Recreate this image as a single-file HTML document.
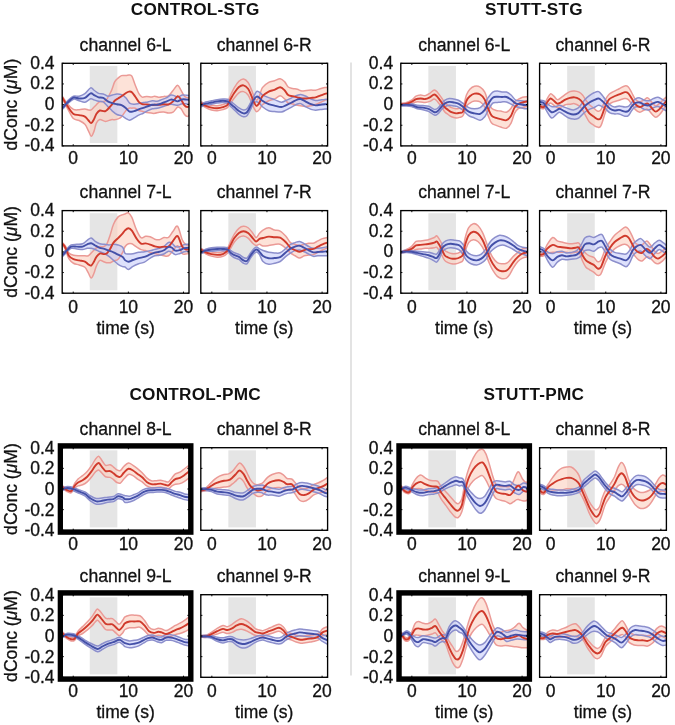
<!DOCTYPE html><html><head><meta charset="utf-8"><style>html,body{margin:0;padding:0;background:#fff;width:675px;height:725px;overflow:hidden}svg{display:block;filter:blur(0.3px)}text{font-family:"Liberation Sans", sans-serif;stroke:#111;stroke-width:0.3px}</style></head><body>
<svg width="675" height="725" viewBox="0 0 675 725">
<rect x="0" y="0" width="675" height="725" fill="#fff"/>
<line x1="351" y1="62.6" x2="351" y2="675.5" stroke="#dcdcdc" stroke-width="1.6"/>
<clipPath id="clip00"><rect x="62.20" y="63.30" width="126.80" height="82.60"/></clipPath>
<rect x="89.77" y="65.90" width="27.57" height="77.10" fill="#e5e5e5"/>
<g clip-path="url(#clip00)">
<path d="M62.23,96.20C63.14,97.54 65.85,102.02 67.72,104.22C69.59,106.41 71.54,108.45 73.45,109.37C75.36,110.28 77.27,109.79 79.17,109.71C81.08,109.64 83.37,108.87 84.90,108.91C86.42,108.95 87.28,109.77 88.33,109.94C89.38,110.11 90.24,110.42 91.19,109.94C92.15,109.46 93.20,107.94 94.06,107.08C94.92,106.22 95.39,105.70 96.35,104.79C97.30,103.87 98.26,102.25 99.78,101.58C101.31,100.92 103.60,102.54 105.51,100.78C107.41,99.03 109.70,94.20 111.23,91.05C112.76,87.90 113.52,84.05 114.67,81.89C115.81,79.73 116.96,79.16 118.10,78.11C119.25,77.06 120.22,76.01 121.53,75.59C122.85,75.17 124.75,75.69 126.00,75.59C127.25,75.50 128.03,74.92 129.01,75.02C129.98,75.11 130.82,74.44 131.87,76.16C132.92,77.88 134.15,82.45 135.30,85.32C136.44,88.18 137.59,91.36 138.73,93.33C139.88,95.29 140.83,96.59 142.17,97.10C143.50,97.62 145.22,96.42 146.74,96.42C148.27,96.42 149.99,97.14 151.32,97.10C152.66,97.06 153.42,96.15 154.75,96.19C156.09,96.22 157.81,97.29 159.33,97.33C160.86,97.37 162.38,96.66 163.91,96.42C165.43,96.17 166.96,96.84 168.49,95.84C170.01,94.85 171.54,92.22 173.06,90.46C174.59,88.71 176.31,85.32 177.64,85.32C178.98,85.32 179.93,88.65 181.07,90.46C182.22,92.28 183.46,94.99 184.51,96.19C185.56,97.39 186.45,97.48 187.37,97.67C188.28,97.87 189.56,97.39 190.00,97.33 L190.00,114.50C189.56,114.82 188.28,116.44 187.37,116.44C186.45,116.44 185.56,115.77 184.51,114.50C183.46,113.22 182.22,110.01 181.07,108.77C179.93,107.53 178.98,106.49 177.64,107.06C176.31,107.63 174.59,111.22 173.06,112.21C171.54,113.20 170.01,113.05 168.49,113.01C166.96,112.97 165.43,112.11 163.91,111.98C162.38,111.85 160.86,111.98 159.33,112.21C157.81,112.44 156.09,113.20 154.75,113.35C153.42,113.50 152.66,113.28 151.32,113.12C149.99,112.97 148.27,112.74 146.74,112.44C145.22,112.13 143.50,111.62 142.17,111.29C140.83,110.97 139.88,111.01 138.73,110.49C137.59,109.98 136.44,108.58 135.30,108.20C134.15,107.82 132.92,108.20 131.87,108.20C130.82,108.20 129.98,107.84 129.01,108.20C128.03,108.57 127.25,108.96 126.00,110.40C124.75,111.83 122.85,115.40 121.53,116.81C120.22,118.22 119.25,118.39 118.10,118.87C116.96,119.35 115.81,119.54 114.67,119.67C113.52,119.81 112.76,119.39 111.23,119.67C109.70,119.96 107.41,121.43 105.51,121.39C103.60,121.35 101.31,119.16 99.78,119.44C98.26,119.73 97.30,121.16 96.35,123.11C95.39,125.05 94.92,128.93 94.06,131.12C93.20,133.32 92.15,136.37 91.19,136.27C90.24,136.18 89.38,132.55 88.33,130.55C87.28,128.55 86.42,125.93 84.90,124.25C83.37,122.57 81.08,121.43 79.17,120.47C77.27,119.52 75.36,120.47 73.45,118.53C71.54,116.58 69.59,112.14 67.72,108.80C65.85,105.46 63.14,100.21 62.23,98.49 Z" fill="#fbcfbe" fill-opacity="0.60" stroke="none"/>
<path d="M62.23,107.08C62.67,106.56 63.95,105.04 64.86,103.99C65.78,102.94 66.29,102.08 67.72,100.78C69.16,99.48 71.54,96.97 73.45,96.20C75.36,95.44 77.27,96.62 79.17,96.20C81.08,95.78 82.99,95.08 84.90,93.68C86.81,92.29 89.10,88.42 90.62,87.84C92.15,87.27 92.72,89.33 94.06,90.25C95.39,91.16 97.11,92.73 98.64,93.34C100.16,93.95 101.69,93.44 103.22,93.91C104.74,94.39 106.27,96.01 107.80,96.20C109.32,96.39 110.85,95.44 112.38,95.06C113.90,94.68 115.43,93.99 116.96,93.91C118.48,93.84 120.03,93.93 121.53,94.60C123.04,95.27 124.66,96.51 126.00,97.92C127.34,99.33 128.22,102.01 129.58,103.05C130.94,104.10 132.63,104.10 134.15,104.20C135.68,104.29 137.21,103.91 138.73,103.62C140.26,103.34 141.78,102.77 143.31,102.48C144.84,102.19 146.36,102.19 147.89,101.91C149.41,101.62 150.94,100.86 152.46,100.76C153.99,100.67 155.52,101.53 157.04,101.34C158.57,101.15 160.09,100.19 161.62,99.62C163.15,99.05 164.67,98.67 166.20,97.90C167.72,97.14 169.44,95.42 170.77,95.04C172.11,94.66 173.06,95.23 174.21,95.61C175.35,96.00 176.31,97.43 177.64,97.33C178.98,97.24 180.69,95.39 182.22,95.04C183.74,94.70 185.50,95.19 186.80,95.27C188.09,95.35 189.47,95.46 190.00,95.50 L190.00,104.20C189.47,104.16 188.09,104.04 186.80,103.97C185.50,103.89 183.74,103.51 182.22,103.74C180.69,103.97 178.98,105.17 177.64,105.34C176.31,105.51 175.35,104.96 174.21,104.77C173.06,104.58 172.11,104.08 170.77,104.20C169.44,104.31 167.72,105.00 166.20,105.46C164.67,105.91 163.15,106.49 161.62,106.94C160.09,107.40 158.57,107.90 157.04,108.20C155.52,108.51 153.99,108.37 152.46,108.77C150.94,109.18 149.41,109.86 147.89,110.61C146.36,111.35 144.84,112.49 143.31,113.24C141.78,113.98 140.26,114.29 138.73,115.07C137.21,115.85 135.68,117.07 134.15,117.93C132.63,118.79 130.94,120.12 129.58,120.22C128.22,120.32 127.34,119.29 126.00,118.53C124.66,117.77 123.04,116.33 121.53,115.67C120.03,115.00 118.48,115.28 116.96,114.52C115.43,113.76 113.90,112.42 112.38,111.09C110.85,109.75 109.32,108.03 107.80,106.51C106.27,104.98 104.74,102.79 103.22,101.93C101.69,101.07 100.16,101.70 98.64,101.35C97.11,101.01 95.39,100.29 94.06,99.87C92.72,99.45 92.15,98.45 90.62,98.84C89.10,99.22 86.81,101.83 84.90,102.16C82.99,102.48 81.08,101.28 79.17,100.78C77.27,100.29 75.36,98.68 73.45,99.18C71.54,99.68 69.16,102.50 67.72,103.76C66.29,105.02 65.78,105.80 64.86,106.74C63.95,107.67 62.67,108.93 62.23,109.37 Z" fill="#c8cdfa" fill-opacity="0.60" stroke="none"/>
<path d="M62.23,96.20C63.14,97.54 65.85,102.02 67.72,104.22C69.59,106.41 71.54,108.45 73.45,109.37C75.36,110.28 77.27,109.79 79.17,109.71C81.08,109.64 83.37,108.87 84.90,108.91C86.42,108.95 87.28,109.77 88.33,109.94C89.38,110.11 90.24,110.42 91.19,109.94C92.15,109.46 93.20,107.94 94.06,107.08C94.92,106.22 95.39,105.70 96.35,104.79C97.30,103.87 98.26,102.25 99.78,101.58C101.31,100.92 103.60,102.54 105.51,100.78C107.41,99.03 109.70,94.20 111.23,91.05C112.76,87.90 113.52,84.05 114.67,81.89C115.81,79.73 116.96,79.16 118.10,78.11C119.25,77.06 120.22,76.01 121.53,75.59C122.85,75.17 124.75,75.69 126.00,75.59C127.25,75.50 128.03,74.92 129.01,75.02C129.98,75.11 130.82,74.44 131.87,76.16C132.92,77.88 134.15,82.45 135.30,85.32C136.44,88.18 137.59,91.36 138.73,93.33C139.88,95.29 140.83,96.59 142.17,97.10C143.50,97.62 145.22,96.42 146.74,96.42C148.27,96.42 149.99,97.14 151.32,97.10C152.66,97.06 153.42,96.15 154.75,96.19C156.09,96.22 157.81,97.29 159.33,97.33C160.86,97.37 162.38,96.66 163.91,96.42C165.43,96.17 166.96,96.84 168.49,95.84C170.01,94.85 171.54,92.22 173.06,90.46C174.59,88.71 176.31,85.32 177.64,85.32C178.98,85.32 179.93,88.65 181.07,90.46C182.22,92.28 183.46,94.99 184.51,96.19C185.56,97.39 186.45,97.48 187.37,97.67C188.28,97.87 189.56,97.39 190.00,97.33" fill="none" stroke="#eb9a96" stroke-width="1.50"/>
<path d="M62.23,98.49C63.14,100.21 65.85,105.46 67.72,108.80C69.59,112.14 71.54,116.58 73.45,118.53C75.36,120.47 77.27,119.52 79.17,120.47C81.08,121.43 83.37,122.57 84.90,124.25C86.42,125.93 87.28,128.55 88.33,130.55C89.38,132.55 90.24,136.18 91.19,136.27C92.15,136.37 93.20,133.32 94.06,131.12C94.92,128.93 95.39,125.05 96.35,123.11C97.30,121.16 98.26,119.73 99.78,119.44C101.31,119.16 103.60,121.35 105.51,121.39C107.41,121.43 109.70,119.96 111.23,119.67C112.76,119.39 113.52,119.81 114.67,119.67C115.81,119.54 116.96,119.35 118.10,118.87C119.25,118.39 120.22,118.22 121.53,116.81C122.85,115.40 124.75,111.83 126.00,110.40C127.25,108.96 128.03,108.57 129.01,108.20C129.98,107.84 130.82,108.20 131.87,108.20C132.92,108.20 134.15,107.82 135.30,108.20C136.44,108.58 137.59,109.98 138.73,110.49C139.88,111.01 140.83,110.97 142.17,111.29C143.50,111.62 145.22,112.13 146.74,112.44C148.27,112.74 149.99,112.97 151.32,113.12C152.66,113.28 153.42,113.50 154.75,113.35C156.09,113.20 157.81,112.44 159.33,112.21C160.86,111.98 162.38,111.85 163.91,111.98C165.43,112.11 166.96,112.97 168.49,113.01C170.01,113.05 171.54,113.20 173.06,112.21C174.59,111.22 176.31,107.63 177.64,107.06C178.98,106.49 179.93,107.53 181.07,108.77C182.22,110.01 183.46,113.22 184.51,114.50C185.56,115.77 186.45,116.44 187.37,116.44C188.28,116.44 189.56,114.82 190.00,114.50" fill="none" stroke="#eb9a96" stroke-width="1.50"/>
<path d="M62.23,107.08C62.67,106.56 63.95,105.04 64.86,103.99C65.78,102.94 66.29,102.08 67.72,100.78C69.16,99.48 71.54,96.97 73.45,96.20C75.36,95.44 77.27,96.62 79.17,96.20C81.08,95.78 82.99,95.08 84.90,93.68C86.81,92.29 89.10,88.42 90.62,87.84C92.15,87.27 92.72,89.33 94.06,90.25C95.39,91.16 97.11,92.73 98.64,93.34C100.16,93.95 101.69,93.44 103.22,93.91C104.74,94.39 106.27,96.01 107.80,96.20C109.32,96.39 110.85,95.44 112.38,95.06C113.90,94.68 115.43,93.99 116.96,93.91C118.48,93.84 120.03,93.93 121.53,94.60C123.04,95.27 124.66,96.51 126.00,97.92C127.34,99.33 128.22,102.01 129.58,103.05C130.94,104.10 132.63,104.10 134.15,104.20C135.68,104.29 137.21,103.91 138.73,103.62C140.26,103.34 141.78,102.77 143.31,102.48C144.84,102.19 146.36,102.19 147.89,101.91C149.41,101.62 150.94,100.86 152.46,100.76C153.99,100.67 155.52,101.53 157.04,101.34C158.57,101.15 160.09,100.19 161.62,99.62C163.15,99.05 164.67,98.67 166.20,97.90C167.72,97.14 169.44,95.42 170.77,95.04C172.11,94.66 173.06,95.23 174.21,95.61C175.35,96.00 176.31,97.43 177.64,97.33C178.98,97.24 180.69,95.39 182.22,95.04C183.74,94.70 185.50,95.19 186.80,95.27C188.09,95.35 189.47,95.46 190.00,95.50" fill="none" stroke="#8c8fcc" stroke-width="1.50"/>
<path d="M62.23,109.37C62.67,108.93 63.95,107.67 64.86,106.74C65.78,105.80 66.29,105.02 67.72,103.76C69.16,102.50 71.54,99.68 73.45,99.18C75.36,98.68 77.27,100.29 79.17,100.78C81.08,101.28 82.99,102.48 84.90,102.16C86.81,101.83 89.10,99.22 90.62,98.84C92.15,98.45 92.72,99.45 94.06,99.87C95.39,100.29 97.11,101.01 98.64,101.35C100.16,101.70 101.69,101.07 103.22,101.93C104.74,102.79 106.27,104.98 107.80,106.51C109.32,108.03 110.85,109.75 112.38,111.09C113.90,112.42 115.43,113.76 116.96,114.52C118.48,115.28 120.03,115.00 121.53,115.67C123.04,116.33 124.66,117.77 126.00,118.53C127.34,119.29 128.22,120.32 129.58,120.22C130.94,120.12 132.63,118.79 134.15,117.93C135.68,117.07 137.21,115.85 138.73,115.07C140.26,114.29 141.78,113.98 143.31,113.24C144.84,112.49 146.36,111.35 147.89,110.61C149.41,109.86 150.94,109.18 152.46,108.77C153.99,108.37 155.52,108.51 157.04,108.20C158.57,107.90 160.09,107.40 161.62,106.94C163.15,106.49 164.67,105.91 166.20,105.46C167.72,105.00 169.44,104.31 170.77,104.20C172.11,104.08 173.06,104.58 174.21,104.77C175.35,104.96 176.31,105.51 177.64,105.34C178.98,105.17 180.69,103.97 182.22,103.74C183.74,103.51 185.50,103.89 186.80,103.97C188.09,104.04 189.47,104.16 190.00,104.20" fill="none" stroke="#8c8fcc" stroke-width="1.50"/>
<path d="M62.23,97.35C63.14,98.87 65.85,103.74 67.72,106.51C69.59,109.27 71.54,112.52 73.45,113.95C75.36,115.38 77.27,114.65 79.17,115.09C81.08,115.53 83.37,115.72 84.90,116.58C86.42,117.44 87.28,119.16 88.33,120.25C89.38,121.33 90.24,123.30 91.19,123.11C92.15,122.92 93.20,120.63 94.06,119.10C94.92,117.57 95.39,115.38 96.35,113.95C97.30,112.52 98.26,110.99 99.78,110.51C101.31,110.04 103.60,111.94 105.51,111.09C107.41,110.23 109.70,107.08 111.23,105.36C112.76,103.64 113.52,101.93 114.67,100.78C115.81,99.64 116.96,99.26 118.10,98.49C119.25,97.73 120.22,97.12 121.53,96.20C122.85,95.29 124.75,93.76 126.00,93.00C127.25,92.23 128.03,91.75 129.01,91.61C129.98,91.47 130.82,91.32 131.87,92.18C132.92,93.04 134.15,95.14 135.30,96.76C136.44,98.38 137.59,100.67 138.73,101.91C139.88,103.15 140.83,103.78 142.17,104.20C143.50,104.62 145.22,104.27 146.74,104.43C148.27,104.58 149.99,105.06 151.32,105.11C152.66,105.17 153.42,104.83 154.75,104.77C156.09,104.71 157.81,104.86 159.33,104.77C160.86,104.67 162.38,104.25 163.91,104.20C165.43,104.14 166.96,104.90 168.49,104.43C170.01,103.95 171.54,102.71 173.06,101.34C174.59,99.96 176.31,96.47 177.64,96.19C178.98,95.90 179.93,98.09 181.07,99.62C182.22,101.15 183.46,104.10 184.51,105.34C185.56,106.58 186.45,106.96 187.37,107.06C188.28,107.15 189.56,106.10 190.00,105.91" fill="none" stroke="#d03a2c" stroke-width="1.90" stroke-linejoin="round"/>
<path d="M62.23,108.22C62.67,107.75 63.95,106.35 64.86,105.36C65.78,104.37 66.29,103.55 67.72,102.27C69.16,100.99 71.54,98.32 73.45,97.69C75.36,97.06 77.27,98.45 79.17,98.49C81.08,98.53 82.99,98.78 84.90,97.92C86.81,97.06 89.10,93.82 90.62,93.34C92.15,92.86 92.72,94.39 94.06,95.06C95.39,95.73 97.11,96.87 98.64,97.35C100.16,97.82 101.69,97.25 103.22,97.92C104.74,98.59 106.27,100.50 107.80,101.35C109.32,102.21 110.85,102.59 112.38,103.07C113.90,103.55 115.43,103.87 116.96,104.22C118.48,104.56 120.03,104.46 121.53,105.13C123.04,105.80 124.66,107.14 126.00,108.22C127.34,109.31 128.22,111.16 129.58,111.64C130.94,112.11 132.63,111.44 134.15,111.06C135.68,110.68 137.21,109.88 138.73,109.35C140.26,108.81 141.78,108.37 143.31,107.86C144.84,107.34 146.36,106.77 147.89,106.26C149.41,105.74 150.94,105.02 152.46,104.77C153.99,104.52 155.52,105.02 157.04,104.77C158.57,104.52 160.09,103.80 161.62,103.28C163.15,102.77 164.67,102.29 166.20,101.68C167.72,101.07 169.44,99.87 170.77,99.62C172.11,99.37 173.06,99.91 174.21,100.19C175.35,100.48 176.31,101.47 177.64,101.34C178.98,101.20 180.69,99.68 182.22,99.39C183.74,99.10 185.50,99.54 186.80,99.62C188.09,99.70 189.47,99.81 190.00,99.85" fill="none" stroke="#4450a8" stroke-width="1.90" stroke-linejoin="round"/>
</g>
<path d="M73.23,145.90v-1.6M73.23,63.30v1.6M128.36,145.90v-1.6M128.36,63.30v1.6M183.49,145.90v-1.6M183.49,63.30v1.6M62.20,145.90h1.6M189.00,145.90h-1.6M62.20,125.25h1.6M189.00,125.25h-1.6M62.20,104.60h1.6M189.00,104.60h-1.6M62.20,83.95h1.6M189.00,83.95h-1.6M62.20,63.30h1.6M189.00,63.30h-1.6" stroke="#000" stroke-width="1" fill="none"/>
<rect x="62.20" y="63.30" width="126.80" height="82.60" fill="none" stroke="#000" stroke-width="1.35"/>
<text x="73.23" y="163.50" font-size="17.5" text-anchor="middle" fill="#111">0</text>
<text x="128.36" y="163.50" font-size="17.5" text-anchor="middle" fill="#111">10</text>
<text x="183.49" y="163.50" font-size="17.5" text-anchor="middle" fill="#111">20</text>
<text x="54.60" y="68.70" font-size="17.5" text-anchor="end" fill="#111">0.4</text>
<text x="54.60" y="89.35" font-size="17.5" text-anchor="end" fill="#111">0.2</text>
<text x="54.60" y="110.00" font-size="17.5" text-anchor="end" fill="#111">0</text>
<text x="54.60" y="130.65" font-size="17.5" text-anchor="end" fill="#111">-0.2</text>
<text x="54.60" y="151.30" font-size="17.5" text-anchor="end" fill="#111">-0.4</text>
<text x="125.60" y="51.00" font-size="17.6" text-anchor="middle" fill="#111">channel 6-L</text>
<text transform="translate(17.3,104.60) rotate(-90)" font-size="17.6" text-anchor="middle" fill="#111">dConc (<tspan font-style="italic">&#956;</tspan>M)</text>
<clipPath id="clip01"><rect x="200.80" y="63.30" width="126.80" height="82.60"/></clipPath>
<rect x="228.37" y="65.90" width="27.57" height="77.10" fill="#e5e5e5"/>
<g clip-path="url(#clip01)">
<path d="M200.92,101.70C201.72,102.12 203.97,103.61 205.72,104.22C207.48,104.83 209.54,105.11 211.45,105.36C213.36,105.61 215.27,105.84 217.17,105.70C219.08,105.57 221.18,105.19 222.90,104.56C224.62,103.93 226.14,103.61 227.48,101.93C228.81,100.25 229.77,96.87 230.91,94.48C232.06,92.10 233.01,89.81 234.35,87.62C235.68,85.42 237.40,82.75 238.93,81.32C240.45,79.89 241.98,78.84 243.51,79.03C245.03,79.22 246.75,80.65 248.09,82.46C249.42,84.28 250.47,87.42 251.52,89.91C252.57,92.39 253.52,95.63 254.38,97.35C255.24,99.06 255.81,100.50 256.67,100.21C257.53,99.92 258.58,97.73 259.53,95.63C260.49,93.53 260.87,89.81 262.40,87.62C263.93,85.42 266.71,83.60 268.72,82.45C270.73,81.31 272.54,81.37 274.44,80.74C276.35,80.11 278.45,78.49 280.17,78.68C281.88,78.87 283.41,80.49 284.74,81.88C286.08,83.27 286.84,85.94 288.18,87.03C289.51,88.12 291.23,88.02 292.75,88.40C294.28,88.79 295.81,88.88 297.33,89.32C298.86,89.76 300.38,90.85 301.91,91.04C303.43,91.23 304.96,90.62 306.49,90.46C308.01,90.31 309.54,90.16 311.06,90.12C312.59,90.08 314.12,90.46 315.64,90.24C317.17,90.01 318.69,89.19 320.22,88.75C321.74,88.31 323.58,87.83 324.80,87.60C326.02,87.37 327.08,87.41 327.54,87.38 L327.54,99.28C327.08,99.43 326.02,99.66 324.80,100.19C323.58,100.73 321.74,101.77 320.22,102.48C318.69,103.19 317.17,103.89 315.64,104.43C314.12,104.96 312.59,105.34 311.06,105.68C309.54,106.03 308.01,106.45 306.49,106.49C304.96,106.52 303.43,106.10 301.91,105.91C300.38,105.72 298.86,105.67 297.33,105.34C295.81,105.02 294.28,104.35 292.75,103.97C291.23,103.59 289.51,103.87 288.18,103.05C286.84,102.23 286.08,100.25 284.74,99.05C283.41,97.85 281.88,95.84 280.17,95.84C278.45,95.84 276.35,98.23 274.44,99.05C272.54,99.87 270.73,99.81 268.72,100.76C266.71,101.72 263.93,103.35 262.40,104.79C260.87,106.22 260.49,108.22 259.53,109.37C258.58,110.51 257.53,111.75 256.67,111.66C255.81,111.56 255.24,110.32 254.38,108.80C253.52,107.27 252.57,104.79 251.52,102.50C250.47,100.21 249.42,96.87 248.09,95.06C246.75,93.24 245.03,92.00 243.51,91.62C241.98,91.24 240.45,91.72 238.93,92.77C237.40,93.82 235.68,96.30 234.35,97.92C233.01,99.54 232.06,100.88 230.91,102.50C229.77,104.12 228.81,106.47 227.48,107.65C226.14,108.83 224.62,109.08 222.90,109.60C221.18,110.11 219.08,110.69 217.17,110.74C215.27,110.80 213.36,110.46 211.45,109.94C209.54,109.43 207.48,108.57 205.72,107.65C203.97,106.74 201.72,104.98 200.92,104.45 Z" fill="#fbcfbe" fill-opacity="0.60" stroke="none"/>
<path d="M200.92,103.99C201.72,103.64 203.97,102.46 205.72,101.93C207.48,101.39 209.54,101.16 211.45,100.78C213.36,100.40 215.27,99.92 217.17,99.64C219.08,99.35 221.18,99.12 222.90,99.06C224.62,99.01 226.14,98.85 227.48,99.29C228.81,99.73 229.77,100.88 230.91,101.70C232.06,102.52 233.01,103.19 234.35,104.22C235.68,105.25 237.40,106.93 238.93,107.88C240.45,108.83 242.17,109.79 243.51,109.94C244.84,110.09 245.80,109.94 246.94,108.80C248.09,107.65 249.23,105.17 250.38,103.07C251.52,100.97 252.76,98.15 253.81,96.20C254.86,94.26 255.72,92.02 256.67,91.39C257.63,90.76 258.58,91.85 259.53,92.42C260.49,93.00 260.87,93.95 262.40,94.83C263.93,95.70 266.71,96.88 268.72,97.67C270.73,98.47 272.35,98.88 274.44,99.62C276.54,100.36 279.40,101.98 281.31,102.14C283.22,102.29 284.17,101.24 285.89,100.54C287.60,99.83 289.70,98.78 291.61,97.90C293.52,97.03 295.81,95.84 297.33,95.27C298.86,94.70 299.43,94.36 300.76,94.47C302.10,94.58 303.62,95.19 305.34,95.96C307.06,96.72 309.35,98.28 311.06,99.05C312.78,99.81 314.12,100.38 315.64,100.54C317.17,100.69 318.69,100.15 320.22,99.96C321.74,99.77 323.58,99.49 324.80,99.39C326.02,99.30 327.08,99.39 327.54,99.39 L327.54,109.00C327.08,109.00 326.02,108.91 324.80,109.00C323.58,109.10 321.74,109.38 320.22,109.58C318.69,109.77 317.17,110.19 315.64,110.15C314.12,110.11 312.78,109.92 311.06,109.35C309.35,108.77 307.06,107.67 305.34,106.71C303.62,105.76 302.10,104.08 300.76,103.62C299.43,103.17 298.86,103.40 297.33,103.97C295.81,104.54 293.52,106.03 291.61,107.06C289.70,108.09 287.60,109.33 285.89,110.15C284.17,110.97 283.22,111.75 281.31,111.98C279.40,112.21 276.54,111.73 274.44,111.52C272.35,111.31 270.73,111.52 268.72,110.72C266.71,109.92 263.93,107.95 262.40,106.74C260.87,105.52 260.49,104.25 259.53,103.42C258.58,102.58 257.63,101.75 256.67,101.70C255.72,101.64 254.86,101.70 253.81,103.07C252.76,104.45 251.52,107.84 250.38,109.94C249.23,112.04 248.09,114.52 246.94,115.67C245.80,116.81 244.84,117.04 243.51,116.81C242.17,116.58 240.45,115.44 238.93,114.29C237.40,113.15 235.68,111.20 234.35,109.94C233.01,108.68 232.06,107.82 230.91,106.74C229.77,105.65 228.81,104.12 227.48,103.42C226.14,102.71 224.62,102.56 222.90,102.50C221.18,102.44 219.08,102.79 217.17,103.07C215.27,103.36 213.36,103.83 211.45,104.22C209.54,104.60 207.48,104.94 205.72,105.36C203.97,105.78 201.72,106.51 200.92,106.74 Z" fill="#c8cdfa" fill-opacity="0.60" stroke="none"/>
<path d="M200.92,101.70C201.72,102.12 203.97,103.61 205.72,104.22C207.48,104.83 209.54,105.11 211.45,105.36C213.36,105.61 215.27,105.84 217.17,105.70C219.08,105.57 221.18,105.19 222.90,104.56C224.62,103.93 226.14,103.61 227.48,101.93C228.81,100.25 229.77,96.87 230.91,94.48C232.06,92.10 233.01,89.81 234.35,87.62C235.68,85.42 237.40,82.75 238.93,81.32C240.45,79.89 241.98,78.84 243.51,79.03C245.03,79.22 246.75,80.65 248.09,82.46C249.42,84.28 250.47,87.42 251.52,89.91C252.57,92.39 253.52,95.63 254.38,97.35C255.24,99.06 255.81,100.50 256.67,100.21C257.53,99.92 258.58,97.73 259.53,95.63C260.49,93.53 260.87,89.81 262.40,87.62C263.93,85.42 266.71,83.60 268.72,82.45C270.73,81.31 272.54,81.37 274.44,80.74C276.35,80.11 278.45,78.49 280.17,78.68C281.88,78.87 283.41,80.49 284.74,81.88C286.08,83.27 286.84,85.94 288.18,87.03C289.51,88.12 291.23,88.02 292.75,88.40C294.28,88.79 295.81,88.88 297.33,89.32C298.86,89.76 300.38,90.85 301.91,91.04C303.43,91.23 304.96,90.62 306.49,90.46C308.01,90.31 309.54,90.16 311.06,90.12C312.59,90.08 314.12,90.46 315.64,90.24C317.17,90.01 318.69,89.19 320.22,88.75C321.74,88.31 323.58,87.83 324.80,87.60C326.02,87.37 327.08,87.41 327.54,87.38" fill="none" stroke="#eb9a96" stroke-width="1.50"/>
<path d="M200.92,104.45C201.72,104.98 203.97,106.74 205.72,107.65C207.48,108.57 209.54,109.43 211.45,109.94C213.36,110.46 215.27,110.80 217.17,110.74C219.08,110.69 221.18,110.11 222.90,109.60C224.62,109.08 226.14,108.83 227.48,107.65C228.81,106.47 229.77,104.12 230.91,102.50C232.06,100.88 233.01,99.54 234.35,97.92C235.68,96.30 237.40,93.82 238.93,92.77C240.45,91.72 241.98,91.24 243.51,91.62C245.03,92.00 246.75,93.24 248.09,95.06C249.42,96.87 250.47,100.21 251.52,102.50C252.57,104.79 253.52,107.27 254.38,108.80C255.24,110.32 255.81,111.56 256.67,111.66C257.53,111.75 258.58,110.51 259.53,109.37C260.49,108.22 260.87,106.22 262.40,104.79C263.93,103.35 266.71,101.72 268.72,100.76C270.73,99.81 272.54,99.87 274.44,99.05C276.35,98.23 278.45,95.84 280.17,95.84C281.88,95.84 283.41,97.85 284.74,99.05C286.08,100.25 286.84,102.23 288.18,103.05C289.51,103.87 291.23,103.59 292.75,103.97C294.28,104.35 295.81,105.02 297.33,105.34C298.86,105.67 300.38,105.72 301.91,105.91C303.43,106.10 304.96,106.52 306.49,106.49C308.01,106.45 309.54,106.03 311.06,105.68C312.59,105.34 314.12,104.96 315.64,104.43C317.17,103.89 318.69,103.19 320.22,102.48C321.74,101.77 323.58,100.73 324.80,100.19C326.02,99.66 327.08,99.43 327.54,99.28" fill="none" stroke="#eb9a96" stroke-width="1.50"/>
<path d="M200.92,103.99C201.72,103.64 203.97,102.46 205.72,101.93C207.48,101.39 209.54,101.16 211.45,100.78C213.36,100.40 215.27,99.92 217.17,99.64C219.08,99.35 221.18,99.12 222.90,99.06C224.62,99.01 226.14,98.85 227.48,99.29C228.81,99.73 229.77,100.88 230.91,101.70C232.06,102.52 233.01,103.19 234.35,104.22C235.68,105.25 237.40,106.93 238.93,107.88C240.45,108.83 242.17,109.79 243.51,109.94C244.84,110.09 245.80,109.94 246.94,108.80C248.09,107.65 249.23,105.17 250.38,103.07C251.52,100.97 252.76,98.15 253.81,96.20C254.86,94.26 255.72,92.02 256.67,91.39C257.63,90.76 258.58,91.85 259.53,92.42C260.49,93.00 260.87,93.95 262.40,94.83C263.93,95.70 266.71,96.88 268.72,97.67C270.73,98.47 272.35,98.88 274.44,99.62C276.54,100.36 279.40,101.98 281.31,102.14C283.22,102.29 284.17,101.24 285.89,100.54C287.60,99.83 289.70,98.78 291.61,97.90C293.52,97.03 295.81,95.84 297.33,95.27C298.86,94.70 299.43,94.36 300.76,94.47C302.10,94.58 303.62,95.19 305.34,95.96C307.06,96.72 309.35,98.28 311.06,99.05C312.78,99.81 314.12,100.38 315.64,100.54C317.17,100.69 318.69,100.15 320.22,99.96C321.74,99.77 323.58,99.49 324.80,99.39C326.02,99.30 327.08,99.39 327.54,99.39" fill="none" stroke="#8c8fcc" stroke-width="1.50"/>
<path d="M200.92,106.74C201.72,106.51 203.97,105.78 205.72,105.36C207.48,104.94 209.54,104.60 211.45,104.22C213.36,103.83 215.27,103.36 217.17,103.07C219.08,102.79 221.18,102.44 222.90,102.50C224.62,102.56 226.14,102.71 227.48,103.42C228.81,104.12 229.77,105.65 230.91,106.74C232.06,107.82 233.01,108.68 234.35,109.94C235.68,111.20 237.40,113.15 238.93,114.29C240.45,115.44 242.17,116.58 243.51,116.81C244.84,117.04 245.80,116.81 246.94,115.67C248.09,114.52 249.23,112.04 250.38,109.94C251.52,107.84 252.76,104.45 253.81,103.07C254.86,101.70 255.72,101.64 256.67,101.70C257.63,101.75 258.58,102.58 259.53,103.42C260.49,104.25 260.87,105.52 262.40,106.74C263.93,107.95 266.71,109.92 268.72,110.72C270.73,111.52 272.35,111.31 274.44,111.52C276.54,111.73 279.40,112.21 281.31,111.98C283.22,111.75 284.17,110.97 285.89,110.15C287.60,109.33 289.70,108.09 291.61,107.06C293.52,106.03 295.81,104.54 297.33,103.97C298.86,103.40 299.43,103.17 300.76,103.62C302.10,104.08 303.62,105.76 305.34,106.71C307.06,107.67 309.35,108.77 311.06,109.35C312.78,109.92 314.12,110.11 315.64,110.15C317.17,110.19 318.69,109.77 320.22,109.58C321.74,109.38 323.58,109.10 324.80,109.00C326.02,108.91 327.08,109.00 327.54,109.00" fill="none" stroke="#8c8fcc" stroke-width="1.50"/>
<path d="M200.92,103.07C201.72,103.55 203.97,105.17 205.72,105.93C207.48,106.70 209.54,107.27 211.45,107.65C213.36,108.03 215.27,108.32 217.17,108.22C219.08,108.13 221.18,107.65 222.90,107.08C224.62,106.51 226.14,106.22 227.48,104.79C228.81,103.36 229.77,100.50 230.91,98.49C232.06,96.49 233.01,94.68 234.35,92.77C235.68,90.86 237.40,88.28 238.93,87.04C240.45,85.80 241.98,85.04 243.51,85.33C245.03,85.61 246.75,86.95 248.09,88.76C249.42,90.57 250.47,93.82 251.52,96.20C252.57,98.59 253.52,101.45 254.38,103.07C255.24,104.69 255.81,106.03 256.67,105.93C257.53,105.84 258.58,104.12 259.53,102.50C260.49,100.88 260.87,98.02 262.40,96.20C263.93,94.39 266.71,92.66 268.72,91.61C270.73,90.56 272.54,90.62 274.44,89.89C276.35,89.17 278.45,87.17 280.17,87.26C281.88,87.36 283.41,89.17 284.74,90.46C286.08,91.76 286.84,94.09 288.18,95.04C289.51,96.00 291.23,95.81 292.75,96.19C294.28,96.57 295.81,96.95 297.33,97.33C298.86,97.71 300.38,98.28 301.91,98.48C303.43,98.67 304.96,98.57 306.49,98.48C308.01,98.38 309.54,98.09 311.06,97.90C312.59,97.71 314.12,97.71 315.64,97.33C317.17,96.95 318.69,96.19 320.22,95.61C321.74,95.04 323.58,94.28 324.80,93.90C326.02,93.52 327.08,93.42 327.54,93.33" fill="none" stroke="#d03a2c" stroke-width="1.90" stroke-linejoin="round"/>
<path d="M200.92,105.36C201.72,105.08 203.97,104.12 205.72,103.64C207.48,103.17 209.54,102.88 211.45,102.50C213.36,102.12 215.27,101.64 217.17,101.35C219.08,101.07 221.18,100.78 222.90,100.78C224.62,100.78 226.14,100.78 227.48,101.35C228.81,101.93 229.77,103.26 230.91,104.22C232.06,105.17 233.01,105.93 234.35,107.08C235.68,108.22 237.40,110.04 238.93,111.09C240.45,112.14 242.17,113.18 243.51,113.38C244.84,113.57 245.80,113.38 246.94,112.23C248.09,111.09 249.23,108.61 250.38,106.51C251.52,104.41 252.76,101.30 253.81,99.64C254.86,97.98 255.72,96.83 256.67,96.55C257.63,96.26 258.58,97.21 259.53,97.92C260.49,98.63 260.87,99.74 262.40,100.78C263.93,101.83 266.71,103.40 268.72,104.20C270.73,105.00 272.35,105.09 274.44,105.57C276.54,106.05 279.40,107.10 281.31,107.06C283.22,107.02 284.17,106.10 285.89,105.34C287.60,104.58 289.70,103.43 291.61,102.48C293.52,101.53 295.81,100.19 297.33,99.62C298.86,99.05 299.43,98.76 300.76,99.05C302.10,99.33 303.62,100.48 305.34,101.34C307.06,102.19 309.35,103.53 311.06,104.20C312.78,104.86 314.12,105.25 315.64,105.34C317.17,105.44 318.69,104.96 320.22,104.77C321.74,104.58 323.58,104.29 324.80,104.20C326.02,104.10 327.08,104.20 327.54,104.20" fill="none" stroke="#4450a8" stroke-width="1.90" stroke-linejoin="round"/>
</g>
<path d="M211.83,145.90v-1.6M211.83,63.30v1.6M266.96,145.90v-1.6M266.96,63.30v1.6M322.09,145.90v-1.6M322.09,63.30v1.6M200.80,145.90h1.6M327.60,145.90h-1.6M200.80,125.25h1.6M327.60,125.25h-1.6M200.80,104.60h1.6M327.60,104.60h-1.6M200.80,83.95h1.6M327.60,83.95h-1.6M200.80,63.30h1.6M327.60,63.30h-1.6" stroke="#000" stroke-width="1" fill="none"/>
<rect x="200.80" y="63.30" width="126.80" height="82.60" fill="none" stroke="#000" stroke-width="1.35"/>
<text x="211.83" y="163.50" font-size="17.5" text-anchor="middle" fill="#111">0</text>
<text x="266.96" y="163.50" font-size="17.5" text-anchor="middle" fill="#111">10</text>
<text x="322.09" y="163.50" font-size="17.5" text-anchor="middle" fill="#111">20</text>
<text x="264.20" y="51.00" font-size="17.6" text-anchor="middle" fill="#111">channel 6-R</text>
<clipPath id="clip02"><rect x="400.80" y="63.30" width="126.80" height="82.60"/></clipPath>
<rect x="428.37" y="65.90" width="27.57" height="77.10" fill="#e5e5e5"/>
<g clip-path="url(#clip02)">
<path d="M400.92,103.30C401.72,103.22 403.97,103.36 405.72,102.84C407.48,102.33 409.73,101.32 411.45,100.21C413.17,99.10 414.50,97.06 416.03,96.20C417.56,95.34 419.08,95.15 420.61,95.06C422.13,94.96 423.66,95.92 425.19,95.63C426.71,95.34 428.24,94.29 429.77,93.34C431.29,92.39 433.01,90.00 434.35,89.91C435.68,89.81 436.64,91.53 437.78,92.77C438.93,94.01 440.07,95.73 441.22,97.35C442.36,98.97 443.51,101.16 444.65,102.50C445.80,103.83 446.94,104.50 448.09,105.36C449.23,106.22 450.18,107.08 451.52,107.65C452.86,108.22 454.76,108.70 456.10,108.80C457.44,108.89 458.38,108.42 459.53,108.22C460.68,108.03 461.85,109.83 463.00,107.63C464.15,105.43 465.29,98.09 466.43,95.04C467.58,91.99 468.53,90.79 469.87,89.32C471.20,87.85 472.73,86.61 474.44,86.23C476.16,85.85 478.45,86.04 480.17,87.03C481.88,88.02 483.41,89.70 484.74,92.18C486.08,94.66 487.03,99.24 488.18,101.91C489.32,104.58 490.27,106.77 491.61,108.20C492.94,109.63 494.66,110.01 496.19,110.49C497.71,110.97 499.05,110.78 500.76,111.06C502.48,111.35 504.77,112.68 506.49,112.21C508.20,111.73 509.73,109.92 511.06,108.20C512.40,106.49 513.35,103.34 514.50,101.91C515.64,100.48 516.59,100.38 517.93,99.62C519.26,98.86 520.90,97.81 522.51,97.33C524.11,96.85 526.70,96.85 527.54,96.76 L527.54,105.91C526.70,106.20 524.11,107.15 522.51,107.63C520.90,108.11 519.26,107.82 517.93,108.77C516.59,109.73 515.64,110.97 514.50,113.35C513.35,115.74 512.40,120.60 511.06,123.08C509.73,125.56 508.20,127.56 506.49,128.23C504.77,128.90 502.48,127.56 500.76,127.08C499.05,126.61 497.71,126.04 496.19,125.37C494.66,124.70 492.94,124.70 491.61,123.08C490.27,121.46 489.32,118.31 488.18,115.64C487.03,112.97 486.08,109.35 484.74,107.06C483.41,104.77 481.88,102.90 480.17,101.91C478.45,100.92 476.16,100.92 474.44,101.11C472.73,101.30 471.20,102.16 469.87,103.05C468.53,103.95 467.58,104.39 466.43,106.49C465.29,108.58 464.15,113.82 463.00,115.64C461.85,117.46 460.68,117.00 459.53,117.38C458.38,117.77 457.44,118.05 456.10,117.96C454.76,117.86 452.86,117.38 451.52,116.81C450.18,116.24 449.23,115.38 448.09,114.52C446.94,113.66 445.80,112.99 444.65,111.66C443.51,110.32 442.36,108.13 441.22,106.51C440.07,104.88 438.93,103.17 437.78,101.93C436.64,100.69 435.68,99.16 434.35,99.06C433.01,98.97 431.29,100.78 429.77,101.35C428.24,101.93 426.71,102.40 425.19,102.50C423.66,102.59 422.13,102.02 420.61,101.93C419.08,101.83 417.56,101.64 416.03,101.93C414.50,102.21 413.17,103.11 411.45,103.64C409.73,104.18 407.48,104.88 405.72,105.13C403.97,105.38 401.72,105.13 400.92,105.13 Z" fill="#fbcfbe" fill-opacity="0.60" stroke="none"/>
<path d="M400.92,104.22C401.72,104.12 403.97,103.72 405.72,103.64C407.48,103.57 409.54,103.47 411.45,103.76C413.36,104.04 415.27,105.06 417.17,105.36C419.08,105.67 420.99,105.44 422.90,105.59C424.81,105.74 426.71,105.65 428.62,106.28C430.53,106.91 432.82,109.04 434.35,109.37C435.87,109.69 436.64,109.08 437.78,108.22C438.93,107.36 440.07,105.51 441.22,104.22C442.36,102.92 443.32,101.39 444.65,100.44C445.99,99.48 447.70,98.72 449.23,98.49C450.76,98.26 452.28,98.78 453.81,99.06C455.34,99.35 456.86,99.49 458.39,100.21C459.92,100.93 461.28,102.16 463.00,103.40C464.72,104.63 466.81,106.73 468.72,107.63C470.63,108.53 472.54,108.77 474.44,108.77C476.35,108.77 478.45,108.58 480.17,107.63C481.88,106.68 483.41,104.71 484.74,103.05C486.08,101.39 486.84,99.49 488.18,97.67C489.51,95.86 491.23,93.29 492.75,92.18C494.28,91.08 495.81,91.06 497.33,91.04C498.86,91.02 500.38,91.90 501.91,92.07C503.43,92.24 504.96,91.57 506.49,92.07C508.01,92.56 509.54,93.71 511.06,95.04C512.59,96.38 514.12,99.12 515.64,100.08C517.17,101.03 518.69,100.57 520.22,100.76C521.74,100.95 523.58,101.22 524.80,101.22C526.02,101.22 527.08,100.84 527.54,100.76 L527.54,108.77C527.08,108.77 526.02,108.97 524.80,108.77C523.58,108.58 521.74,108.01 520.22,107.63C518.69,107.25 517.17,107.06 515.64,106.49C514.12,105.91 512.59,104.96 511.06,104.20C509.54,103.43 508.01,102.29 506.49,101.91C504.96,101.53 503.43,101.81 501.91,101.91C500.38,102.00 498.86,102.27 497.33,102.48C495.81,102.69 494.28,101.87 492.75,103.17C491.23,104.46 489.51,107.99 488.18,110.26C486.84,112.53 486.08,115.13 484.74,116.79C483.41,118.44 481.88,120.03 480.17,120.22C478.45,120.41 476.35,118.69 474.44,117.93C472.54,117.17 470.63,116.92 468.72,115.64C466.81,114.36 464.72,111.69 463.00,110.26C461.28,108.84 459.92,107.80 458.39,107.08C456.86,106.36 455.34,106.22 453.81,105.93C452.28,105.65 450.76,105.21 449.23,105.36C447.70,105.51 445.99,106.09 444.65,106.85C443.32,107.61 442.36,108.76 441.22,109.94C440.07,111.12 438.93,113.09 437.78,113.95C436.64,114.81 435.87,115.53 434.35,115.09C432.82,114.65 430.53,112.21 428.62,111.31C426.71,110.42 424.81,110.13 422.90,109.71C420.99,109.29 419.08,109.33 417.17,108.80C415.27,108.26 413.36,106.98 411.45,106.51C409.54,106.03 407.48,106.01 405.72,105.93C403.97,105.86 401.72,106.03 400.92,106.05 Z" fill="#c8cdfa" fill-opacity="0.60" stroke="none"/>
<path d="M400.92,103.30C401.72,103.22 403.97,103.36 405.72,102.84C407.48,102.33 409.73,101.32 411.45,100.21C413.17,99.10 414.50,97.06 416.03,96.20C417.56,95.34 419.08,95.15 420.61,95.06C422.13,94.96 423.66,95.92 425.19,95.63C426.71,95.34 428.24,94.29 429.77,93.34C431.29,92.39 433.01,90.00 434.35,89.91C435.68,89.81 436.64,91.53 437.78,92.77C438.93,94.01 440.07,95.73 441.22,97.35C442.36,98.97 443.51,101.16 444.65,102.50C445.80,103.83 446.94,104.50 448.09,105.36C449.23,106.22 450.18,107.08 451.52,107.65C452.86,108.22 454.76,108.70 456.10,108.80C457.44,108.89 458.38,108.42 459.53,108.22C460.68,108.03 461.85,109.83 463.00,107.63C464.15,105.43 465.29,98.09 466.43,95.04C467.58,91.99 468.53,90.79 469.87,89.32C471.20,87.85 472.73,86.61 474.44,86.23C476.16,85.85 478.45,86.04 480.17,87.03C481.88,88.02 483.41,89.70 484.74,92.18C486.08,94.66 487.03,99.24 488.18,101.91C489.32,104.58 490.27,106.77 491.61,108.20C492.94,109.63 494.66,110.01 496.19,110.49C497.71,110.97 499.05,110.78 500.76,111.06C502.48,111.35 504.77,112.68 506.49,112.21C508.20,111.73 509.73,109.92 511.06,108.20C512.40,106.49 513.35,103.34 514.50,101.91C515.64,100.48 516.59,100.38 517.93,99.62C519.26,98.86 520.90,97.81 522.51,97.33C524.11,96.85 526.70,96.85 527.54,96.76" fill="none" stroke="#eb9a96" stroke-width="1.50"/>
<path d="M400.92,105.13C401.72,105.13 403.97,105.38 405.72,105.13C407.48,104.88 409.73,104.18 411.45,103.64C413.17,103.11 414.50,102.21 416.03,101.93C417.56,101.64 419.08,101.83 420.61,101.93C422.13,102.02 423.66,102.59 425.19,102.50C426.71,102.40 428.24,101.93 429.77,101.35C431.29,100.78 433.01,98.97 434.35,99.06C435.68,99.16 436.64,100.69 437.78,101.93C438.93,103.17 440.07,104.88 441.22,106.51C442.36,108.13 443.51,110.32 444.65,111.66C445.80,112.99 446.94,113.66 448.09,114.52C449.23,115.38 450.18,116.24 451.52,116.81C452.86,117.38 454.76,117.86 456.10,117.96C457.44,118.05 458.38,117.77 459.53,117.38C460.68,117.00 461.85,117.46 463.00,115.64C464.15,113.82 465.29,108.58 466.43,106.49C467.58,104.39 468.53,103.95 469.87,103.05C471.20,102.16 472.73,101.30 474.44,101.11C476.16,100.92 478.45,100.92 480.17,101.91C481.88,102.90 483.41,104.77 484.74,107.06C486.08,109.35 487.03,112.97 488.18,115.64C489.32,118.31 490.27,121.46 491.61,123.08C492.94,124.70 494.66,124.70 496.19,125.37C497.71,126.04 499.05,126.61 500.76,127.08C502.48,127.56 504.77,128.90 506.49,128.23C508.20,127.56 509.73,125.56 511.06,123.08C512.40,120.60 513.35,115.74 514.50,113.35C515.64,110.97 516.59,109.73 517.93,108.77C519.26,107.82 520.90,108.11 522.51,107.63C524.11,107.15 526.70,106.20 527.54,105.91" fill="none" stroke="#eb9a96" stroke-width="1.50"/>
<path d="M400.92,104.22C401.72,104.12 403.97,103.72 405.72,103.64C407.48,103.57 409.54,103.47 411.45,103.76C413.36,104.04 415.27,105.06 417.17,105.36C419.08,105.67 420.99,105.44 422.90,105.59C424.81,105.74 426.71,105.65 428.62,106.28C430.53,106.91 432.82,109.04 434.35,109.37C435.87,109.69 436.64,109.08 437.78,108.22C438.93,107.36 440.07,105.51 441.22,104.22C442.36,102.92 443.32,101.39 444.65,100.44C445.99,99.48 447.70,98.72 449.23,98.49C450.76,98.26 452.28,98.78 453.81,99.06C455.34,99.35 456.86,99.49 458.39,100.21C459.92,100.93 461.28,102.16 463.00,103.40C464.72,104.63 466.81,106.73 468.72,107.63C470.63,108.53 472.54,108.77 474.44,108.77C476.35,108.77 478.45,108.58 480.17,107.63C481.88,106.68 483.41,104.71 484.74,103.05C486.08,101.39 486.84,99.49 488.18,97.67C489.51,95.86 491.23,93.29 492.75,92.18C494.28,91.08 495.81,91.06 497.33,91.04C498.86,91.02 500.38,91.90 501.91,92.07C503.43,92.24 504.96,91.57 506.49,92.07C508.01,92.56 509.54,93.71 511.06,95.04C512.59,96.38 514.12,99.12 515.64,100.08C517.17,101.03 518.69,100.57 520.22,100.76C521.74,100.95 523.58,101.22 524.80,101.22C526.02,101.22 527.08,100.84 527.54,100.76" fill="none" stroke="#8c8fcc" stroke-width="1.50"/>
<path d="M400.92,106.05C401.72,106.03 403.97,105.86 405.72,105.93C407.48,106.01 409.54,106.03 411.45,106.51C413.36,106.98 415.27,108.26 417.17,108.80C419.08,109.33 420.99,109.29 422.90,109.71C424.81,110.13 426.71,110.42 428.62,111.31C430.53,112.21 432.82,114.65 434.35,115.09C435.87,115.53 436.64,114.81 437.78,113.95C438.93,113.09 440.07,111.12 441.22,109.94C442.36,108.76 443.32,107.61 444.65,106.85C445.99,106.09 447.70,105.51 449.23,105.36C450.76,105.21 452.28,105.65 453.81,105.93C455.34,106.22 456.86,106.36 458.39,107.08C459.92,107.80 461.28,108.84 463.00,110.26C464.72,111.69 466.81,114.36 468.72,115.64C470.63,116.92 472.54,117.17 474.44,117.93C476.35,118.69 478.45,120.41 480.17,120.22C481.88,120.03 483.41,118.44 484.74,116.79C486.08,115.13 486.84,112.53 488.18,110.26C489.51,107.99 491.23,104.46 492.75,103.17C494.28,101.87 495.81,102.69 497.33,102.48C498.86,102.27 500.38,102.00 501.91,101.91C503.43,101.81 504.96,101.53 506.49,101.91C508.01,102.29 509.54,103.43 511.06,104.20C512.59,104.96 514.12,105.91 515.64,106.49C517.17,107.06 518.69,107.25 520.22,107.63C521.74,108.01 523.58,108.58 524.80,108.77C526.02,108.97 527.08,108.77 527.54,108.77" fill="none" stroke="#8c8fcc" stroke-width="1.50"/>
<path d="M400.92,104.22C401.72,104.18 403.97,104.37 405.72,103.99C407.48,103.61 409.73,102.75 411.45,101.93C413.17,101.11 414.50,99.64 416.03,99.06C417.56,98.49 419.08,98.49 420.61,98.49C422.13,98.49 423.66,99.26 425.19,99.06C426.71,98.87 428.24,98.11 429.77,97.35C431.29,96.58 433.01,94.48 434.35,94.48C435.68,94.48 436.64,96.11 437.78,97.35C438.93,98.59 440.07,100.30 441.22,101.93C442.36,103.55 443.51,105.74 444.65,107.08C445.80,108.41 446.94,109.08 448.09,109.94C449.23,110.80 450.18,111.66 451.52,112.23C452.86,112.80 454.76,113.28 456.10,113.38C457.44,113.47 458.38,113.09 459.53,112.80C460.68,112.51 461.85,113.64 463.00,111.64C464.15,109.63 465.29,103.34 466.43,100.76C467.58,98.19 468.53,97.37 469.87,96.19C471.20,95.00 472.73,93.96 474.44,93.67C476.16,93.38 478.45,93.48 480.17,94.47C481.88,95.46 483.41,97.24 484.74,99.62C486.08,102.00 487.03,106.10 488.18,108.77C489.32,111.44 490.27,114.12 491.61,115.64C492.94,117.17 494.66,117.36 496.19,117.93C497.71,118.50 499.05,118.69 500.76,119.07C502.48,119.46 504.77,120.79 506.49,120.22C508.20,119.65 509.73,117.74 511.06,115.64C512.40,113.54 513.35,109.54 514.50,107.63C515.64,105.72 516.59,105.06 517.93,104.20C519.26,103.34 520.90,102.96 522.51,102.48C524.11,102.00 526.70,101.53 527.54,101.34" fill="none" stroke="#d03a2c" stroke-width="1.90" stroke-linejoin="round"/>
<path d="M400.92,105.13C401.72,105.08 403.97,104.79 405.72,104.79C407.48,104.79 409.54,104.75 411.45,105.13C413.36,105.51 415.27,106.66 417.17,107.08C419.08,107.50 420.99,107.36 422.90,107.65C424.81,107.94 426.71,108.03 428.62,108.80C430.53,109.56 432.82,111.85 434.35,112.23C435.87,112.61 436.64,111.94 437.78,111.09C438.93,110.23 440.07,108.32 441.22,107.08C442.36,105.84 443.32,104.50 444.65,103.64C445.99,102.79 447.70,102.12 449.23,101.93C450.76,101.74 452.28,102.21 453.81,102.50C455.34,102.79 456.86,102.92 458.39,103.64C459.92,104.37 461.28,105.50 463.00,106.83C464.72,108.16 466.81,110.55 468.72,111.64C470.63,112.72 472.54,112.97 474.44,113.35C476.35,113.73 478.45,114.50 480.17,113.92C481.88,113.35 483.41,111.58 484.74,109.92C486.08,108.26 486.84,106.01 488.18,103.97C489.51,101.93 491.23,98.88 492.75,97.67C494.28,96.47 495.81,96.87 497.33,96.76C498.86,96.64 500.38,96.95 501.91,96.99C503.43,97.03 504.96,96.55 506.49,96.99C508.01,97.43 509.54,98.57 511.06,99.62C512.59,100.67 514.12,102.52 515.64,103.28C517.17,104.04 518.69,103.91 520.22,104.20C521.74,104.48 523.58,104.90 524.80,105.00C526.02,105.09 527.08,104.81 527.54,104.77" fill="none" stroke="#4450a8" stroke-width="1.90" stroke-linejoin="round"/>
</g>
<path d="M411.83,145.90v-1.6M411.83,63.30v1.6M466.96,145.90v-1.6M466.96,63.30v1.6M522.09,145.90v-1.6M522.09,63.30v1.6M400.80,145.90h1.6M527.60,145.90h-1.6M400.80,125.25h1.6M527.60,125.25h-1.6M400.80,104.60h1.6M527.60,104.60h-1.6M400.80,83.95h1.6M527.60,83.95h-1.6M400.80,63.30h1.6M527.60,63.30h-1.6" stroke="#000" stroke-width="1" fill="none"/>
<rect x="400.80" y="63.30" width="126.80" height="82.60" fill="none" stroke="#000" stroke-width="1.35"/>
<text x="411.83" y="163.50" font-size="17.5" text-anchor="middle" fill="#111">0</text>
<text x="466.96" y="163.50" font-size="17.5" text-anchor="middle" fill="#111">10</text>
<text x="522.09" y="163.50" font-size="17.5" text-anchor="middle" fill="#111">20</text>
<text x="393.20" y="68.70" font-size="17.5" text-anchor="end" fill="#111">0.4</text>
<text x="393.20" y="89.35" font-size="17.5" text-anchor="end" fill="#111">0.2</text>
<text x="393.20" y="110.00" font-size="17.5" text-anchor="end" fill="#111">0</text>
<text x="393.20" y="130.65" font-size="17.5" text-anchor="end" fill="#111">-0.2</text>
<text x="393.20" y="151.30" font-size="17.5" text-anchor="end" fill="#111">-0.4</text>
<text x="464.20" y="51.00" font-size="17.6" text-anchor="middle" fill="#111">channel 6-L</text>
<clipPath id="clip03"><rect x="539.60" y="63.30" width="126.80" height="82.60"/></clipPath>
<rect x="567.17" y="65.90" width="27.57" height="77.10" fill="#e5e5e5"/>
<g clip-path="url(#clip03)">
<path d="M539.69,104.22C540.34,104.41 542.36,106.22 543.58,105.36C544.80,104.50 545.87,100.97 547.01,99.06C548.16,97.16 549.30,94.39 550.45,93.91C551.59,93.44 552.74,95.25 553.88,96.20C555.03,97.16 556.17,99.35 557.32,99.64C558.46,99.92 559.42,98.78 560.75,97.92C562.09,97.06 563.81,95.53 565.33,94.48C566.86,93.44 568.39,92.19 569.91,91.62C571.44,91.05 572.97,90.95 574.49,91.05C576.02,91.15 577.74,91.53 579.07,92.19C580.41,92.86 581.36,93.72 582.51,95.06C583.65,96.39 584.80,98.59 585.94,100.21C587.09,101.83 588.04,103.45 589.38,104.79C590.71,106.12 592.62,107.17 593.96,108.22C595.29,109.27 596.25,110.80 597.39,111.09C598.53,111.37 599.48,111.85 600.82,109.94C602.17,108.03 604.09,102.20 605.43,99.62C606.77,97.04 607.53,95.81 608.87,94.47C610.20,93.13 611.73,92.56 613.44,91.61C615.16,90.66 617.26,89.70 619.17,88.75C621.07,87.79 623.36,86.17 624.89,85.89C626.41,85.60 627.18,85.89 628.32,87.03C629.46,88.18 630.61,90.75 631.75,92.75C632.90,94.76 633.85,97.52 635.19,99.05C636.52,100.57 638.24,101.81 639.76,101.91C641.29,102.00 643.01,100.29 644.34,99.62C645.68,98.95 646.44,97.33 647.77,97.90C649.11,98.48 651.02,101.72 652.35,103.05C653.69,104.39 654.64,105.82 655.79,105.91C656.93,106.01 658.07,104.58 659.22,103.62C660.36,102.67 661.43,101.34 662.65,100.19C663.87,99.05 665.89,97.33 666.54,96.76 L666.54,104.77C665.89,105.72 663.87,108.77 662.65,110.49C661.43,112.21 660.36,113.92 659.22,115.07C658.07,116.21 656.93,117.45 655.79,117.36C654.64,117.26 653.69,115.83 652.35,114.50C651.02,113.16 649.11,110.11 647.77,109.35C646.44,108.58 645.68,109.44 644.34,109.92C643.01,110.40 641.29,112.30 639.76,112.21C638.24,112.11 636.52,110.68 635.19,109.35C633.85,108.01 632.90,105.82 631.75,104.20C630.61,102.58 629.46,100.57 628.32,99.62C627.18,98.67 626.41,98.38 624.89,98.48C623.36,98.57 621.07,99.62 619.17,100.19C617.26,100.76 615.16,101.15 613.44,101.91C611.73,102.67 610.20,103.05 608.87,104.77C607.53,106.49 606.77,108.67 605.43,112.21C604.09,115.74 602.17,123.49 600.82,125.97C599.48,128.45 598.53,127.21 597.39,127.11C596.25,127.02 595.29,126.26 593.96,125.40C592.62,124.54 590.71,123.49 589.38,121.96C588.04,120.44 587.09,118.24 585.94,116.24C584.80,114.23 583.65,111.66 582.51,109.94C581.36,108.22 580.41,106.98 579.07,105.93C577.74,104.88 576.02,103.93 574.49,103.64C572.97,103.36 571.44,104.03 569.91,104.22C568.39,104.41 566.86,104.31 565.33,104.79C563.81,105.27 562.09,106.60 560.75,107.08C559.42,107.56 558.46,107.94 557.32,107.65C556.17,107.36 555.03,106.12 553.88,105.36C552.74,104.60 551.59,102.98 550.45,103.07C549.30,103.17 548.16,104.98 547.01,105.93C545.87,106.89 544.80,108.51 543.58,108.80C542.36,109.08 540.34,107.84 539.69,107.65 Z" fill="#fbcfbe" fill-opacity="0.60" stroke="none"/>
<path d="M539.69,100.21C540.34,100.30 542.36,100.21 543.58,100.78C544.80,101.35 545.68,102.69 547.01,103.64C548.35,104.60 550.07,106.03 551.59,106.51C553.12,106.98 554.84,106.70 556.17,106.51C557.51,106.32 558.27,105.27 559.61,105.36C560.94,105.46 562.66,106.51 564.19,107.08C565.71,107.65 567.24,108.32 568.77,108.80C570.29,109.27 571.82,110.04 573.35,109.94C574.87,109.85 576.59,109.18 577.93,108.22C579.26,107.27 580.22,105.65 581.36,104.22C582.51,102.79 583.46,101.07 584.80,99.64C586.13,98.21 587.85,96.77 589.38,95.63C590.90,94.48 592.43,93.44 593.96,92.77C595.48,92.10 597.19,91.24 598.53,91.62C599.88,92.00 600.85,93.71 602.00,95.04C603.15,96.38 604.10,98.00 605.43,99.62C606.77,101.24 608.48,103.53 610.01,104.77C611.54,106.01 613.06,106.87 614.59,107.06C616.11,107.25 617.45,105.91 619.17,105.91C620.88,105.91 623.36,106.96 624.89,107.06C626.41,107.15 627.18,107.25 628.32,106.49C629.46,105.72 630.61,103.72 631.75,102.48C632.90,101.24 633.85,99.81 635.19,99.05C636.52,98.28 638.24,97.71 639.76,97.90C641.29,98.09 642.82,99.72 644.34,100.19C645.87,100.67 647.39,101.05 648.92,100.76C650.44,100.48 651.97,99.05 653.50,98.48C655.02,97.90 656.55,97.14 658.07,97.33C659.60,97.52 661.24,98.86 662.65,99.62C664.06,100.38 665.89,101.53 666.54,101.91 L666.54,111.06C665.89,110.68 664.06,109.54 662.65,108.77C661.24,108.01 659.60,106.68 658.07,106.49C656.55,106.30 655.02,107.06 653.50,107.63C651.97,108.20 650.44,109.63 648.92,109.92C647.39,110.21 645.87,109.82 644.34,109.35C642.82,108.87 641.29,107.44 639.76,107.06C638.24,106.68 636.52,106.49 635.19,107.06C633.85,107.63 632.90,109.06 631.75,110.49C630.61,111.92 629.46,114.69 628.32,115.64C627.18,116.59 626.41,116.50 624.89,116.21C623.36,115.93 620.88,114.31 619.17,113.92C617.45,113.54 616.11,114.12 614.59,113.92C613.06,113.73 611.54,113.64 610.01,112.78C608.48,111.92 606.77,109.82 605.43,108.77C604.10,107.73 603.15,107.05 602.00,106.49C600.85,105.92 599.88,105.17 598.53,105.36C597.19,105.56 595.48,106.98 593.96,107.65C592.43,108.32 590.90,108.61 589.38,109.37C587.85,110.13 586.13,111.18 584.80,112.23C583.46,113.28 582.51,114.62 581.36,115.67C580.22,116.71 579.26,117.96 577.93,118.53C576.59,119.10 574.87,119.20 573.35,119.10C571.82,119.00 570.29,118.62 568.77,117.96C567.24,117.29 565.71,116.05 564.19,115.09C562.66,114.14 560.94,112.33 559.61,112.23C558.27,112.14 557.51,113.57 556.17,114.52C554.84,115.47 553.12,118.43 551.59,117.96C550.07,117.48 548.35,113.76 547.01,111.66C545.68,109.56 544.80,106.70 543.58,105.36C542.36,104.03 540.34,103.93 539.69,103.64 Z" fill="#c8cdfa" fill-opacity="0.60" stroke="none"/>
<path d="M539.69,104.22C540.34,104.41 542.36,106.22 543.58,105.36C544.80,104.50 545.87,100.97 547.01,99.06C548.16,97.16 549.30,94.39 550.45,93.91C551.59,93.44 552.74,95.25 553.88,96.20C555.03,97.16 556.17,99.35 557.32,99.64C558.46,99.92 559.42,98.78 560.75,97.92C562.09,97.06 563.81,95.53 565.33,94.48C566.86,93.44 568.39,92.19 569.91,91.62C571.44,91.05 572.97,90.95 574.49,91.05C576.02,91.15 577.74,91.53 579.07,92.19C580.41,92.86 581.36,93.72 582.51,95.06C583.65,96.39 584.80,98.59 585.94,100.21C587.09,101.83 588.04,103.45 589.38,104.79C590.71,106.12 592.62,107.17 593.96,108.22C595.29,109.27 596.25,110.80 597.39,111.09C598.53,111.37 599.48,111.85 600.82,109.94C602.17,108.03 604.09,102.20 605.43,99.62C606.77,97.04 607.53,95.81 608.87,94.47C610.20,93.13 611.73,92.56 613.44,91.61C615.16,90.66 617.26,89.70 619.17,88.75C621.07,87.79 623.36,86.17 624.89,85.89C626.41,85.60 627.18,85.89 628.32,87.03C629.46,88.18 630.61,90.75 631.75,92.75C632.90,94.76 633.85,97.52 635.19,99.05C636.52,100.57 638.24,101.81 639.76,101.91C641.29,102.00 643.01,100.29 644.34,99.62C645.68,98.95 646.44,97.33 647.77,97.90C649.11,98.48 651.02,101.72 652.35,103.05C653.69,104.39 654.64,105.82 655.79,105.91C656.93,106.01 658.07,104.58 659.22,103.62C660.36,102.67 661.43,101.34 662.65,100.19C663.87,99.05 665.89,97.33 666.54,96.76" fill="none" stroke="#eb9a96" stroke-width="1.50"/>
<path d="M539.69,107.65C540.34,107.84 542.36,109.08 543.58,108.80C544.80,108.51 545.87,106.89 547.01,105.93C548.16,104.98 549.30,103.17 550.45,103.07C551.59,102.98 552.74,104.60 553.88,105.36C555.03,106.12 556.17,107.36 557.32,107.65C558.46,107.94 559.42,107.56 560.75,107.08C562.09,106.60 563.81,105.27 565.33,104.79C566.86,104.31 568.39,104.41 569.91,104.22C571.44,104.03 572.97,103.36 574.49,103.64C576.02,103.93 577.74,104.88 579.07,105.93C580.41,106.98 581.36,108.22 582.51,109.94C583.65,111.66 584.80,114.23 585.94,116.24C587.09,118.24 588.04,120.44 589.38,121.96C590.71,123.49 592.62,124.54 593.96,125.40C595.29,126.26 596.25,127.02 597.39,127.11C598.53,127.21 599.48,128.45 600.82,125.97C602.17,123.49 604.09,115.74 605.43,112.21C606.77,108.67 607.53,106.49 608.87,104.77C610.20,103.05 611.73,102.67 613.44,101.91C615.16,101.15 617.26,100.76 619.17,100.19C621.07,99.62 623.36,98.57 624.89,98.48C626.41,98.38 627.18,98.67 628.32,99.62C629.46,100.57 630.61,102.58 631.75,104.20C632.90,105.82 633.85,108.01 635.19,109.35C636.52,110.68 638.24,112.11 639.76,112.21C641.29,112.30 643.01,110.40 644.34,109.92C645.68,109.44 646.44,108.58 647.77,109.35C649.11,110.11 651.02,113.16 652.35,114.50C653.69,115.83 654.64,117.26 655.79,117.36C656.93,117.45 658.07,116.21 659.22,115.07C660.36,113.92 661.43,112.21 662.65,110.49C663.87,108.77 665.89,105.72 666.54,104.77" fill="none" stroke="#eb9a96" stroke-width="1.50"/>
<path d="M539.69,100.21C540.34,100.30 542.36,100.21 543.58,100.78C544.80,101.35 545.68,102.69 547.01,103.64C548.35,104.60 550.07,106.03 551.59,106.51C553.12,106.98 554.84,106.70 556.17,106.51C557.51,106.32 558.27,105.27 559.61,105.36C560.94,105.46 562.66,106.51 564.19,107.08C565.71,107.65 567.24,108.32 568.77,108.80C570.29,109.27 571.82,110.04 573.35,109.94C574.87,109.85 576.59,109.18 577.93,108.22C579.26,107.27 580.22,105.65 581.36,104.22C582.51,102.79 583.46,101.07 584.80,99.64C586.13,98.21 587.85,96.77 589.38,95.63C590.90,94.48 592.43,93.44 593.96,92.77C595.48,92.10 597.19,91.24 598.53,91.62C599.88,92.00 600.85,93.71 602.00,95.04C603.15,96.38 604.10,98.00 605.43,99.62C606.77,101.24 608.48,103.53 610.01,104.77C611.54,106.01 613.06,106.87 614.59,107.06C616.11,107.25 617.45,105.91 619.17,105.91C620.88,105.91 623.36,106.96 624.89,107.06C626.41,107.15 627.18,107.25 628.32,106.49C629.46,105.72 630.61,103.72 631.75,102.48C632.90,101.24 633.85,99.81 635.19,99.05C636.52,98.28 638.24,97.71 639.76,97.90C641.29,98.09 642.82,99.72 644.34,100.19C645.87,100.67 647.39,101.05 648.92,100.76C650.44,100.48 651.97,99.05 653.50,98.48C655.02,97.90 656.55,97.14 658.07,97.33C659.60,97.52 661.24,98.86 662.65,99.62C664.06,100.38 665.89,101.53 666.54,101.91" fill="none" stroke="#8c8fcc" stroke-width="1.50"/>
<path d="M539.69,103.64C540.34,103.93 542.36,104.03 543.58,105.36C544.80,106.70 545.68,109.56 547.01,111.66C548.35,113.76 550.07,117.48 551.59,117.96C553.12,118.43 554.84,115.47 556.17,114.52C557.51,113.57 558.27,112.14 559.61,112.23C560.94,112.33 562.66,114.14 564.19,115.09C565.71,116.05 567.24,117.29 568.77,117.96C570.29,118.62 571.82,119.00 573.35,119.10C574.87,119.20 576.59,119.10 577.93,118.53C579.26,117.96 580.22,116.71 581.36,115.67C582.51,114.62 583.46,113.28 584.80,112.23C586.13,111.18 587.85,110.13 589.38,109.37C590.90,108.61 592.43,108.32 593.96,107.65C595.48,106.98 597.19,105.56 598.53,105.36C599.88,105.17 600.85,105.92 602.00,106.49C603.15,107.05 604.10,107.73 605.43,108.77C606.77,109.82 608.48,111.92 610.01,112.78C611.54,113.64 613.06,113.73 614.59,113.92C616.11,114.12 617.45,113.54 619.17,113.92C620.88,114.31 623.36,115.93 624.89,116.21C626.41,116.50 627.18,116.59 628.32,115.64C629.46,114.69 630.61,111.92 631.75,110.49C632.90,109.06 633.85,107.63 635.19,107.06C636.52,106.49 638.24,106.68 639.76,107.06C641.29,107.44 642.82,108.87 644.34,109.35C645.87,109.82 647.39,110.21 648.92,109.92C650.44,109.63 651.97,108.20 653.50,107.63C655.02,107.06 656.55,106.30 658.07,106.49C659.60,106.68 661.24,108.01 662.65,108.77C664.06,109.54 665.89,110.68 666.54,111.06" fill="none" stroke="#8c8fcc" stroke-width="1.50"/>
<path d="M539.69,105.93C540.34,106.12 542.36,107.65 543.58,107.08C544.80,106.51 545.87,103.93 547.01,102.50C548.16,101.07 549.30,98.78 550.45,98.49C551.59,98.21 552.74,99.92 553.88,100.78C555.03,101.64 556.17,103.36 557.32,103.64C558.46,103.93 559.42,103.17 560.75,102.50C562.09,101.83 563.81,100.40 565.33,99.64C566.86,98.87 568.39,98.30 569.91,97.92C571.44,97.54 572.97,97.16 574.49,97.35C576.02,97.54 577.74,98.21 579.07,99.06C580.41,99.92 581.36,100.97 582.51,102.50C583.65,104.03 584.80,106.41 585.94,108.22C587.09,110.04 588.04,111.94 589.38,113.38C590.71,114.81 592.62,115.86 593.96,116.81C595.29,117.76 596.25,118.91 597.39,119.10C598.53,119.29 599.48,120.15 600.82,117.96C602.17,115.76 604.09,108.97 605.43,105.91C606.77,102.86 607.53,101.15 608.87,99.62C610.20,98.09 611.73,97.62 613.44,96.76C615.16,95.90 617.26,95.23 619.17,94.47C621.07,93.71 623.36,92.37 624.89,92.18C626.41,91.99 627.18,92.28 628.32,93.33C629.46,94.37 630.61,96.66 631.75,98.48C632.90,100.29 633.85,102.77 635.19,104.20C636.52,105.63 638.24,106.96 639.76,107.06C641.29,107.15 643.01,105.34 644.34,104.77C645.68,104.20 646.44,102.96 647.77,103.62C649.11,104.29 651.02,107.44 652.35,108.77C653.69,110.11 654.64,111.54 655.79,111.64C656.93,111.73 658.07,110.40 659.22,109.35C660.36,108.30 661.43,106.77 662.65,105.34C663.87,103.91 665.89,101.53 666.54,100.76" fill="none" stroke="#d03a2c" stroke-width="1.90" stroke-linejoin="round"/>
<path d="M539.69,101.93C540.34,102.12 542.36,102.12 543.58,103.07C544.80,104.03 545.68,106.12 547.01,107.65C548.35,109.18 550.07,111.75 551.59,112.23C553.12,112.71 554.84,111.09 556.17,110.51C557.51,109.94 558.27,108.70 559.61,108.80C560.94,108.89 562.66,110.32 564.19,111.09C565.71,111.85 567.24,112.80 568.77,113.38C570.29,113.95 571.82,114.52 573.35,114.52C574.87,114.52 576.59,114.14 577.93,113.38C579.26,112.61 580.22,111.18 581.36,109.94C582.51,108.70 583.46,107.17 584.80,105.93C586.13,104.69 587.85,103.45 589.38,102.50C590.90,101.55 592.43,100.88 593.96,100.21C595.48,99.54 597.19,98.40 598.53,98.49C599.88,98.58 600.85,99.81 602.00,100.76C603.15,101.71 604.10,102.86 605.43,104.20C606.77,105.53 608.48,107.73 610.01,108.77C611.54,109.82 613.06,110.30 614.59,110.49C616.11,110.68 617.45,109.73 619.17,109.92C620.88,110.11 623.36,111.44 624.89,111.64C626.41,111.83 627.18,111.92 628.32,111.06C629.46,110.21 630.61,107.82 631.75,106.49C632.90,105.15 633.85,103.72 635.19,103.05C636.52,102.39 638.24,102.19 639.76,102.48C641.29,102.77 642.82,104.29 644.34,104.77C645.87,105.25 647.39,105.63 648.92,105.34C650.44,105.06 651.97,103.62 653.50,103.05C655.02,102.48 656.55,101.72 658.07,101.91C659.60,102.10 661.24,103.43 662.65,104.20C664.06,104.96 665.89,106.10 666.54,106.49" fill="none" stroke="#4450a8" stroke-width="1.90" stroke-linejoin="round"/>
</g>
<path d="M550.63,145.90v-1.6M550.63,63.30v1.6M605.76,145.90v-1.6M605.76,63.30v1.6M660.89,145.90v-1.6M660.89,63.30v1.6M539.60,145.90h1.6M666.40,145.90h-1.6M539.60,125.25h1.6M666.40,125.25h-1.6M539.60,104.60h1.6M666.40,104.60h-1.6M539.60,83.95h1.6M666.40,83.95h-1.6M539.60,63.30h1.6M666.40,63.30h-1.6" stroke="#000" stroke-width="1" fill="none"/>
<rect x="539.60" y="63.30" width="126.80" height="82.60" fill="none" stroke="#000" stroke-width="1.35"/>
<text x="550.63" y="163.50" font-size="17.5" text-anchor="middle" fill="#111">0</text>
<text x="605.76" y="163.50" font-size="17.5" text-anchor="middle" fill="#111">10</text>
<text x="660.89" y="163.50" font-size="17.5" text-anchor="middle" fill="#111">20</text>
<text x="603.00" y="51.00" font-size="17.6" text-anchor="middle" fill="#111">channel 6-R</text>
<clipPath id="clip10"><rect x="62.20" y="210.60" width="126.80" height="82.60"/></clipPath>
<rect x="89.77" y="213.20" width="27.57" height="77.10" fill="#e5e5e5"/>
<g clip-path="url(#clip10)">
<path d="M62.57,242.63C63.05,243.20 64.39,244.35 65.43,246.06C66.48,247.78 67.53,251.41 68.87,252.93C70.21,254.46 71.73,254.75 73.45,255.22C75.17,255.70 77.27,255.70 79.17,255.80C81.08,255.89 83.37,255.80 84.90,255.80C86.42,255.80 87.28,256.27 88.33,255.80C89.38,255.32 90.24,253.89 91.19,252.93C92.15,251.98 93.20,250.93 94.06,250.07C94.92,249.21 95.39,248.35 96.35,247.78C97.30,247.21 98.64,246.83 99.78,246.64C100.93,246.45 102.07,247.02 103.22,246.64C104.36,246.26 105.51,246.26 106.65,244.35C107.80,242.44 108.94,238.53 110.09,235.19C111.23,231.85 112.18,227.36 113.52,224.31C114.86,221.26 116.57,218.49 118.10,216.87C119.63,215.25 121.53,215.06 122.68,214.58C123.83,214.10 124.04,214.29 125.00,214.01C125.96,213.72 127.29,212.29 128.43,212.86C129.58,213.43 130.53,214.62 131.87,217.44C133.20,220.26 134.92,226.42 136.44,229.80C137.97,233.17 139.50,236.61 141.02,237.69C142.55,238.78 144.07,236.47 145.60,236.32C147.12,236.17 148.65,236.30 150.18,236.78C151.70,237.25 153.23,238.69 154.75,239.18C156.28,239.68 157.81,240.04 159.33,239.75C160.86,239.47 162.38,237.85 163.91,237.46C165.43,237.08 166.96,238.51 168.49,237.46C170.01,236.42 171.54,233.02 173.06,231.17C174.59,229.32 176.12,224.93 177.64,226.36C179.17,227.79 180.88,236.74 182.22,239.75C183.55,242.77 184.43,243.49 185.65,244.45C186.87,245.40 188.89,245.30 189.54,245.48 L189.54,253.49C188.89,253.58 186.87,254.06 185.65,254.06C184.43,254.06 183.55,254.86 182.22,253.49C180.88,252.11 179.17,246.30 177.64,245.82C176.12,245.34 174.59,248.97 173.06,250.62C171.54,252.28 170.01,254.92 168.49,255.77C166.96,256.63 165.43,255.97 163.91,255.77C162.38,255.58 160.86,254.99 159.33,254.63C157.81,254.27 156.28,253.98 154.75,253.60C153.23,253.22 151.70,252.86 150.18,252.34C148.65,251.83 147.12,250.97 145.60,250.51C144.07,250.05 142.55,250.19 141.02,249.60C139.50,249.00 137.97,247.94 136.44,246.96C134.92,245.99 133.20,244.29 131.87,243.76C130.53,243.22 129.58,243.26 128.43,243.76C127.29,244.25 125.96,245.30 125.00,246.73C124.04,248.17 123.83,250.28 122.68,252.36C121.53,254.44 119.63,257.80 118.10,259.23C116.57,260.66 114.86,260.38 113.52,260.95C112.18,261.52 111.23,262.38 110.09,262.67C108.94,262.95 107.80,262.86 106.65,262.67C105.51,262.47 104.36,261.90 103.22,261.52C102.07,261.14 100.93,259.61 99.78,260.38C98.64,261.14 97.30,264.00 96.35,266.10C95.39,268.20 94.92,270.97 94.06,272.97C93.20,274.97 92.15,278.12 91.19,278.12C90.24,278.12 89.38,274.78 88.33,272.97C87.28,271.16 86.42,268.58 84.90,267.25C83.37,265.91 81.08,265.62 79.17,264.96C77.27,264.29 75.17,264.29 73.45,263.24C71.73,262.19 70.21,260.95 68.87,258.66C67.53,256.37 66.48,251.79 65.43,249.50C64.39,247.21 63.05,245.68 62.57,244.92 Z" fill="#fbcfbe" fill-opacity="0.60" stroke="none"/>
<path d="M62.57,253.85C63.24,253.03 65.15,250.42 66.58,248.93C68.01,247.44 69.44,245.68 71.16,244.92C72.88,244.16 74.98,244.54 76.88,244.35C78.79,244.16 80.89,244.44 82.61,243.77C84.33,243.11 85.76,241.29 87.19,240.34C88.62,239.39 89.86,237.86 91.19,238.05C92.53,238.24 93.77,240.53 95.20,241.48C96.63,242.44 98.26,243.30 99.78,243.77C101.31,244.25 102.83,244.16 104.36,244.35C105.89,244.54 107.41,244.92 108.94,244.92C110.47,244.92 111.99,244.35 113.52,244.35C115.05,244.35 116.57,244.44 118.10,244.92C119.63,245.40 121.53,245.82 122.68,247.21C123.83,248.60 124.04,252.12 125.00,253.26C125.96,254.40 127.10,253.98 128.43,254.06C129.77,254.13 131.29,254.00 133.01,253.71C134.73,253.43 136.83,252.67 138.73,252.34C140.64,252.02 142.55,252.06 144.45,251.77C146.36,251.48 148.46,251.03 150.18,250.62C151.89,250.22 153.23,249.75 154.75,249.37C156.28,248.98 157.81,248.79 159.33,248.34C160.86,247.88 162.38,247.59 163.91,246.62C165.43,245.65 167.15,243.07 168.49,242.50C169.82,241.93 170.77,242.50 171.92,243.19C173.06,243.87 174.02,246.05 175.35,246.62C176.69,247.19 178.40,246.98 179.93,246.62C181.46,246.26 182.90,244.83 184.51,244.45C186.11,244.06 188.70,244.35 189.54,244.33 L189.54,251.20C188.70,251.29 186.11,251.39 184.51,251.77C182.90,252.15 181.46,253.01 179.93,253.49C178.40,253.96 176.69,254.82 175.35,254.63C174.02,254.44 173.06,252.91 171.92,252.34C170.77,251.77 169.82,250.93 168.49,251.20C167.15,251.46 165.43,253.28 163.91,253.94C162.38,254.61 160.86,254.90 159.33,255.20C157.81,255.51 156.28,255.28 154.75,255.77C153.23,256.27 151.89,257.13 150.18,258.18C148.46,259.23 146.36,261.13 144.45,262.07C142.55,263.00 140.64,263.08 138.73,263.79C136.83,264.49 134.73,265.37 133.01,266.30C131.29,267.24 129.77,269.28 128.43,269.39C127.10,269.51 125.96,267.44 125.00,266.99C124.04,266.54 123.83,267.11 122.68,266.67C121.53,266.24 119.63,265.43 118.10,264.38C116.57,263.33 115.05,261.71 113.52,260.38C111.99,259.04 110.47,257.51 108.94,256.37C107.41,255.22 105.89,254.27 104.36,253.51C102.83,252.74 101.31,252.46 99.78,251.79C98.26,251.12 96.63,250.07 95.20,249.50C93.77,248.93 92.53,248.55 91.19,248.35C89.86,248.16 88.62,248.16 87.19,248.35C85.76,248.55 84.33,249.40 82.61,249.50C80.89,249.59 78.79,249.12 76.88,248.93C74.98,248.74 72.88,247.78 71.16,248.35C69.44,248.93 68.01,250.99 66.58,252.36C65.15,253.74 63.24,255.89 62.57,256.60 Z" fill="#c8cdfa" fill-opacity="0.60" stroke="none"/>
<path d="M62.57,242.63C63.05,243.20 64.39,244.35 65.43,246.06C66.48,247.78 67.53,251.41 68.87,252.93C70.21,254.46 71.73,254.75 73.45,255.22C75.17,255.70 77.27,255.70 79.17,255.80C81.08,255.89 83.37,255.80 84.90,255.80C86.42,255.80 87.28,256.27 88.33,255.80C89.38,255.32 90.24,253.89 91.19,252.93C92.15,251.98 93.20,250.93 94.06,250.07C94.92,249.21 95.39,248.35 96.35,247.78C97.30,247.21 98.64,246.83 99.78,246.64C100.93,246.45 102.07,247.02 103.22,246.64C104.36,246.26 105.51,246.26 106.65,244.35C107.80,242.44 108.94,238.53 110.09,235.19C111.23,231.85 112.18,227.36 113.52,224.31C114.86,221.26 116.57,218.49 118.10,216.87C119.63,215.25 121.53,215.06 122.68,214.58C123.83,214.10 124.04,214.29 125.00,214.01C125.96,213.72 127.29,212.29 128.43,212.86C129.58,213.43 130.53,214.62 131.87,217.44C133.20,220.26 134.92,226.42 136.44,229.80C137.97,233.17 139.50,236.61 141.02,237.69C142.55,238.78 144.07,236.47 145.60,236.32C147.12,236.17 148.65,236.30 150.18,236.78C151.70,237.25 153.23,238.69 154.75,239.18C156.28,239.68 157.81,240.04 159.33,239.75C160.86,239.47 162.38,237.85 163.91,237.46C165.43,237.08 166.96,238.51 168.49,237.46C170.01,236.42 171.54,233.02 173.06,231.17C174.59,229.32 176.12,224.93 177.64,226.36C179.17,227.79 180.88,236.74 182.22,239.75C183.55,242.77 184.43,243.49 185.65,244.45C186.87,245.40 188.89,245.30 189.54,245.48" fill="none" stroke="#eb9a96" stroke-width="1.50"/>
<path d="M62.57,244.92C63.05,245.68 64.39,247.21 65.43,249.50C66.48,251.79 67.53,256.37 68.87,258.66C70.21,260.95 71.73,262.19 73.45,263.24C75.17,264.29 77.27,264.29 79.17,264.96C81.08,265.62 83.37,265.91 84.90,267.25C86.42,268.58 87.28,271.16 88.33,272.97C89.38,274.78 90.24,278.12 91.19,278.12C92.15,278.12 93.20,274.97 94.06,272.97C94.92,270.97 95.39,268.20 96.35,266.10C97.30,264.00 98.64,261.14 99.78,260.38C100.93,259.61 102.07,261.14 103.22,261.52C104.36,261.90 105.51,262.47 106.65,262.67C107.80,262.86 108.94,262.95 110.09,262.67C111.23,262.38 112.18,261.52 113.52,260.95C114.86,260.38 116.57,260.66 118.10,259.23C119.63,257.80 121.53,254.44 122.68,252.36C123.83,250.28 124.04,248.17 125.00,246.73C125.96,245.30 127.29,244.25 128.43,243.76C129.58,243.26 130.53,243.22 131.87,243.76C133.20,244.29 134.92,245.99 136.44,246.96C137.97,247.94 139.50,249.00 141.02,249.60C142.55,250.19 144.07,250.05 145.60,250.51C147.12,250.97 148.65,251.83 150.18,252.34C151.70,252.86 153.23,253.22 154.75,253.60C156.28,253.98 157.81,254.27 159.33,254.63C160.86,254.99 162.38,255.58 163.91,255.77C165.43,255.97 166.96,256.63 168.49,255.77C170.01,254.92 171.54,252.28 173.06,250.62C174.59,248.97 176.12,245.34 177.64,245.82C179.17,246.30 180.88,252.11 182.22,253.49C183.55,254.86 184.43,254.06 185.65,254.06C186.87,254.06 188.89,253.58 189.54,253.49" fill="none" stroke="#eb9a96" stroke-width="1.50"/>
<path d="M62.57,253.85C63.24,253.03 65.15,250.42 66.58,248.93C68.01,247.44 69.44,245.68 71.16,244.92C72.88,244.16 74.98,244.54 76.88,244.35C78.79,244.16 80.89,244.44 82.61,243.77C84.33,243.11 85.76,241.29 87.19,240.34C88.62,239.39 89.86,237.86 91.19,238.05C92.53,238.24 93.77,240.53 95.20,241.48C96.63,242.44 98.26,243.30 99.78,243.77C101.31,244.25 102.83,244.16 104.36,244.35C105.89,244.54 107.41,244.92 108.94,244.92C110.47,244.92 111.99,244.35 113.52,244.35C115.05,244.35 116.57,244.44 118.10,244.92C119.63,245.40 121.53,245.82 122.68,247.21C123.83,248.60 124.04,252.12 125.00,253.26C125.96,254.40 127.10,253.98 128.43,254.06C129.77,254.13 131.29,254.00 133.01,253.71C134.73,253.43 136.83,252.67 138.73,252.34C140.64,252.02 142.55,252.06 144.45,251.77C146.36,251.48 148.46,251.03 150.18,250.62C151.89,250.22 153.23,249.75 154.75,249.37C156.28,248.98 157.81,248.79 159.33,248.34C160.86,247.88 162.38,247.59 163.91,246.62C165.43,245.65 167.15,243.07 168.49,242.50C169.82,241.93 170.77,242.50 171.92,243.19C173.06,243.87 174.02,246.05 175.35,246.62C176.69,247.19 178.40,246.98 179.93,246.62C181.46,246.26 182.90,244.83 184.51,244.45C186.11,244.06 188.70,244.35 189.54,244.33" fill="none" stroke="#8c8fcc" stroke-width="1.50"/>
<path d="M62.57,256.60C63.24,255.89 65.15,253.74 66.58,252.36C68.01,250.99 69.44,248.93 71.16,248.35C72.88,247.78 74.98,248.74 76.88,248.93C78.79,249.12 80.89,249.59 82.61,249.50C84.33,249.40 85.76,248.55 87.19,248.35C88.62,248.16 89.86,248.16 91.19,248.35C92.53,248.55 93.77,248.93 95.20,249.50C96.63,250.07 98.26,251.12 99.78,251.79C101.31,252.46 102.83,252.74 104.36,253.51C105.89,254.27 107.41,255.22 108.94,256.37C110.47,257.51 111.99,259.04 113.52,260.38C115.05,261.71 116.57,263.33 118.10,264.38C119.63,265.43 121.53,266.24 122.68,266.67C123.83,267.11 124.04,266.54 125.00,266.99C125.96,267.44 127.10,269.51 128.43,269.39C129.77,269.28 131.29,267.24 133.01,266.30C134.73,265.37 136.83,264.49 138.73,263.79C140.64,263.08 142.55,263.00 144.45,262.07C146.36,261.13 148.46,259.23 150.18,258.18C151.89,257.13 153.23,256.27 154.75,255.77C156.28,255.28 157.81,255.51 159.33,255.20C160.86,254.90 162.38,254.61 163.91,253.94C165.43,253.28 167.15,251.46 168.49,251.20C169.82,250.93 170.77,251.77 171.92,252.34C173.06,252.91 174.02,254.44 175.35,254.63C176.69,254.82 178.40,253.96 179.93,253.49C181.46,253.01 182.90,252.15 184.51,251.77C186.11,251.39 188.70,251.29 189.54,251.20" fill="none" stroke="#8c8fcc" stroke-width="1.50"/>
<path d="M62.57,243.77C63.05,244.44 64.39,245.78 65.43,247.78C66.48,249.79 67.53,253.89 68.87,255.80C70.21,257.70 71.73,258.47 73.45,259.23C75.17,259.99 77.27,259.99 79.17,260.38C81.08,260.76 83.37,260.85 84.90,261.52C86.42,262.19 87.28,263.71 88.33,264.38C89.38,265.05 90.24,266.00 91.19,265.53C92.15,265.05 93.20,262.95 94.06,261.52C94.92,260.09 95.39,258.28 96.35,256.94C97.30,255.61 98.64,253.98 99.78,253.51C100.93,253.03 102.07,254.08 103.22,254.08C104.36,254.08 105.51,254.36 106.65,253.51C107.80,252.65 108.94,250.74 110.09,248.93C111.23,247.11 112.18,244.44 113.52,242.63C114.86,240.82 116.57,239.58 118.10,238.05C119.63,236.52 121.53,234.75 122.68,233.47C123.83,232.19 124.04,231.23 125.00,230.37C125.96,229.51 127.29,228.27 128.43,228.31C129.58,228.35 130.53,228.92 131.87,230.60C133.20,232.28 134.92,236.21 136.44,238.38C137.97,240.55 139.50,242.81 141.02,243.64C142.55,244.48 144.07,243.26 145.60,243.42C147.12,243.57 148.65,244.06 150.18,244.56C151.70,245.06 153.23,245.95 154.75,246.39C156.28,246.83 157.81,247.15 159.33,247.19C160.86,247.23 162.38,246.72 163.91,246.62C165.43,246.52 166.96,247.57 168.49,246.62C170.01,245.67 171.54,242.65 173.06,240.90C174.59,239.14 176.12,235.14 177.64,236.09C179.17,237.05 180.88,244.43 182.22,246.62C183.55,248.81 184.43,248.77 185.65,249.25C186.87,249.73 188.89,249.44 189.54,249.48" fill="none" stroke="#d03a2c" stroke-width="1.90" stroke-linejoin="round"/>
<path d="M62.57,255.22C63.24,254.46 65.15,252.08 66.58,250.64C68.01,249.21 69.44,247.30 71.16,246.64C72.88,245.97 74.98,246.64 76.88,246.64C78.79,246.64 80.89,247.02 82.61,246.64C84.33,246.26 85.76,244.92 87.19,244.35C88.62,243.77 89.86,243.01 91.19,243.20C92.53,243.39 93.77,244.73 95.20,245.49C96.63,246.26 98.26,247.21 99.78,247.78C101.31,248.35 102.83,248.45 104.36,248.93C105.89,249.40 107.41,250.07 108.94,250.64C110.47,251.22 111.99,251.69 113.52,252.36C115.05,253.03 116.57,253.89 118.10,254.65C119.63,255.41 121.53,256.03 122.68,256.94C123.83,257.85 124.04,259.33 125.00,260.12C125.96,260.92 127.10,261.74 128.43,261.73C129.77,261.71 131.29,260.62 133.01,260.01C134.73,259.40 136.83,258.58 138.73,258.06C140.64,257.55 142.55,257.53 144.45,256.92C146.36,256.31 148.46,255.13 150.18,254.40C151.89,253.68 153.23,253.01 154.75,252.57C156.28,252.13 157.81,252.15 159.33,251.77C160.86,251.39 162.38,251.10 163.91,250.28C165.43,249.46 167.15,247.27 168.49,246.85C169.82,246.43 170.77,247.13 171.92,247.76C173.06,248.39 174.02,250.24 175.35,250.62C176.69,251.01 178.40,250.47 179.93,250.05C181.46,249.63 182.90,248.49 184.51,248.11C186.11,247.73 188.70,247.82 189.54,247.76" fill="none" stroke="#4450a8" stroke-width="1.90" stroke-linejoin="round"/>
</g>
<path d="M73.23,293.20v-1.6M73.23,210.60v1.6M128.36,293.20v-1.6M128.36,210.60v1.6M183.49,293.20v-1.6M183.49,210.60v1.6M62.20,293.20h1.6M189.00,293.20h-1.6M62.20,272.55h1.6M189.00,272.55h-1.6M62.20,251.90h1.6M189.00,251.90h-1.6M62.20,231.25h1.6M189.00,231.25h-1.6M62.20,210.60h1.6M189.00,210.60h-1.6" stroke="#000" stroke-width="1" fill="none"/>
<rect x="62.20" y="210.60" width="126.80" height="82.60" fill="none" stroke="#000" stroke-width="1.35"/>
<text x="73.23" y="312.50" font-size="17.5" text-anchor="middle" fill="#111">0</text>
<text x="128.36" y="312.50" font-size="17.5" text-anchor="middle" fill="#111">10</text>
<text x="183.49" y="312.50" font-size="17.5" text-anchor="middle" fill="#111">20</text>
<text x="54.60" y="216.00" font-size="17.5" text-anchor="end" fill="#111">0.4</text>
<text x="54.60" y="236.65" font-size="17.5" text-anchor="end" fill="#111">0.2</text>
<text x="54.60" y="257.30" font-size="17.5" text-anchor="end" fill="#111">0</text>
<text x="54.60" y="277.95" font-size="17.5" text-anchor="end" fill="#111">-0.2</text>
<text x="54.60" y="298.60" font-size="17.5" text-anchor="end" fill="#111">-0.4</text>
<text x="125.60" y="198.30" font-size="17.6" text-anchor="middle" fill="#111">channel 7-L</text>
<text x="125.60" y="334.00" font-size="17.5" text-anchor="middle" fill="#111">time (s)</text>
<text transform="translate(17.3,251.90) rotate(-90)" font-size="17.6" text-anchor="middle" fill="#111">dConc (<tspan font-style="italic">&#956;</tspan>M)</text>
<clipPath id="clip11"><rect x="200.80" y="210.60" width="126.80" height="82.60"/></clipPath>
<rect x="228.37" y="213.20" width="27.57" height="77.10" fill="#e5e5e5"/>
<g clip-path="url(#clip11)">
<path d="M200.92,248.35C201.72,248.79 203.97,250.38 205.72,250.99C207.48,251.60 209.54,251.75 211.45,252.02C213.36,252.29 215.27,252.63 217.17,252.59C219.08,252.55 221.18,252.53 222.90,251.79C224.62,251.04 226.14,249.94 227.48,248.13C228.81,246.31 229.77,243.26 230.91,240.91C232.06,238.57 233.01,236.14 234.35,234.04C235.68,231.94 237.40,229.60 238.93,228.32C240.45,227.04 241.98,226.47 243.51,226.37C245.03,226.28 246.56,226.66 248.09,227.75C249.61,228.83 251.33,231.28 252.67,232.90C254.00,234.52 254.96,237.40 256.10,237.48C257.25,237.55 258.38,234.60 259.53,233.36C260.68,232.11 261.47,230.96 263.00,230.03C264.53,229.09 266.81,227.74 268.72,227.74C270.63,227.74 272.54,229.47 274.44,230.03C276.35,230.58 278.26,230.01 280.17,231.06C282.07,232.11 284.17,234.39 285.89,236.32C287.60,238.25 288.94,241.28 290.46,242.61C291.99,243.95 293.52,243.85 295.04,244.33C296.57,244.81 298.09,245.48 299.62,245.48C301.15,245.48 302.67,244.71 304.20,244.33C305.72,243.95 307.25,243.38 308.77,243.19C310.30,243.00 311.83,243.57 313.35,243.19C314.88,242.81 316.40,241.66 317.93,240.90C319.46,240.13 320.90,239.18 322.51,238.61C324.11,238.04 326.70,237.66 327.54,237.46 L327.54,247.76C326.70,248.15 324.11,249.29 322.51,250.05C320.90,250.82 319.46,251.58 317.93,252.34C316.40,253.10 314.88,254.17 313.35,254.63C311.83,255.09 310.30,254.90 308.77,255.09C307.25,255.28 305.72,255.28 304.20,255.77C302.67,256.27 301.15,258.06 299.62,258.06C298.09,258.06 296.57,256.63 295.04,255.77C293.52,254.92 291.99,254.17 290.46,252.91C288.94,251.65 287.60,249.65 285.89,248.22C284.17,246.79 282.07,244.96 280.17,244.33C278.26,243.70 276.35,244.24 274.44,244.45C272.54,244.66 270.63,245.32 268.72,245.59C266.81,245.86 264.53,246.25 263.00,246.05C261.47,245.84 260.68,244.44 259.53,244.35C258.38,244.25 257.25,245.68 256.10,245.49C254.96,245.30 254.00,244.44 252.67,243.20C251.33,241.96 249.61,239.25 248.09,238.05C246.56,236.85 245.03,236.08 243.51,235.99C241.98,235.89 240.45,236.47 238.93,237.48C237.40,238.49 235.68,240.34 234.35,242.06C233.01,243.77 232.06,245.93 230.91,247.78C229.77,249.63 228.81,251.73 227.48,253.16C226.14,254.59 224.62,255.70 222.90,256.37C221.18,257.04 219.08,257.21 217.17,257.17C215.27,257.13 213.36,256.71 211.45,256.14C209.54,255.57 207.48,254.65 205.72,253.74C203.97,252.82 201.72,251.16 200.92,250.64 Z" fill="#fbcfbe" fill-opacity="0.60" stroke="none"/>
<path d="M200.92,251.22C201.72,250.89 203.97,249.84 205.72,249.27C207.48,248.70 209.54,248.13 211.45,247.78C213.36,247.44 215.27,247.30 217.17,247.21C219.08,247.11 221.18,247.11 222.90,247.21C224.62,247.30 226.14,247.21 227.48,247.78C228.81,248.35 229.77,249.82 230.91,250.64C232.06,251.46 233.01,252.08 234.35,252.70C235.68,253.33 237.40,253.62 238.93,254.42C240.45,255.22 242.17,256.90 243.51,257.51C244.84,258.12 245.80,258.79 246.94,258.09C248.09,257.38 249.23,254.84 250.38,253.28C251.52,251.71 252.76,249.75 253.81,248.70C254.86,247.65 255.72,246.94 256.67,246.98C257.63,247.02 258.48,248.34 259.53,248.93C260.59,249.52 261.47,249.94 263.00,250.51C264.53,251.08 266.81,251.94 268.72,252.34C270.63,252.74 272.54,252.84 274.44,252.91C276.35,252.99 278.26,253.56 280.17,252.80C282.07,252.04 284.17,249.75 285.89,248.34C287.60,246.92 288.94,245.28 290.46,244.33C291.99,243.38 293.52,243.09 295.04,242.61C296.57,242.14 298.09,241.28 299.62,241.47C301.15,241.66 302.67,242.92 304.20,243.76C305.72,244.60 307.25,245.74 308.77,246.51C310.30,247.27 311.83,248.05 313.35,248.34C314.88,248.62 316.40,248.32 317.93,248.22C319.46,248.13 320.90,248.03 322.51,247.76C324.11,247.50 326.70,246.81 327.54,246.62 L327.54,255.77C326.70,255.77 324.11,255.77 322.51,255.77C320.90,255.77 319.46,255.68 317.93,255.77C316.40,255.87 314.88,256.63 313.35,256.35C311.83,256.06 310.30,254.82 308.77,254.06C307.25,253.30 305.72,252.46 304.20,251.77C302.67,251.08 301.15,250.13 299.62,249.94C298.09,249.75 296.57,250.11 295.04,250.62C293.52,251.14 291.99,252.07 290.46,253.03C288.94,253.98 287.60,254.94 285.89,256.35C284.17,257.76 282.07,260.35 280.17,261.50C278.26,262.64 276.35,262.76 274.44,263.21C272.54,263.67 270.63,264.53 268.72,264.24C266.81,263.96 264.53,263.10 263.00,261.50C261.47,259.90 260.59,256.23 259.53,254.65C258.48,253.07 257.63,252.17 256.67,252.02C255.72,251.87 254.86,252.69 253.81,253.74C252.76,254.78 251.52,256.64 250.38,258.31C249.23,259.99 248.09,262.99 246.94,263.81C245.80,264.63 244.84,263.96 243.51,263.24C242.17,262.51 240.45,260.38 238.93,259.46C237.40,258.54 235.68,258.45 234.35,257.74C233.01,257.04 232.06,256.31 230.91,255.22C229.77,254.14 228.81,251.98 227.48,251.22C226.14,250.45 224.62,250.74 222.90,250.64C221.18,250.55 219.08,250.55 217.17,250.64C215.27,250.74 213.36,250.99 211.45,251.22C209.54,251.45 207.48,251.64 205.72,252.02C203.97,252.40 201.72,253.26 200.92,253.51 Z" fill="#c8cdfa" fill-opacity="0.60" stroke="none"/>
<path d="M200.92,248.35C201.72,248.79 203.97,250.38 205.72,250.99C207.48,251.60 209.54,251.75 211.45,252.02C213.36,252.29 215.27,252.63 217.17,252.59C219.08,252.55 221.18,252.53 222.90,251.79C224.62,251.04 226.14,249.94 227.48,248.13C228.81,246.31 229.77,243.26 230.91,240.91C232.06,238.57 233.01,236.14 234.35,234.04C235.68,231.94 237.40,229.60 238.93,228.32C240.45,227.04 241.98,226.47 243.51,226.37C245.03,226.28 246.56,226.66 248.09,227.75C249.61,228.83 251.33,231.28 252.67,232.90C254.00,234.52 254.96,237.40 256.10,237.48C257.25,237.55 258.38,234.60 259.53,233.36C260.68,232.11 261.47,230.96 263.00,230.03C264.53,229.09 266.81,227.74 268.72,227.74C270.63,227.74 272.54,229.47 274.44,230.03C276.35,230.58 278.26,230.01 280.17,231.06C282.07,232.11 284.17,234.39 285.89,236.32C287.60,238.25 288.94,241.28 290.46,242.61C291.99,243.95 293.52,243.85 295.04,244.33C296.57,244.81 298.09,245.48 299.62,245.48C301.15,245.48 302.67,244.71 304.20,244.33C305.72,243.95 307.25,243.38 308.77,243.19C310.30,243.00 311.83,243.57 313.35,243.19C314.88,242.81 316.40,241.66 317.93,240.90C319.46,240.13 320.90,239.18 322.51,238.61C324.11,238.04 326.70,237.66 327.54,237.46" fill="none" stroke="#eb9a96" stroke-width="1.50"/>
<path d="M200.92,250.64C201.72,251.16 203.97,252.82 205.72,253.74C207.48,254.65 209.54,255.57 211.45,256.14C213.36,256.71 215.27,257.13 217.17,257.17C219.08,257.21 221.18,257.04 222.90,256.37C224.62,255.70 226.14,254.59 227.48,253.16C228.81,251.73 229.77,249.63 230.91,247.78C232.06,245.93 233.01,243.77 234.35,242.06C235.68,240.34 237.40,238.49 238.93,237.48C240.45,236.47 241.98,235.89 243.51,235.99C245.03,236.08 246.56,236.85 248.09,238.05C249.61,239.25 251.33,241.96 252.67,243.20C254.00,244.44 254.96,245.30 256.10,245.49C257.25,245.68 258.38,244.25 259.53,244.35C260.68,244.44 261.47,245.84 263.00,246.05C264.53,246.25 266.81,245.86 268.72,245.59C270.63,245.32 272.54,244.66 274.44,244.45C276.35,244.24 278.26,243.70 280.17,244.33C282.07,244.96 284.17,246.79 285.89,248.22C287.60,249.65 288.94,251.65 290.46,252.91C291.99,254.17 293.52,254.92 295.04,255.77C296.57,256.63 298.09,258.06 299.62,258.06C301.15,258.06 302.67,256.27 304.20,255.77C305.72,255.28 307.25,255.28 308.77,255.09C310.30,254.90 311.83,255.09 313.35,254.63C314.88,254.17 316.40,253.10 317.93,252.34C319.46,251.58 320.90,250.82 322.51,250.05C324.11,249.29 326.70,248.15 327.54,247.76" fill="none" stroke="#eb9a96" stroke-width="1.50"/>
<path d="M200.92,251.22C201.72,250.89 203.97,249.84 205.72,249.27C207.48,248.70 209.54,248.13 211.45,247.78C213.36,247.44 215.27,247.30 217.17,247.21C219.08,247.11 221.18,247.11 222.90,247.21C224.62,247.30 226.14,247.21 227.48,247.78C228.81,248.35 229.77,249.82 230.91,250.64C232.06,251.46 233.01,252.08 234.35,252.70C235.68,253.33 237.40,253.62 238.93,254.42C240.45,255.22 242.17,256.90 243.51,257.51C244.84,258.12 245.80,258.79 246.94,258.09C248.09,257.38 249.23,254.84 250.38,253.28C251.52,251.71 252.76,249.75 253.81,248.70C254.86,247.65 255.72,246.94 256.67,246.98C257.63,247.02 258.48,248.34 259.53,248.93C260.59,249.52 261.47,249.94 263.00,250.51C264.53,251.08 266.81,251.94 268.72,252.34C270.63,252.74 272.54,252.84 274.44,252.91C276.35,252.99 278.26,253.56 280.17,252.80C282.07,252.04 284.17,249.75 285.89,248.34C287.60,246.92 288.94,245.28 290.46,244.33C291.99,243.38 293.52,243.09 295.04,242.61C296.57,242.14 298.09,241.28 299.62,241.47C301.15,241.66 302.67,242.92 304.20,243.76C305.72,244.60 307.25,245.74 308.77,246.51C310.30,247.27 311.83,248.05 313.35,248.34C314.88,248.62 316.40,248.32 317.93,248.22C319.46,248.13 320.90,248.03 322.51,247.76C324.11,247.50 326.70,246.81 327.54,246.62" fill="none" stroke="#8c8fcc" stroke-width="1.50"/>
<path d="M200.92,253.51C201.72,253.26 203.97,252.40 205.72,252.02C207.48,251.64 209.54,251.45 211.45,251.22C213.36,250.99 215.27,250.74 217.17,250.64C219.08,250.55 221.18,250.55 222.90,250.64C224.62,250.74 226.14,250.45 227.48,251.22C228.81,251.98 229.77,254.14 230.91,255.22C232.06,256.31 233.01,257.04 234.35,257.74C235.68,258.45 237.40,258.54 238.93,259.46C240.45,260.38 242.17,262.51 243.51,263.24C244.84,263.96 245.80,264.63 246.94,263.81C248.09,262.99 249.23,259.99 250.38,258.31C251.52,256.64 252.76,254.78 253.81,253.74C254.86,252.69 255.72,251.87 256.67,252.02C257.63,252.17 258.48,253.07 259.53,254.65C260.59,256.23 261.47,259.90 263.00,261.50C264.53,263.10 266.81,263.96 268.72,264.24C270.63,264.53 272.54,263.67 274.44,263.21C276.35,262.76 278.26,262.64 280.17,261.50C282.07,260.35 284.17,257.76 285.89,256.35C287.60,254.94 288.94,253.98 290.46,253.03C291.99,252.07 293.52,251.14 295.04,250.62C296.57,250.11 298.09,249.75 299.62,249.94C301.15,250.13 302.67,251.08 304.20,251.77C305.72,252.46 307.25,253.30 308.77,254.06C310.30,254.82 311.83,256.06 313.35,256.35C314.88,256.63 316.40,255.87 317.93,255.77C319.46,255.68 320.90,255.77 322.51,255.77C324.11,255.77 326.70,255.77 327.54,255.77" fill="none" stroke="#8c8fcc" stroke-width="1.50"/>
<path d="M200.92,249.50C201.72,249.98 203.97,251.60 205.72,252.36C207.48,253.12 209.54,253.66 211.45,254.08C213.36,254.50 215.27,254.88 217.17,254.88C219.08,254.88 221.18,254.78 222.90,254.08C224.62,253.37 226.14,252.27 227.48,250.64C228.81,249.02 229.77,246.45 230.91,244.35C232.06,242.25 233.01,239.96 234.35,238.05C235.68,236.14 237.40,234.04 238.93,232.90C240.45,231.75 241.98,231.18 243.51,231.18C245.03,231.18 246.56,231.75 248.09,232.90C249.61,234.04 251.33,236.62 252.67,238.05C254.00,239.48 254.96,241.35 256.10,241.48C257.25,241.62 258.38,239.43 259.53,238.85C260.68,238.28 261.47,238.40 263.00,238.04C264.53,237.67 266.81,236.80 268.72,236.66C270.63,236.53 272.54,237.06 274.44,237.24C276.35,237.41 278.26,236.85 280.17,237.69C282.07,238.53 284.17,240.59 285.89,242.27C287.60,243.95 288.94,246.47 290.46,247.76C291.99,249.06 293.52,249.39 295.04,250.05C296.57,250.72 298.09,251.77 299.62,251.77C301.15,251.77 302.67,250.49 304.20,250.05C305.72,249.61 307.25,249.33 308.77,249.14C310.30,248.95 311.83,249.33 313.35,248.91C314.88,248.49 316.40,247.38 317.93,246.62C319.46,245.86 320.90,245.00 322.51,244.33C324.11,243.66 326.70,242.90 327.54,242.61" fill="none" stroke="#d03a2c" stroke-width="1.90" stroke-linejoin="round"/>
<path d="M200.92,252.36C201.72,252.08 203.97,251.12 205.72,250.64C207.48,250.17 209.54,249.79 211.45,249.50C213.36,249.21 215.27,249.02 217.17,248.93C219.08,248.83 221.18,248.83 222.90,248.93C224.62,249.02 226.14,248.83 227.48,249.50C228.81,250.17 229.77,251.98 230.91,252.93C232.06,253.89 233.01,254.56 234.35,255.22C235.68,255.89 237.40,256.08 238.93,256.94C240.45,257.80 242.17,259.71 243.51,260.38C244.84,261.04 245.80,261.71 246.94,260.95C248.09,260.18 249.23,257.42 250.38,255.80C251.52,254.17 252.76,252.27 253.81,251.22C254.86,250.17 255.72,249.40 256.67,249.50C257.63,249.59 258.48,250.70 259.53,251.79C260.59,252.87 261.47,254.92 263.00,256.00C264.53,257.09 266.81,257.95 268.72,258.29C270.63,258.64 272.54,258.25 274.44,258.06C276.35,257.87 278.26,258.10 280.17,257.15C282.07,256.19 284.17,253.75 285.89,252.34C287.60,250.93 288.94,249.63 290.46,248.68C291.99,247.73 293.52,247.12 295.04,246.62C296.57,246.12 298.09,245.51 299.62,245.70C301.15,245.89 302.67,247.00 304.20,247.76C305.72,248.53 307.25,249.52 308.77,250.28C310.30,251.04 311.83,252.06 313.35,252.34C314.88,252.63 316.40,252.09 317.93,252.00C319.46,251.90 320.90,251.90 322.51,251.77C324.11,251.64 326.70,251.29 327.54,251.20" fill="none" stroke="#4450a8" stroke-width="1.90" stroke-linejoin="round"/>
</g>
<path d="M211.83,293.20v-1.6M211.83,210.60v1.6M266.96,293.20v-1.6M266.96,210.60v1.6M322.09,293.20v-1.6M322.09,210.60v1.6M200.80,293.20h1.6M327.60,293.20h-1.6M200.80,272.55h1.6M327.60,272.55h-1.6M200.80,251.90h1.6M327.60,251.90h-1.6M200.80,231.25h1.6M327.60,231.25h-1.6M200.80,210.60h1.6M327.60,210.60h-1.6" stroke="#000" stroke-width="1" fill="none"/>
<rect x="200.80" y="210.60" width="126.80" height="82.60" fill="none" stroke="#000" stroke-width="1.35"/>
<text x="211.83" y="312.50" font-size="17.5" text-anchor="middle" fill="#111">0</text>
<text x="266.96" y="312.50" font-size="17.5" text-anchor="middle" fill="#111">10</text>
<text x="322.09" y="312.50" font-size="17.5" text-anchor="middle" fill="#111">20</text>
<text x="264.20" y="198.30" font-size="17.6" text-anchor="middle" fill="#111">channel 7-R</text>
<text x="264.20" y="334.00" font-size="17.5" text-anchor="middle" fill="#111">time (s)</text>
<clipPath id="clip12"><rect x="400.80" y="210.60" width="126.80" height="82.60"/></clipPath>
<rect x="428.37" y="213.20" width="27.57" height="77.10" fill="#e5e5e5"/>
<g clip-path="url(#clip12)">
<path d="M400.92,251.45C401.72,251.18 403.97,250.64 405.72,249.84C407.48,249.04 409.73,248.03 411.45,246.64C413.17,245.24 414.50,242.44 416.03,241.48C417.56,240.53 419.08,241.10 420.61,240.91C422.13,240.72 423.66,240.63 425.19,240.34C426.71,240.05 428.24,239.67 429.77,239.19C431.29,238.72 433.20,238.05 434.35,237.48C435.49,236.91 435.87,235.57 436.64,235.76C437.40,235.95 438.07,237.29 438.93,238.62C439.79,239.96 440.83,241.87 441.79,243.77C442.74,245.68 443.60,248.64 444.65,250.07C445.70,251.50 446.94,251.79 448.09,252.36C449.23,252.93 450.18,253.32 451.52,253.51C452.86,253.70 454.76,253.70 456.10,253.51C457.44,253.32 458.38,253.13 459.53,252.36C460.68,251.60 462.04,251.39 463.00,248.91C463.96,246.43 464.34,240.99 465.29,237.46C466.24,233.94 467.39,230.03 468.72,227.74C470.06,225.45 471.77,224.11 473.30,223.73C474.83,223.35 476.35,224.02 477.88,225.45C479.40,226.88 481.12,229.74 482.45,232.32C483.79,234.89 484.74,237.85 485.89,240.90C487.03,243.95 488.18,247.86 489.32,250.63C490.46,253.39 491.42,255.49 492.75,257.49C494.09,259.49 495.81,261.59 497.33,262.64C498.86,263.69 500.38,263.69 501.91,263.79C503.43,263.88 505.15,263.79 506.49,263.21C507.82,262.64 508.77,261.50 509.92,260.35C511.06,259.21 512.02,257.68 513.35,256.35C514.69,255.01 516.40,253.58 517.93,252.34C519.46,251.10 520.90,249.67 522.51,248.91C524.11,248.15 526.70,247.95 527.54,247.76 L527.54,256.92C526.70,257.11 524.11,257.30 522.51,258.06C520.90,258.83 519.46,259.88 517.93,261.50C516.40,263.12 514.69,265.69 513.35,267.79C512.02,269.89 511.06,272.37 509.92,274.08C508.77,275.80 507.82,277.33 506.49,278.09C505.15,278.85 503.43,278.95 501.91,278.66C500.38,278.38 498.86,277.80 497.33,276.37C495.81,274.94 494.09,272.27 492.75,270.08C491.42,267.89 490.46,265.79 489.32,263.21C488.18,260.64 487.03,257.30 485.89,254.63C484.74,251.96 483.79,249.39 482.45,247.19C481.12,245.00 479.40,242.71 477.88,241.47C476.35,240.23 474.83,239.56 473.30,239.75C471.77,239.94 470.06,240.71 468.72,242.61C467.39,244.52 466.24,248.24 465.29,251.20C464.34,254.15 463.96,258.44 463.00,260.35C462.04,262.26 460.68,262.09 459.53,262.67C458.38,263.24 457.44,263.62 456.10,263.81C454.76,264.00 452.86,264.00 451.52,263.81C450.18,263.62 449.23,263.24 448.09,262.67C446.94,262.09 445.70,261.62 444.65,260.38C443.60,259.14 442.74,256.94 441.79,255.22C440.83,253.51 439.79,251.41 438.93,250.07C438.07,248.74 437.40,247.59 436.64,247.21C435.87,246.83 435.49,247.59 434.35,247.78C433.20,247.97 431.29,248.26 429.77,248.35C428.24,248.45 426.71,248.26 425.19,248.35C423.66,248.45 422.13,248.74 420.61,248.93C419.08,249.12 417.56,249.12 416.03,249.50C414.50,249.88 413.17,250.78 411.45,251.22C409.73,251.66 407.48,251.79 405.72,252.13C403.97,252.48 401.72,253.09 400.92,253.28 Z" fill="#fbcfbe" fill-opacity="0.60" stroke="none"/>
<path d="M400.92,251.45C401.72,251.25 403.97,250.43 405.72,250.30C407.48,250.17 409.54,250.49 411.45,250.64C413.36,250.80 415.27,251.03 417.17,251.22C419.08,251.41 420.99,251.60 422.90,251.79C424.81,251.98 426.91,252.08 428.62,252.36C430.34,252.65 431.87,253.22 433.20,253.51C434.54,253.79 435.59,254.65 436.64,254.08C437.69,253.51 438.55,251.79 439.50,250.07C440.45,248.35 441.31,245.30 442.36,243.77C443.41,242.25 444.46,241.58 445.80,240.91C447.13,240.24 448.85,239.86 450.38,239.77C451.90,239.67 453.43,240.15 454.96,240.34C456.48,240.53 458.19,240.25 459.53,240.91C460.88,241.58 461.85,242.62 463.00,244.33C464.15,246.05 465.10,249.48 466.43,251.20C467.77,252.91 469.29,253.87 471.01,254.63C472.73,255.39 475.02,255.87 476.73,255.77C478.45,255.68 479.78,255.20 481.31,254.06C482.84,252.91 484.36,251.01 485.89,248.91C487.41,246.81 488.94,243.38 490.46,241.47C491.99,239.56 493.52,238.51 495.04,237.46C496.57,236.42 498.09,235.40 499.62,235.18C501.15,234.95 502.67,235.61 504.20,236.09C505.72,236.57 507.25,237.14 508.77,238.04C510.30,238.93 511.83,240.23 513.35,241.47C514.88,242.71 516.40,244.52 517.93,245.48C519.46,246.43 520.90,246.81 522.51,247.19C524.11,247.57 526.70,247.67 527.54,247.76 L527.54,255.77C526.70,255.49 524.11,254.63 522.51,254.06C520.90,253.49 519.46,253.10 517.93,252.34C516.40,251.58 514.88,250.34 513.35,249.48C511.83,248.62 510.30,247.90 508.77,247.19C507.25,246.49 505.72,245.53 504.20,245.25C502.67,244.96 501.15,245.06 499.62,245.48C498.09,245.89 496.57,246.72 495.04,247.76C493.52,248.81 491.99,249.86 490.46,251.77C488.94,253.68 487.41,257.30 485.89,259.21C484.36,261.12 482.84,262.26 481.31,263.21C479.78,264.17 478.45,264.83 476.73,264.93C475.02,265.02 472.73,264.55 471.01,263.79C469.29,263.02 467.77,261.88 466.43,260.35C465.10,258.83 464.15,256.34 463.00,254.63C461.85,252.92 460.88,251.12 459.53,250.07C458.19,249.03 456.48,248.74 454.96,248.35C453.43,247.97 451.90,247.69 450.38,247.78C448.85,247.88 447.13,248.26 445.80,248.93C444.46,249.59 443.41,250.26 442.36,251.79C441.31,253.32 440.45,256.37 439.50,258.09C438.55,259.80 437.69,261.71 436.64,262.09C435.59,262.47 434.54,261.04 433.20,260.38C431.87,259.71 430.34,258.75 428.62,258.09C426.91,257.42 424.81,256.94 422.90,256.37C420.99,255.80 419.08,255.22 417.17,254.65C415.27,254.08 413.36,253.28 411.45,252.93C409.54,252.59 407.48,252.53 405.72,252.59C403.97,252.65 401.72,253.16 400.92,253.28 Z" fill="#c8cdfa" fill-opacity="0.60" stroke="none"/>
<path d="M400.92,251.45C401.72,251.18 403.97,250.64 405.72,249.84C407.48,249.04 409.73,248.03 411.45,246.64C413.17,245.24 414.50,242.44 416.03,241.48C417.56,240.53 419.08,241.10 420.61,240.91C422.13,240.72 423.66,240.63 425.19,240.34C426.71,240.05 428.24,239.67 429.77,239.19C431.29,238.72 433.20,238.05 434.35,237.48C435.49,236.91 435.87,235.57 436.64,235.76C437.40,235.95 438.07,237.29 438.93,238.62C439.79,239.96 440.83,241.87 441.79,243.77C442.74,245.68 443.60,248.64 444.65,250.07C445.70,251.50 446.94,251.79 448.09,252.36C449.23,252.93 450.18,253.32 451.52,253.51C452.86,253.70 454.76,253.70 456.10,253.51C457.44,253.32 458.38,253.13 459.53,252.36C460.68,251.60 462.04,251.39 463.00,248.91C463.96,246.43 464.34,240.99 465.29,237.46C466.24,233.94 467.39,230.03 468.72,227.74C470.06,225.45 471.77,224.11 473.30,223.73C474.83,223.35 476.35,224.02 477.88,225.45C479.40,226.88 481.12,229.74 482.45,232.32C483.79,234.89 484.74,237.85 485.89,240.90C487.03,243.95 488.18,247.86 489.32,250.63C490.46,253.39 491.42,255.49 492.75,257.49C494.09,259.49 495.81,261.59 497.33,262.64C498.86,263.69 500.38,263.69 501.91,263.79C503.43,263.88 505.15,263.79 506.49,263.21C507.82,262.64 508.77,261.50 509.92,260.35C511.06,259.21 512.02,257.68 513.35,256.35C514.69,255.01 516.40,253.58 517.93,252.34C519.46,251.10 520.90,249.67 522.51,248.91C524.11,248.15 526.70,247.95 527.54,247.76" fill="none" stroke="#eb9a96" stroke-width="1.50"/>
<path d="M400.92,253.28C401.72,253.09 403.97,252.48 405.72,252.13C407.48,251.79 409.73,251.66 411.45,251.22C413.17,250.78 414.50,249.88 416.03,249.50C417.56,249.12 419.08,249.12 420.61,248.93C422.13,248.74 423.66,248.45 425.19,248.35C426.71,248.26 428.24,248.45 429.77,248.35C431.29,248.26 433.20,247.97 434.35,247.78C435.49,247.59 435.87,246.83 436.64,247.21C437.40,247.59 438.07,248.74 438.93,250.07C439.79,251.41 440.83,253.51 441.79,255.22C442.74,256.94 443.60,259.14 444.65,260.38C445.70,261.62 446.94,262.09 448.09,262.67C449.23,263.24 450.18,263.62 451.52,263.81C452.86,264.00 454.76,264.00 456.10,263.81C457.44,263.62 458.38,263.24 459.53,262.67C460.68,262.09 462.04,262.26 463.00,260.35C463.96,258.44 464.34,254.15 465.29,251.20C466.24,248.24 467.39,244.52 468.72,242.61C470.06,240.71 471.77,239.94 473.30,239.75C474.83,239.56 476.35,240.23 477.88,241.47C479.40,242.71 481.12,245.00 482.45,247.19C483.79,249.39 484.74,251.96 485.89,254.63C487.03,257.30 488.18,260.64 489.32,263.21C490.46,265.79 491.42,267.89 492.75,270.08C494.09,272.27 495.81,274.94 497.33,276.37C498.86,277.80 500.38,278.38 501.91,278.66C503.43,278.95 505.15,278.85 506.49,278.09C507.82,277.33 508.77,275.80 509.92,274.08C511.06,272.37 512.02,269.89 513.35,267.79C514.69,265.69 516.40,263.12 517.93,261.50C519.46,259.88 520.90,258.83 522.51,258.06C524.11,257.30 526.70,257.11 527.54,256.92" fill="none" stroke="#eb9a96" stroke-width="1.50"/>
<path d="M400.92,251.45C401.72,251.25 403.97,250.43 405.72,250.30C407.48,250.17 409.54,250.49 411.45,250.64C413.36,250.80 415.27,251.03 417.17,251.22C419.08,251.41 420.99,251.60 422.90,251.79C424.81,251.98 426.91,252.08 428.62,252.36C430.34,252.65 431.87,253.22 433.20,253.51C434.54,253.79 435.59,254.65 436.64,254.08C437.69,253.51 438.55,251.79 439.50,250.07C440.45,248.35 441.31,245.30 442.36,243.77C443.41,242.25 444.46,241.58 445.80,240.91C447.13,240.24 448.85,239.86 450.38,239.77C451.90,239.67 453.43,240.15 454.96,240.34C456.48,240.53 458.19,240.25 459.53,240.91C460.88,241.58 461.85,242.62 463.00,244.33C464.15,246.05 465.10,249.48 466.43,251.20C467.77,252.91 469.29,253.87 471.01,254.63C472.73,255.39 475.02,255.87 476.73,255.77C478.45,255.68 479.78,255.20 481.31,254.06C482.84,252.91 484.36,251.01 485.89,248.91C487.41,246.81 488.94,243.38 490.46,241.47C491.99,239.56 493.52,238.51 495.04,237.46C496.57,236.42 498.09,235.40 499.62,235.18C501.15,234.95 502.67,235.61 504.20,236.09C505.72,236.57 507.25,237.14 508.77,238.04C510.30,238.93 511.83,240.23 513.35,241.47C514.88,242.71 516.40,244.52 517.93,245.48C519.46,246.43 520.90,246.81 522.51,247.19C524.11,247.57 526.70,247.67 527.54,247.76" fill="none" stroke="#8c8fcc" stroke-width="1.50"/>
<path d="M400.92,253.28C401.72,253.16 403.97,252.65 405.72,252.59C407.48,252.53 409.54,252.59 411.45,252.93C413.36,253.28 415.27,254.08 417.17,254.65C419.08,255.22 420.99,255.80 422.90,256.37C424.81,256.94 426.91,257.42 428.62,258.09C430.34,258.75 431.87,259.71 433.20,260.38C434.54,261.04 435.59,262.47 436.64,262.09C437.69,261.71 438.55,259.80 439.50,258.09C440.45,256.37 441.31,253.32 442.36,251.79C443.41,250.26 444.46,249.59 445.80,248.93C447.13,248.26 448.85,247.88 450.38,247.78C451.90,247.69 453.43,247.97 454.96,248.35C456.48,248.74 458.19,249.03 459.53,250.07C460.88,251.12 461.85,252.92 463.00,254.63C464.15,256.34 465.10,258.83 466.43,260.35C467.77,261.88 469.29,263.02 471.01,263.79C472.73,264.55 475.02,265.02 476.73,264.93C478.45,264.83 479.78,264.17 481.31,263.21C482.84,262.26 484.36,261.12 485.89,259.21C487.41,257.30 488.94,253.68 490.46,251.77C491.99,249.86 493.52,248.81 495.04,247.76C496.57,246.72 498.09,245.89 499.62,245.48C501.15,245.06 502.67,244.96 504.20,245.25C505.72,245.53 507.25,246.49 508.77,247.19C510.30,247.90 511.83,248.62 513.35,249.48C514.88,250.34 516.40,251.58 517.93,252.34C519.46,253.10 520.90,253.49 522.51,254.06C524.11,254.63 526.70,255.49 527.54,255.77" fill="none" stroke="#8c8fcc" stroke-width="1.50"/>
<path d="M400.92,252.36C401.72,252.13 403.97,251.56 405.72,250.99C407.48,250.42 409.73,249.84 411.45,248.93C413.17,248.01 414.50,246.16 416.03,245.49C417.56,244.82 419.08,245.11 420.61,244.92C422.13,244.73 423.66,244.54 425.19,244.35C426.71,244.16 428.24,244.06 429.77,243.77C431.29,243.49 433.20,243.01 434.35,242.63C435.49,242.25 435.87,241.20 436.64,241.48C437.40,241.77 438.07,243.01 438.93,244.35C439.79,245.68 440.83,247.69 441.79,249.50C442.74,251.31 443.60,253.89 444.65,255.22C445.70,256.56 446.94,256.94 448.09,257.51C449.23,258.09 450.18,258.47 451.52,258.66C452.86,258.85 454.76,258.85 456.10,258.66C457.44,258.47 458.38,258.18 459.53,257.51C460.68,256.84 462.04,256.83 463.00,254.63C463.96,252.43 464.34,247.57 465.29,244.33C466.24,241.09 467.39,237.27 468.72,235.18C470.06,233.08 471.77,232.03 473.30,231.74C474.83,231.46 476.35,232.12 477.88,233.46C479.40,234.79 481.12,237.37 482.45,239.75C483.79,242.14 484.74,244.90 485.89,247.76C487.03,250.62 488.18,254.25 489.32,256.92C490.46,259.59 491.42,261.69 492.75,263.79C494.09,265.88 495.81,268.27 497.33,269.51C498.86,270.75 500.38,271.03 501.91,271.22C503.43,271.41 505.15,271.32 506.49,270.65C507.82,269.98 508.77,268.65 509.92,267.22C511.06,265.79 512.02,263.79 513.35,262.07C514.69,260.35 516.40,258.35 517.93,256.92C519.46,255.49 520.90,254.25 522.51,253.49C524.11,252.72 526.70,252.53 527.54,252.34" fill="none" stroke="#d03a2c" stroke-width="1.90" stroke-linejoin="round"/>
<path d="M400.92,252.36C401.72,252.21 403.97,251.54 405.72,251.45C407.48,251.35 409.54,251.54 411.45,251.79C413.36,252.04 415.27,252.55 417.17,252.93C419.08,253.32 420.99,253.70 422.90,254.08C424.81,254.46 426.91,254.75 428.62,255.22C430.34,255.70 431.87,256.46 433.20,256.94C434.54,257.42 435.59,258.56 436.64,258.09C437.69,257.61 438.55,255.80 439.50,254.08C440.45,252.36 441.31,249.31 442.36,247.78C443.41,246.26 444.46,245.59 445.80,244.92C447.13,244.25 448.85,243.87 450.38,243.77C451.90,243.68 453.43,244.06 454.96,244.35C456.48,244.63 458.19,244.64 459.53,245.49C460.88,246.35 461.85,247.77 463.00,249.48C464.15,251.19 465.10,254.15 466.43,255.77C467.77,257.40 469.29,258.44 471.01,259.21C472.73,259.97 475.02,260.45 476.73,260.35C478.45,260.26 479.78,259.68 481.31,258.64C482.84,257.59 484.36,256.06 485.89,254.06C487.41,252.06 488.94,248.53 490.46,246.62C491.99,244.71 493.52,243.66 495.04,242.61C496.57,241.57 498.09,240.65 499.62,240.33C501.15,240.00 502.67,240.29 504.20,240.67C505.72,241.05 507.25,241.81 508.77,242.61C510.30,243.42 511.83,244.43 513.35,245.48C514.88,246.52 516.40,248.05 517.93,248.91C519.46,249.77 520.90,250.15 522.51,250.62C524.11,251.10 526.70,251.58 527.54,251.77" fill="none" stroke="#4450a8" stroke-width="1.90" stroke-linejoin="round"/>
</g>
<path d="M411.83,293.20v-1.6M411.83,210.60v1.6M466.96,293.20v-1.6M466.96,210.60v1.6M522.09,293.20v-1.6M522.09,210.60v1.6M400.80,293.20h1.6M527.60,293.20h-1.6M400.80,272.55h1.6M527.60,272.55h-1.6M400.80,251.90h1.6M527.60,251.90h-1.6M400.80,231.25h1.6M527.60,231.25h-1.6M400.80,210.60h1.6M527.60,210.60h-1.6" stroke="#000" stroke-width="1" fill="none"/>
<rect x="400.80" y="210.60" width="126.80" height="82.60" fill="none" stroke="#000" stroke-width="1.35"/>
<text x="411.83" y="312.50" font-size="17.5" text-anchor="middle" fill="#111">0</text>
<text x="466.96" y="312.50" font-size="17.5" text-anchor="middle" fill="#111">10</text>
<text x="522.09" y="312.50" font-size="17.5" text-anchor="middle" fill="#111">20</text>
<text x="393.20" y="216.00" font-size="17.5" text-anchor="end" fill="#111">0.4</text>
<text x="393.20" y="236.65" font-size="17.5" text-anchor="end" fill="#111">0.2</text>
<text x="393.20" y="257.30" font-size="17.5" text-anchor="end" fill="#111">0</text>
<text x="393.20" y="277.95" font-size="17.5" text-anchor="end" fill="#111">-0.2</text>
<text x="393.20" y="298.60" font-size="17.5" text-anchor="end" fill="#111">-0.4</text>
<text x="464.20" y="198.30" font-size="17.6" text-anchor="middle" fill="#111">channel 7-L</text>
<text x="464.20" y="334.00" font-size="17.5" text-anchor="middle" fill="#111">time (s)</text>
<clipPath id="clip13"><rect x="539.60" y="210.60" width="126.80" height="82.60"/></clipPath>
<rect x="567.17" y="213.20" width="27.57" height="77.10" fill="#e5e5e5"/>
<g clip-path="url(#clip13)">
<path d="M539.69,252.93C540.34,252.84 542.36,253.70 543.58,252.36C544.80,251.03 545.49,247.40 547.01,244.92C548.54,242.44 551.02,238.15 552.74,237.48C554.46,236.81 555.79,240.15 557.32,240.91C558.84,241.68 560.37,241.68 561.90,242.06C563.42,242.44 564.95,242.92 566.48,243.20C568.00,243.49 569.53,243.77 571.06,243.77C572.58,243.77 574.30,243.30 575.64,243.20C576.97,243.11 577.93,242.15 579.07,243.20C580.22,244.25 581.36,247.78 582.51,249.50C583.65,251.22 584.80,252.46 585.94,253.51C587.09,254.56 588.04,255.13 589.38,255.80C590.71,256.46 592.62,256.56 593.96,257.51C595.29,258.47 596.25,261.04 597.39,261.52C598.53,262.00 599.48,262.48 600.82,260.38C602.17,258.27 603.90,252.06 605.43,248.91C606.96,245.76 608.48,243.76 610.01,241.47C611.54,239.18 612.87,236.99 614.59,235.18C616.30,233.36 618.59,231.93 620.31,230.60C622.03,229.26 623.55,227.45 624.89,227.17C626.22,226.88 627.18,227.55 628.32,228.88C629.46,230.22 630.61,232.89 631.75,235.18C632.90,237.46 634.04,240.99 635.19,242.61C636.33,244.24 637.48,244.52 638.62,244.90C639.76,245.28 640.72,245.57 642.05,244.90C643.39,244.24 645.30,240.99 646.63,240.90C647.97,240.80 648.73,242.61 650.06,244.33C651.40,246.05 653.31,249.67 654.64,251.20C655.98,252.72 656.74,253.58 658.07,253.49C659.41,253.39 661.24,251.67 662.65,250.63C664.06,249.58 665.89,247.76 666.54,247.19 L666.54,256.35C665.89,257.11 664.06,259.68 662.65,260.92C661.24,262.16 659.41,263.50 658.07,263.79C656.74,264.07 655.98,263.59 654.64,262.64C653.31,261.69 651.40,259.02 650.06,258.06C648.73,257.11 647.97,256.44 646.63,256.92C645.30,257.40 643.39,260.45 642.05,260.92C640.72,261.40 639.76,260.54 638.62,259.78C637.48,259.02 636.33,257.78 635.19,256.35C634.04,254.92 632.90,252.91 631.75,251.20C630.61,249.48 629.46,247.19 628.32,246.05C627.18,244.90 626.22,244.43 624.89,244.33C623.55,244.24 622.03,244.71 620.31,245.48C618.59,246.24 616.30,247.48 614.59,248.91C612.87,250.34 611.54,251.77 610.01,254.06C608.48,256.35 606.96,259.30 605.43,262.64C603.90,265.98 602.17,272.01 600.82,274.11C599.48,276.22 598.53,275.55 597.39,275.26C596.25,274.97 595.29,273.35 593.96,272.40C592.62,271.44 590.71,270.39 589.38,269.53C588.04,268.68 587.09,268.68 585.94,267.25C584.80,265.81 583.65,263.43 582.51,260.95C581.36,258.47 580.22,253.79 579.07,252.36C577.93,250.93 576.97,252.27 575.64,252.36C574.30,252.46 572.58,252.93 571.06,252.93C569.53,252.93 568.00,252.46 566.48,252.36C564.95,252.27 563.42,252.36 561.90,252.36C560.37,252.36 558.84,252.36 557.32,252.36C555.79,252.36 554.46,252.27 552.74,252.36C551.02,252.46 548.54,252.36 547.01,252.93C545.49,253.51 544.80,255.22 543.58,255.80C542.36,256.37 540.34,256.27 539.69,256.37 Z" fill="#fbcfbe" fill-opacity="0.60" stroke="none"/>
<path d="M539.69,246.64C540.34,246.92 542.17,247.40 543.58,248.35C544.99,249.31 546.63,251.50 548.16,252.36C549.69,253.22 551.21,253.60 552.74,253.51C554.27,253.41 555.79,252.17 557.32,251.79C558.84,251.41 560.37,251.03 561.90,251.22C563.42,251.41 564.95,252.74 566.48,252.93C568.00,253.12 569.34,252.74 571.06,252.36C572.77,251.98 575.06,251.98 576.78,250.64C578.50,249.31 580.03,246.45 581.36,244.35C582.70,242.25 583.46,239.39 584.80,238.05C586.13,236.71 587.85,236.43 589.38,236.33C590.90,236.24 592.43,237.67 593.96,237.48C595.48,237.29 597.19,235.67 598.53,235.19C599.88,234.71 600.85,233.65 602.00,234.60C603.15,235.56 604.10,238.51 605.43,240.90C606.77,243.28 608.48,247.00 610.01,248.91C611.54,250.82 612.87,251.58 614.59,252.34C616.30,253.10 618.40,253.20 620.31,253.49C622.22,253.77 624.51,254.53 626.03,254.06C627.56,253.58 628.32,252.25 629.46,250.63C630.61,249.00 631.75,245.95 632.90,244.33C634.04,242.71 635.00,241.85 636.33,240.90C637.67,239.94 639.38,238.23 640.91,238.61C642.43,238.99 643.96,241.76 645.49,243.19C647.01,244.62 648.54,247.19 650.06,247.19C651.59,247.19 653.12,244.33 654.64,243.19C656.17,242.04 657.69,240.33 659.22,240.33C660.74,240.33 662.58,242.33 663.80,243.19C665.02,244.04 666.08,245.09 666.54,245.48 L666.54,254.63C666.08,254.25 665.02,253.20 663.80,252.34C662.58,251.48 660.74,249.29 659.22,249.48C657.69,249.67 656.17,251.96 654.64,253.49C653.12,255.01 651.59,258.25 650.06,258.64C648.54,259.02 647.01,257.01 645.49,255.77C643.96,254.53 642.43,251.77 640.91,251.20C639.38,250.62 637.67,251.58 636.33,252.34C635.00,253.10 634.04,253.96 632.90,255.77C631.75,257.59 630.61,261.40 629.46,263.21C628.32,265.02 627.56,266.55 626.03,266.65C624.51,266.74 622.22,264.64 620.31,263.79C618.40,262.93 616.30,262.26 614.59,261.50C612.87,260.73 611.54,260.73 610.01,259.21C608.48,257.68 606.77,254.34 605.43,252.34C604.10,250.34 603.15,247.95 602.00,247.19C600.85,246.43 599.88,247.11 598.53,247.78C597.19,248.45 595.48,250.83 593.96,251.22C592.43,251.60 590.90,250.17 589.38,250.07C587.85,249.98 586.13,249.69 584.80,250.64C583.46,251.60 582.70,254.46 581.36,255.80C580.03,257.13 578.50,258.09 576.78,258.66C575.06,259.23 572.77,259.04 571.06,259.23C569.34,259.42 568.00,259.80 566.48,259.80C564.95,259.80 563.42,258.85 561.90,259.23C560.37,259.61 558.84,260.76 557.32,262.09C555.79,263.43 554.27,267.34 552.74,267.25C551.21,267.15 549.69,263.91 548.16,261.52C546.63,259.14 544.99,254.65 543.58,252.93C542.17,251.22 540.34,251.50 539.69,251.22 Z" fill="#c8cdfa" fill-opacity="0.60" stroke="none"/>
<path d="M539.69,252.93C540.34,252.84 542.36,253.70 543.58,252.36C544.80,251.03 545.49,247.40 547.01,244.92C548.54,242.44 551.02,238.15 552.74,237.48C554.46,236.81 555.79,240.15 557.32,240.91C558.84,241.68 560.37,241.68 561.90,242.06C563.42,242.44 564.95,242.92 566.48,243.20C568.00,243.49 569.53,243.77 571.06,243.77C572.58,243.77 574.30,243.30 575.64,243.20C576.97,243.11 577.93,242.15 579.07,243.20C580.22,244.25 581.36,247.78 582.51,249.50C583.65,251.22 584.80,252.46 585.94,253.51C587.09,254.56 588.04,255.13 589.38,255.80C590.71,256.46 592.62,256.56 593.96,257.51C595.29,258.47 596.25,261.04 597.39,261.52C598.53,262.00 599.48,262.48 600.82,260.38C602.17,258.27 603.90,252.06 605.43,248.91C606.96,245.76 608.48,243.76 610.01,241.47C611.54,239.18 612.87,236.99 614.59,235.18C616.30,233.36 618.59,231.93 620.31,230.60C622.03,229.26 623.55,227.45 624.89,227.17C626.22,226.88 627.18,227.55 628.32,228.88C629.46,230.22 630.61,232.89 631.75,235.18C632.90,237.46 634.04,240.99 635.19,242.61C636.33,244.24 637.48,244.52 638.62,244.90C639.76,245.28 640.72,245.57 642.05,244.90C643.39,244.24 645.30,240.99 646.63,240.90C647.97,240.80 648.73,242.61 650.06,244.33C651.40,246.05 653.31,249.67 654.64,251.20C655.98,252.72 656.74,253.58 658.07,253.49C659.41,253.39 661.24,251.67 662.65,250.63C664.06,249.58 665.89,247.76 666.54,247.19" fill="none" stroke="#eb9a96" stroke-width="1.50"/>
<path d="M539.69,256.37C540.34,256.27 542.36,256.37 543.58,255.80C544.80,255.22 545.49,253.51 547.01,252.93C548.54,252.36 551.02,252.46 552.74,252.36C554.46,252.27 555.79,252.36 557.32,252.36C558.84,252.36 560.37,252.36 561.90,252.36C563.42,252.36 564.95,252.27 566.48,252.36C568.00,252.46 569.53,252.93 571.06,252.93C572.58,252.93 574.30,252.46 575.64,252.36C576.97,252.27 577.93,250.93 579.07,252.36C580.22,253.79 581.36,258.47 582.51,260.95C583.65,263.43 584.80,265.81 585.94,267.25C587.09,268.68 588.04,268.68 589.38,269.53C590.71,270.39 592.62,271.44 593.96,272.40C595.29,273.35 596.25,274.97 597.39,275.26C598.53,275.55 599.48,276.22 600.82,274.11C602.17,272.01 603.90,265.98 605.43,262.64C606.96,259.30 608.48,256.35 610.01,254.06C611.54,251.77 612.87,250.34 614.59,248.91C616.30,247.48 618.59,246.24 620.31,245.48C622.03,244.71 623.55,244.24 624.89,244.33C626.22,244.43 627.18,244.90 628.32,246.05C629.46,247.19 630.61,249.48 631.75,251.20C632.90,252.91 634.04,254.92 635.19,256.35C636.33,257.78 637.48,259.02 638.62,259.78C639.76,260.54 640.72,261.40 642.05,260.92C643.39,260.45 645.30,257.40 646.63,256.92C647.97,256.44 648.73,257.11 650.06,258.06C651.40,259.02 653.31,261.69 654.64,262.64C655.98,263.59 656.74,264.07 658.07,263.79C659.41,263.50 661.24,262.16 662.65,260.92C664.06,259.68 665.89,257.11 666.54,256.35" fill="none" stroke="#eb9a96" stroke-width="1.50"/>
<path d="M539.69,246.64C540.34,246.92 542.17,247.40 543.58,248.35C544.99,249.31 546.63,251.50 548.16,252.36C549.69,253.22 551.21,253.60 552.74,253.51C554.27,253.41 555.79,252.17 557.32,251.79C558.84,251.41 560.37,251.03 561.90,251.22C563.42,251.41 564.95,252.74 566.48,252.93C568.00,253.12 569.34,252.74 571.06,252.36C572.77,251.98 575.06,251.98 576.78,250.64C578.50,249.31 580.03,246.45 581.36,244.35C582.70,242.25 583.46,239.39 584.80,238.05C586.13,236.71 587.85,236.43 589.38,236.33C590.90,236.24 592.43,237.67 593.96,237.48C595.48,237.29 597.19,235.67 598.53,235.19C599.88,234.71 600.85,233.65 602.00,234.60C603.15,235.56 604.10,238.51 605.43,240.90C606.77,243.28 608.48,247.00 610.01,248.91C611.54,250.82 612.87,251.58 614.59,252.34C616.30,253.10 618.40,253.20 620.31,253.49C622.22,253.77 624.51,254.53 626.03,254.06C627.56,253.58 628.32,252.25 629.46,250.63C630.61,249.00 631.75,245.95 632.90,244.33C634.04,242.71 635.00,241.85 636.33,240.90C637.67,239.94 639.38,238.23 640.91,238.61C642.43,238.99 643.96,241.76 645.49,243.19C647.01,244.62 648.54,247.19 650.06,247.19C651.59,247.19 653.12,244.33 654.64,243.19C656.17,242.04 657.69,240.33 659.22,240.33C660.74,240.33 662.58,242.33 663.80,243.19C665.02,244.04 666.08,245.09 666.54,245.48" fill="none" stroke="#8c8fcc" stroke-width="1.50"/>
<path d="M539.69,251.22C540.34,251.50 542.17,251.22 543.58,252.93C544.99,254.65 546.63,259.14 548.16,261.52C549.69,263.91 551.21,267.15 552.74,267.25C554.27,267.34 555.79,263.43 557.32,262.09C558.84,260.76 560.37,259.61 561.90,259.23C563.42,258.85 564.95,259.80 566.48,259.80C568.00,259.80 569.34,259.42 571.06,259.23C572.77,259.04 575.06,259.23 576.78,258.66C578.50,258.09 580.03,257.13 581.36,255.80C582.70,254.46 583.46,251.60 584.80,250.64C586.13,249.69 587.85,249.98 589.38,250.07C590.90,250.17 592.43,251.60 593.96,251.22C595.48,250.83 597.19,248.45 598.53,247.78C599.88,247.11 600.85,246.43 602.00,247.19C603.15,247.95 604.10,250.34 605.43,252.34C606.77,254.34 608.48,257.68 610.01,259.21C611.54,260.73 612.87,260.73 614.59,261.50C616.30,262.26 618.40,262.93 620.31,263.79C622.22,264.64 624.51,266.74 626.03,266.65C627.56,266.55 628.32,265.02 629.46,263.21C630.61,261.40 631.75,257.59 632.90,255.77C634.04,253.96 635.00,253.10 636.33,252.34C637.67,251.58 639.38,250.62 640.91,251.20C642.43,251.77 643.96,254.53 645.49,255.77C647.01,257.01 648.54,259.02 650.06,258.64C651.59,258.25 653.12,255.01 654.64,253.49C656.17,251.96 657.69,249.67 659.22,249.48C660.74,249.29 662.58,251.48 663.80,252.34C665.02,253.20 666.08,254.25 666.54,254.63" fill="none" stroke="#8c8fcc" stroke-width="1.50"/>
<path d="M539.69,254.65C540.34,254.56 542.36,255.03 543.58,254.08C544.80,253.12 545.49,250.45 547.01,248.93C548.54,247.40 551.02,245.30 552.74,244.92C554.46,244.54 555.79,246.26 557.32,246.64C558.84,247.02 560.37,247.02 561.90,247.21C563.42,247.40 564.95,247.59 566.48,247.78C568.00,247.97 569.53,248.35 571.06,248.35C572.58,248.35 574.30,247.88 575.64,247.78C576.97,247.69 577.93,246.54 579.07,247.78C580.22,249.02 581.36,253.12 582.51,255.22C583.65,257.32 584.80,259.14 585.94,260.38C587.09,261.62 588.04,261.90 589.38,262.67C590.71,263.43 592.62,264.00 593.96,264.96C595.29,265.91 596.25,268.01 597.39,268.39C598.53,268.77 599.48,269.35 600.82,267.25C602.17,265.14 603.90,259.02 605.43,255.77C606.96,252.53 608.48,250.05 610.01,247.76C611.54,245.48 612.87,243.66 614.59,242.04C616.30,240.42 618.59,239.09 620.31,238.04C622.03,236.99 623.55,235.84 624.89,235.75C626.22,235.65 627.18,236.23 628.32,237.46C629.46,238.70 630.61,241.18 631.75,243.19C632.90,245.19 634.04,247.95 635.19,249.48C636.33,251.01 637.48,251.77 638.62,252.34C639.76,252.91 640.72,253.49 642.05,252.91C643.39,252.34 645.30,249.19 646.63,248.91C647.97,248.62 648.73,249.86 650.06,251.20C651.40,252.53 653.31,255.68 654.64,256.92C655.98,258.16 656.74,258.83 658.07,258.64C659.41,258.44 661.24,256.92 662.65,255.77C664.06,254.63 665.89,252.44 666.54,251.77" fill="none" stroke="#d03a2c" stroke-width="1.90" stroke-linejoin="round"/>
<path d="M539.69,248.93C540.34,249.21 542.17,249.31 543.58,250.64C544.99,251.98 546.63,255.32 548.16,256.94C549.69,258.56 551.21,260.38 552.74,260.38C554.27,260.38 555.79,257.80 557.32,256.94C558.84,256.08 560.37,255.32 561.90,255.22C563.42,255.13 564.95,256.27 566.48,256.37C568.00,256.46 569.34,256.08 571.06,255.80C572.77,255.51 575.06,255.61 576.78,254.65C578.50,253.70 580.03,251.79 581.36,250.07C582.70,248.35 583.46,245.49 584.80,244.35C586.13,243.20 587.85,243.20 589.38,243.20C590.90,243.20 592.43,244.63 593.96,244.35C595.48,244.06 597.19,242.06 598.53,241.48C599.88,240.91 600.85,240.04 602.00,240.90C603.15,241.75 604.10,244.43 605.43,246.62C606.77,248.81 608.48,252.34 610.01,254.06C611.54,255.77 612.87,256.16 614.59,256.92C616.30,257.68 618.40,258.06 620.31,258.64C622.22,259.21 624.51,260.64 626.03,260.35C627.56,260.07 628.32,258.64 629.46,256.92C630.61,255.20 631.75,251.77 632.90,250.05C634.04,248.34 635.00,247.48 636.33,246.62C637.67,245.76 639.38,244.43 640.91,244.90C642.43,245.38 643.96,248.15 645.49,249.48C647.01,250.82 648.54,253.10 650.06,252.91C651.59,252.72 653.12,249.67 654.64,248.34C656.17,247.00 657.69,245.00 659.22,244.90C660.74,244.81 662.58,246.91 663.80,247.76C665.02,248.62 666.08,249.67 666.54,250.05" fill="none" stroke="#4450a8" stroke-width="1.90" stroke-linejoin="round"/>
</g>
<path d="M550.63,293.20v-1.6M550.63,210.60v1.6M605.76,293.20v-1.6M605.76,210.60v1.6M660.89,293.20v-1.6M660.89,210.60v1.6M539.60,293.20h1.6M666.40,293.20h-1.6M539.60,272.55h1.6M666.40,272.55h-1.6M539.60,251.90h1.6M666.40,251.90h-1.6M539.60,231.25h1.6M666.40,231.25h-1.6M539.60,210.60h1.6M666.40,210.60h-1.6" stroke="#000" stroke-width="1" fill="none"/>
<rect x="539.60" y="210.60" width="126.80" height="82.60" fill="none" stroke="#000" stroke-width="1.35"/>
<text x="550.63" y="312.50" font-size="17.5" text-anchor="middle" fill="#111">0</text>
<text x="605.76" y="312.50" font-size="17.5" text-anchor="middle" fill="#111">10</text>
<text x="660.89" y="312.50" font-size="17.5" text-anchor="middle" fill="#111">20</text>
<text x="603.00" y="198.30" font-size="17.6" text-anchor="middle" fill="#111">channel 7-R</text>
<text x="603.00" y="334.00" font-size="17.5" text-anchor="middle" fill="#111">time (s)</text>
<clipPath id="clip20"><rect x="62.20" y="447.70" width="126.80" height="82.60"/></clipPath>
<rect x="89.77" y="450.30" width="27.57" height="77.10" fill="#e5e5e5"/>
<g clip-path="url(#clip20)">
<path d="M62.69,485.93C63.34,486.37 65.17,487.99 66.58,488.56C67.99,489.13 69.82,490.18 71.16,489.36C72.49,488.54 73.45,485.35 74.59,483.64C75.74,481.92 76.69,480.39 78.03,479.06C79.36,477.72 81.08,476.86 82.61,475.62C84.13,474.38 85.66,473.33 87.19,471.62C88.71,469.90 90.43,467.32 91.77,465.32C93.10,463.31 94.06,461.12 95.20,459.59C96.35,458.07 97.49,455.97 98.64,456.16C99.78,456.35 100.93,459.21 102.07,460.74C103.22,462.27 104.17,464.65 105.51,465.32C106.84,465.99 108.75,464.46 110.09,464.75C111.42,465.03 112.38,466.18 113.52,467.04C114.67,467.89 115.81,469.33 116.96,469.90C118.10,470.47 119.25,471.04 120.39,470.47C121.53,469.90 122.48,467.70 123.82,466.46C125.17,465.22 126.90,463.21 128.43,463.02C129.96,462.83 131.48,464.36 133.01,465.31C134.54,466.26 136.06,467.50 137.59,468.74C139.11,469.98 140.64,471.22 142.17,472.75C143.69,474.27 145.22,476.56 146.74,477.90C148.27,479.23 149.79,480.28 151.32,480.76C152.85,481.24 154.37,480.85 155.90,480.76C157.42,480.66 158.95,480.09 160.48,480.19C162.00,480.28 163.72,481.04 165.05,481.33C166.39,481.62 167.34,482.48 168.49,481.90C169.63,481.33 170.77,479.23 171.92,477.90C173.06,476.56 174.02,474.85 175.35,473.89C176.69,472.94 178.40,473.03 179.93,472.18C181.46,471.32 183.00,469.89 184.51,468.74C186.01,467.60 188.23,465.88 188.97,465.31 L188.97,477.90C188.23,478.47 186.01,480.38 184.51,481.33C183.00,482.28 181.46,483.14 179.93,483.62C178.40,484.10 176.69,483.81 175.35,484.19C174.02,484.57 173.06,485.15 171.92,485.91C170.77,486.67 169.63,488.39 168.49,488.77C167.34,489.15 166.39,488.48 165.05,488.20C163.72,487.91 162.00,487.15 160.48,487.05C158.95,486.96 157.42,487.53 155.90,487.62C154.37,487.72 152.85,487.91 151.32,487.62C149.79,487.34 148.27,486.86 146.74,485.91C145.22,484.95 143.69,483.05 142.17,481.90C140.64,480.76 139.11,480.09 137.59,479.04C136.06,477.99 134.54,476.37 133.01,475.61C131.48,474.85 129.96,473.89 128.43,474.46C126.90,475.04 125.17,477.62 123.82,479.06C122.48,480.49 121.53,482.49 120.39,483.06C119.25,483.64 118.10,483.06 116.96,482.49C115.81,481.92 114.67,480.49 113.52,479.63C112.38,478.77 111.42,477.82 110.09,477.34C108.75,476.86 106.84,477.44 105.51,476.77C104.17,476.10 103.22,474.48 102.07,473.33C100.93,472.19 99.78,470.09 98.64,469.90C97.49,469.71 96.35,471.04 95.20,472.19C94.06,473.33 93.10,475.15 91.77,476.77C90.43,478.39 88.71,480.58 87.19,481.92C85.66,483.26 84.13,484.11 82.61,484.78C81.08,485.45 79.36,485.35 78.03,485.93C76.69,486.50 75.74,487.07 74.59,488.22C73.45,489.36 72.49,492.28 71.16,492.80C69.82,493.31 67.99,492.07 66.58,491.31C65.17,490.54 63.34,488.73 62.69,488.22 Z" fill="#fbcfbe" fill-opacity="0.60" stroke="none"/>
<path d="M62.69,487.42C63.53,487.28 65.93,486.59 67.72,486.61C69.52,486.63 71.54,486.98 73.45,487.53C75.36,488.08 77.27,489.21 79.17,489.93C81.08,490.66 82.99,490.87 84.90,491.88C86.81,492.89 88.71,494.90 90.62,496.00C92.53,497.11 94.44,498.20 96.35,498.52C98.26,498.84 100.16,498.18 102.07,497.95C103.98,497.72 105.89,497.38 107.80,497.15C109.70,496.92 111.80,497.15 113.52,496.57C115.24,496.00 116.57,494.00 118.10,493.71C119.63,493.43 121.53,494.54 122.68,494.86C123.83,495.18 123.85,495.41 125.00,495.64C126.15,495.86 128.05,496.40 129.58,496.21C131.10,496.02 132.63,495.10 134.15,494.49C135.68,493.88 137.21,493.35 138.73,492.55C140.26,491.74 141.78,490.41 143.31,489.68C144.84,488.96 146.36,488.48 147.89,488.20C149.41,487.91 150.94,488.03 152.46,487.97C153.99,487.91 155.52,487.87 157.04,487.85C158.57,487.83 160.09,487.80 161.62,487.85C163.15,487.91 164.67,487.89 166.20,488.20C167.72,488.50 169.25,489.15 170.77,489.68C172.30,490.22 173.83,490.98 175.35,491.40C176.88,491.82 178.40,491.78 179.93,492.20C181.46,492.62 183.00,493.54 184.51,493.92C186.01,494.30 188.23,494.40 188.97,494.49 L188.97,500.21C188.23,500.12 186.01,500.02 184.51,499.64C183.00,499.26 181.46,498.46 179.93,497.92C178.40,497.39 176.88,496.97 175.35,496.44C173.83,495.90 172.30,495.33 170.77,494.72C169.25,494.11 167.72,493.23 166.20,492.77C164.67,492.32 163.15,492.11 161.62,491.97C160.09,491.84 158.57,491.88 157.04,491.97C155.52,492.07 153.99,492.41 152.46,492.55C150.94,492.68 149.41,492.41 147.89,492.77C146.36,493.14 144.84,493.92 143.31,494.72C141.78,495.52 140.26,496.67 138.73,497.58C137.21,498.50 135.68,499.49 134.15,500.21C132.63,500.94 131.10,501.55 129.58,501.93C128.05,502.31 126.15,502.84 125.00,502.50C123.85,502.16 123.83,500.52 122.68,499.89C121.53,499.27 119.63,498.46 118.10,498.75C116.57,499.04 115.24,501.04 113.52,501.61C111.80,502.18 109.70,501.84 107.80,502.18C105.89,502.53 103.98,503.33 102.07,503.67C100.16,504.02 98.26,504.68 96.35,504.25C94.44,503.81 92.53,502.41 90.62,501.04C88.71,499.67 86.81,497.28 84.90,496.00C82.99,494.72 81.08,494.25 79.17,493.37C77.27,492.49 75.36,491.40 73.45,490.74C71.54,490.07 69.52,489.46 67.72,489.36C65.93,489.27 63.53,490.03 62.69,490.16 Z" fill="#c8cdfa" fill-opacity="0.60" stroke="none"/>
<path d="M62.69,485.93C63.34,486.37 65.17,487.99 66.58,488.56C67.99,489.13 69.82,490.18 71.16,489.36C72.49,488.54 73.45,485.35 74.59,483.64C75.74,481.92 76.69,480.39 78.03,479.06C79.36,477.72 81.08,476.86 82.61,475.62C84.13,474.38 85.66,473.33 87.19,471.62C88.71,469.90 90.43,467.32 91.77,465.32C93.10,463.31 94.06,461.12 95.20,459.59C96.35,458.07 97.49,455.97 98.64,456.16C99.78,456.35 100.93,459.21 102.07,460.74C103.22,462.27 104.17,464.65 105.51,465.32C106.84,465.99 108.75,464.46 110.09,464.75C111.42,465.03 112.38,466.18 113.52,467.04C114.67,467.89 115.81,469.33 116.96,469.90C118.10,470.47 119.25,471.04 120.39,470.47C121.53,469.90 122.48,467.70 123.82,466.46C125.17,465.22 126.90,463.21 128.43,463.02C129.96,462.83 131.48,464.36 133.01,465.31C134.54,466.26 136.06,467.50 137.59,468.74C139.11,469.98 140.64,471.22 142.17,472.75C143.69,474.27 145.22,476.56 146.74,477.90C148.27,479.23 149.79,480.28 151.32,480.76C152.85,481.24 154.37,480.85 155.90,480.76C157.42,480.66 158.95,480.09 160.48,480.19C162.00,480.28 163.72,481.04 165.05,481.33C166.39,481.62 167.34,482.48 168.49,481.90C169.63,481.33 170.77,479.23 171.92,477.90C173.06,476.56 174.02,474.85 175.35,473.89C176.69,472.94 178.40,473.03 179.93,472.18C181.46,471.32 183.00,469.89 184.51,468.74C186.01,467.60 188.23,465.88 188.97,465.31" fill="none" stroke="#eb9a96" stroke-width="1.50"/>
<path d="M62.69,488.22C63.34,488.73 65.17,490.54 66.58,491.31C67.99,492.07 69.82,493.31 71.16,492.80C72.49,492.28 73.45,489.36 74.59,488.22C75.74,487.07 76.69,486.50 78.03,485.93C79.36,485.35 81.08,485.45 82.61,484.78C84.13,484.11 85.66,483.26 87.19,481.92C88.71,480.58 90.43,478.39 91.77,476.77C93.10,475.15 94.06,473.33 95.20,472.19C96.35,471.04 97.49,469.71 98.64,469.90C99.78,470.09 100.93,472.19 102.07,473.33C103.22,474.48 104.17,476.10 105.51,476.77C106.84,477.44 108.75,476.86 110.09,477.34C111.42,477.82 112.38,478.77 113.52,479.63C114.67,480.49 115.81,481.92 116.96,482.49C118.10,483.06 119.25,483.64 120.39,483.06C121.53,482.49 122.48,480.49 123.82,479.06C125.17,477.62 126.90,475.04 128.43,474.46C129.96,473.89 131.48,474.85 133.01,475.61C134.54,476.37 136.06,477.99 137.59,479.04C139.11,480.09 140.64,480.76 142.17,481.90C143.69,483.05 145.22,484.95 146.74,485.91C148.27,486.86 149.79,487.34 151.32,487.62C152.85,487.91 154.37,487.72 155.90,487.62C157.42,487.53 158.95,486.96 160.48,487.05C162.00,487.15 163.72,487.91 165.05,488.20C166.39,488.48 167.34,489.15 168.49,488.77C169.63,488.39 170.77,486.67 171.92,485.91C173.06,485.15 174.02,484.57 175.35,484.19C176.69,483.81 178.40,484.10 179.93,483.62C181.46,483.14 183.00,482.28 184.51,481.33C186.01,480.38 188.23,478.47 188.97,477.90" fill="none" stroke="#eb9a96" stroke-width="1.50"/>
<path d="M62.69,487.42C63.53,487.28 65.93,486.59 67.72,486.61C69.52,486.63 71.54,486.98 73.45,487.53C75.36,488.08 77.27,489.21 79.17,489.93C81.08,490.66 82.99,490.87 84.90,491.88C86.81,492.89 88.71,494.90 90.62,496.00C92.53,497.11 94.44,498.20 96.35,498.52C98.26,498.84 100.16,498.18 102.07,497.95C103.98,497.72 105.89,497.38 107.80,497.15C109.70,496.92 111.80,497.15 113.52,496.57C115.24,496.00 116.57,494.00 118.10,493.71C119.63,493.43 121.53,494.54 122.68,494.86C123.83,495.18 123.85,495.41 125.00,495.64C126.15,495.86 128.05,496.40 129.58,496.21C131.10,496.02 132.63,495.10 134.15,494.49C135.68,493.88 137.21,493.35 138.73,492.55C140.26,491.74 141.78,490.41 143.31,489.68C144.84,488.96 146.36,488.48 147.89,488.20C149.41,487.91 150.94,488.03 152.46,487.97C153.99,487.91 155.52,487.87 157.04,487.85C158.57,487.83 160.09,487.80 161.62,487.85C163.15,487.91 164.67,487.89 166.20,488.20C167.72,488.50 169.25,489.15 170.77,489.68C172.30,490.22 173.83,490.98 175.35,491.40C176.88,491.82 178.40,491.78 179.93,492.20C181.46,492.62 183.00,493.54 184.51,493.92C186.01,494.30 188.23,494.40 188.97,494.49" fill="none" stroke="#8c8fcc" stroke-width="1.50"/>
<path d="M62.69,490.16C63.53,490.03 65.93,489.27 67.72,489.36C69.52,489.46 71.54,490.07 73.45,490.74C75.36,491.40 77.27,492.49 79.17,493.37C81.08,494.25 82.99,494.72 84.90,496.00C86.81,497.28 88.71,499.67 90.62,501.04C92.53,502.41 94.44,503.81 96.35,504.25C98.26,504.68 100.16,504.02 102.07,503.67C103.98,503.33 105.89,502.53 107.80,502.18C109.70,501.84 111.80,502.18 113.52,501.61C115.24,501.04 116.57,499.04 118.10,498.75C119.63,498.46 121.53,499.27 122.68,499.89C123.83,500.52 123.85,502.16 125.00,502.50C126.15,502.84 128.05,502.31 129.58,501.93C131.10,501.55 132.63,500.94 134.15,500.21C135.68,499.49 137.21,498.50 138.73,497.58C140.26,496.67 141.78,495.52 143.31,494.72C144.84,493.92 146.36,493.14 147.89,492.77C149.41,492.41 150.94,492.68 152.46,492.55C153.99,492.41 155.52,492.07 157.04,491.97C158.57,491.88 160.09,491.84 161.62,491.97C163.15,492.11 164.67,492.32 166.20,492.77C167.72,493.23 169.25,494.11 170.77,494.72C172.30,495.33 173.83,495.90 175.35,496.44C176.88,496.97 178.40,497.39 179.93,497.92C181.46,498.46 183.00,499.26 184.51,499.64C186.01,500.02 188.23,500.12 188.97,500.21" fill="none" stroke="#8c8fcc" stroke-width="1.50"/>
<path d="M62.69,487.07C63.34,487.55 65.17,489.27 66.58,489.93C67.99,490.60 69.82,491.75 71.16,491.08C72.49,490.41 73.45,487.36 74.59,485.93C75.74,484.50 76.69,483.45 78.03,482.49C79.36,481.54 81.08,481.16 82.61,480.20C84.13,479.25 85.66,478.29 87.19,476.77C88.71,475.24 90.43,472.86 91.77,471.04C93.10,469.23 94.06,467.23 95.20,465.89C96.35,464.56 97.49,462.84 98.64,463.03C99.78,463.22 100.93,465.70 102.07,467.04C103.22,468.37 104.17,470.38 105.51,471.04C106.84,471.71 108.75,470.66 110.09,471.04C111.42,471.42 112.38,472.47 113.52,473.33C114.67,474.19 115.81,475.62 116.96,476.19C118.10,476.77 119.25,477.34 120.39,476.77C121.53,476.19 122.48,474.10 123.82,472.76C125.17,471.42 126.90,469.13 128.43,468.74C129.96,468.36 131.48,469.60 133.01,470.46C134.54,471.32 136.06,472.75 137.59,473.89C139.11,475.04 140.64,475.99 142.17,477.33C143.69,478.66 145.22,480.76 146.74,481.90C148.27,483.05 149.79,483.81 151.32,484.19C152.85,484.57 154.37,484.29 155.90,484.19C157.42,484.10 158.95,483.52 160.48,483.62C162.00,483.72 163.72,484.48 165.05,484.76C166.39,485.05 167.34,485.81 168.49,485.34C169.63,484.86 170.77,482.95 171.92,481.90C173.06,480.85 174.02,479.71 175.35,479.04C176.69,478.37 178.40,478.57 179.93,477.90C181.46,477.23 183.00,476.09 184.51,475.04C186.01,473.99 188.23,472.18 188.97,471.60" fill="none" stroke="#d03a2c" stroke-width="1.90" stroke-linejoin="round"/>
<path d="M62.69,488.79C63.53,488.66 65.93,487.93 67.72,487.99C69.52,488.04 71.54,488.52 73.45,489.13C75.36,489.74 77.27,490.85 79.17,491.65C81.08,492.45 82.99,492.80 84.90,493.94C86.81,495.09 88.71,497.28 90.62,498.52C92.53,499.76 94.44,501.00 96.35,501.38C98.26,501.76 100.16,501.10 102.07,500.81C103.98,500.52 105.89,499.95 107.80,499.67C109.70,499.38 111.80,499.67 113.52,499.09C115.24,498.52 116.57,496.52 118.10,496.23C119.63,495.94 121.53,496.90 122.68,497.38C123.83,497.85 123.85,498.79 125.00,499.07C126.15,499.35 128.05,499.35 129.58,499.07C131.10,498.78 132.63,498.02 134.15,497.35C135.68,496.68 137.21,495.92 138.73,495.06C140.26,494.21 141.78,492.97 143.31,492.20C144.84,491.44 146.36,490.81 147.89,490.49C149.41,490.16 150.94,490.35 152.46,490.26C153.99,490.16 155.52,489.97 157.04,489.91C158.57,489.86 160.09,489.82 161.62,489.91C163.15,490.01 164.67,490.10 166.20,490.49C167.72,490.87 169.25,491.63 170.77,492.20C172.30,492.77 173.83,493.44 175.35,493.92C176.88,494.40 178.40,494.59 179.93,495.06C181.46,495.54 183.00,496.40 184.51,496.78C186.01,497.16 188.23,497.26 188.97,497.35" fill="none" stroke="#4450a8" stroke-width="1.90" stroke-linejoin="round"/>
</g>
<path d="M73.23,530.30v-1.6M73.23,447.70v1.6M128.36,530.30v-1.6M128.36,447.70v1.6M183.49,530.30v-1.6M183.49,447.70v1.6M62.20,530.30h1.6M189.00,530.30h-1.6M62.20,509.65h1.6M189.00,509.65h-1.6M62.20,489.00h1.6M189.00,489.00h-1.6M62.20,468.35h1.6M189.00,468.35h-1.6M62.20,447.70h1.6M189.00,447.70h-1.6" stroke="#000" stroke-width="1" fill="none"/>
<rect x="62.20" y="447.70" width="126.80" height="82.60" fill="none" stroke="#000" stroke-width="1.35"/>
<text x="73.23" y="549.60" font-size="17.5" text-anchor="middle" fill="#111">0</text>
<text x="128.36" y="549.60" font-size="17.5" text-anchor="middle" fill="#111">10</text>
<text x="183.49" y="549.60" font-size="17.5" text-anchor="middle" fill="#111">20</text>
<text x="54.60" y="453.70" font-size="17.5" text-anchor="end" fill="#111">0.4</text>
<text x="54.60" y="474.35" font-size="17.5" text-anchor="end" fill="#111">0.2</text>
<text x="54.60" y="495.00" font-size="17.5" text-anchor="end" fill="#111">0</text>
<text x="54.60" y="515.65" font-size="17.5" text-anchor="end" fill="#111">-0.2</text>
<text x="54.60" y="536.30" font-size="17.5" text-anchor="end" fill="#111">-0.4</text>
<text x="125.60" y="435.40" font-size="17.6" text-anchor="middle" fill="#111">channel 8-L</text>
<text transform="translate(17.3,489.00) rotate(-90)" font-size="17.6" text-anchor="middle" fill="#111">dConc (<tspan font-style="italic">&#956;</tspan>M)</text>
<clipPath id="clip21"><rect x="200.80" y="447.70" width="126.80" height="82.60"/></clipPath>
<rect x="228.37" y="450.30" width="27.57" height="77.10" fill="#e5e5e5"/>
<g clip-path="url(#clip21)">
<path d="M200.92,489.36C201.72,489.13 204.16,488.94 205.72,487.99C207.29,487.03 208.78,485.13 210.30,483.64C211.83,482.15 213.36,480.30 214.88,479.06C216.41,477.82 217.94,476.96 219.46,476.19C220.99,475.43 222.52,474.86 224.04,474.48C225.57,474.10 227.29,474.38 228.62,473.91C229.96,473.43 230.91,472.66 232.06,471.62C233.20,470.57 234.25,469.04 235.49,467.61C236.73,466.18 238.16,463.22 239.50,463.03C240.83,462.84 242.27,464.84 243.51,466.46C244.75,468.09 245.80,470.57 246.94,472.76C248.09,474.95 249.23,477.82 250.38,479.63C251.52,481.44 252.67,482.78 253.81,483.64C254.96,484.50 256.00,484.78 257.25,484.78C258.49,484.78 260.29,484.02 261.25,483.64C262.21,483.25 261.95,483.53 263.00,482.48C264.05,481.42 266.05,478.66 267.58,477.33C269.10,475.99 270.25,475.23 272.15,474.46C274.06,473.70 277.11,472.65 279.02,472.75C280.93,472.84 282.26,474.08 283.60,475.04C284.93,475.99 285.70,477.80 287.03,478.47C288.37,479.14 290.27,478.37 291.61,479.04C292.94,479.71 293.71,481.04 295.04,482.48C296.38,483.91 298.09,486.58 299.62,487.62C301.15,488.67 302.67,488.77 304.20,488.77C305.72,488.77 307.25,488.29 308.77,487.62C310.30,486.96 311.83,485.53 313.35,484.76C314.88,484.00 316.40,483.72 317.93,483.05C319.46,482.38 320.90,481.71 322.51,480.76C324.11,479.81 326.70,477.90 327.54,477.33 L327.54,489.91C326.70,490.30 324.11,491.63 322.51,492.20C320.90,492.77 319.46,492.87 317.93,493.35C316.40,493.82 314.88,494.11 313.35,495.06C311.83,496.02 310.30,498.02 308.77,499.07C307.25,500.12 305.72,501.17 304.20,501.36C302.67,501.55 301.15,501.45 299.62,500.21C298.09,498.97 296.38,495.73 295.04,493.92C293.71,492.11 292.94,490.01 291.61,489.34C290.27,488.67 288.37,490.01 287.03,489.91C285.70,489.82 284.93,489.15 283.60,488.77C282.26,488.39 280.93,487.72 279.02,487.62C277.11,487.53 274.06,487.82 272.15,488.20C270.25,488.58 269.10,488.77 267.58,489.91C266.05,491.06 264.05,494.01 263.00,495.06C261.95,496.12 262.21,496.04 261.25,496.23C260.29,496.43 258.49,496.61 257.25,496.23C256.00,495.85 254.96,494.61 253.81,493.94C252.67,493.27 251.52,493.27 250.38,492.22C249.23,491.17 248.09,489.46 246.94,487.64C245.80,485.83 244.75,482.97 243.51,481.35C242.27,479.73 240.83,477.91 239.50,477.91C238.16,477.91 236.73,480.30 235.49,481.35C234.25,482.40 233.20,483.35 232.06,484.21C230.91,485.07 229.96,486.02 228.62,486.50C227.29,486.98 225.57,486.88 224.04,487.07C222.52,487.26 220.99,487.45 219.46,487.64C217.94,487.83 216.41,487.93 214.88,488.22C213.36,488.50 211.83,488.94 210.30,489.36C208.78,489.78 207.29,490.35 205.72,490.74C204.16,491.12 201.72,491.50 200.92,491.65 Z" fill="#fbcfbe" fill-opacity="0.60" stroke="none"/>
<path d="M200.92,488.22C201.72,488.14 203.97,487.76 205.72,487.76C207.48,487.76 209.54,487.95 211.45,488.22C213.36,488.48 215.27,489.11 217.17,489.36C219.08,489.61 220.99,489.55 222.90,489.70C224.81,489.86 226.71,489.86 228.62,490.28C230.53,490.70 232.63,491.80 234.35,492.22C236.06,492.64 237.40,492.70 238.93,492.80C240.45,492.89 241.98,493.27 243.51,492.80C245.03,492.32 246.56,490.98 248.09,489.93C249.61,488.88 251.14,487.26 252.67,486.50C254.19,485.74 255.81,485.58 257.25,485.35C258.68,485.13 260.29,485.13 261.25,485.13C262.21,485.12 261.95,485.02 263.00,485.34C264.05,485.66 266.05,486.58 267.58,487.05C269.10,487.53 270.25,487.82 272.15,488.20C274.06,488.58 277.11,489.44 279.02,489.34C280.93,489.25 282.07,488.06 283.60,487.62C285.12,487.19 286.65,486.96 288.18,486.71C289.70,486.46 291.23,486.65 292.75,486.14C294.28,485.62 295.81,484.23 297.33,483.62C298.86,483.01 300.38,482.57 301.91,482.48C303.43,482.38 304.96,482.76 306.49,483.05C308.01,483.33 309.54,483.81 311.06,484.19C312.59,484.57 314.12,484.86 315.64,485.34C317.17,485.81 318.69,486.39 320.22,487.05C321.74,487.72 323.58,488.86 324.80,489.34C326.02,489.82 327.08,489.82 327.54,489.91 L327.54,496.78C327.08,496.68 326.02,496.68 324.80,496.21C323.58,495.73 321.74,494.59 320.22,493.92C318.69,493.25 317.17,492.68 315.64,492.20C314.12,491.73 312.59,491.44 311.06,491.06C309.54,490.68 308.01,490.20 306.49,489.91C304.96,489.63 303.43,489.25 301.91,489.34C300.38,489.44 298.86,489.95 297.33,490.49C295.81,491.02 294.28,492.11 292.75,492.55C291.23,492.98 289.70,492.79 288.18,493.12C286.65,493.44 285.12,493.98 283.60,494.49C282.07,495.01 280.93,496.11 279.02,496.21C277.11,496.30 274.06,495.25 272.15,495.06C270.25,494.87 269.10,495.35 267.58,495.06C266.05,494.78 264.05,493.78 263.00,493.35C261.95,492.91 262.21,492.64 261.25,492.45C260.29,492.27 258.68,492.07 257.25,492.22C255.81,492.38 254.19,492.61 252.67,493.37C251.14,494.13 249.61,495.75 248.09,496.80C246.56,497.85 245.03,499.19 243.51,499.67C241.98,500.14 240.45,499.95 238.93,499.67C237.40,499.38 236.06,498.67 234.35,497.95C232.63,497.22 230.53,495.85 228.62,495.31C226.71,494.78 224.81,494.97 222.90,494.74C220.99,494.51 219.08,494.46 217.17,493.94C215.27,493.43 213.36,492.22 211.45,491.65C209.54,491.08 207.48,490.70 205.72,490.51C203.97,490.32 201.72,490.51 200.92,490.51 Z" fill="#c8cdfa" fill-opacity="0.60" stroke="none"/>
<path d="M200.92,489.36C201.72,489.13 204.16,488.94 205.72,487.99C207.29,487.03 208.78,485.13 210.30,483.64C211.83,482.15 213.36,480.30 214.88,479.06C216.41,477.82 217.94,476.96 219.46,476.19C220.99,475.43 222.52,474.86 224.04,474.48C225.57,474.10 227.29,474.38 228.62,473.91C229.96,473.43 230.91,472.66 232.06,471.62C233.20,470.57 234.25,469.04 235.49,467.61C236.73,466.18 238.16,463.22 239.50,463.03C240.83,462.84 242.27,464.84 243.51,466.46C244.75,468.09 245.80,470.57 246.94,472.76C248.09,474.95 249.23,477.82 250.38,479.63C251.52,481.44 252.67,482.78 253.81,483.64C254.96,484.50 256.00,484.78 257.25,484.78C258.49,484.78 260.29,484.02 261.25,483.64C262.21,483.25 261.95,483.53 263.00,482.48C264.05,481.42 266.05,478.66 267.58,477.33C269.10,475.99 270.25,475.23 272.15,474.46C274.06,473.70 277.11,472.65 279.02,472.75C280.93,472.84 282.26,474.08 283.60,475.04C284.93,475.99 285.70,477.80 287.03,478.47C288.37,479.14 290.27,478.37 291.61,479.04C292.94,479.71 293.71,481.04 295.04,482.48C296.38,483.91 298.09,486.58 299.62,487.62C301.15,488.67 302.67,488.77 304.20,488.77C305.72,488.77 307.25,488.29 308.77,487.62C310.30,486.96 311.83,485.53 313.35,484.76C314.88,484.00 316.40,483.72 317.93,483.05C319.46,482.38 320.90,481.71 322.51,480.76C324.11,479.81 326.70,477.90 327.54,477.33" fill="none" stroke="#eb9a96" stroke-width="1.50"/>
<path d="M200.92,491.65C201.72,491.50 204.16,491.12 205.72,490.74C207.29,490.35 208.78,489.78 210.30,489.36C211.83,488.94 213.36,488.50 214.88,488.22C216.41,487.93 217.94,487.83 219.46,487.64C220.99,487.45 222.52,487.26 224.04,487.07C225.57,486.88 227.29,486.98 228.62,486.50C229.96,486.02 230.91,485.07 232.06,484.21C233.20,483.35 234.25,482.40 235.49,481.35C236.73,480.30 238.16,477.91 239.50,477.91C240.83,477.91 242.27,479.73 243.51,481.35C244.75,482.97 245.80,485.83 246.94,487.64C248.09,489.46 249.23,491.17 250.38,492.22C251.52,493.27 252.67,493.27 253.81,493.94C254.96,494.61 256.00,495.85 257.25,496.23C258.49,496.61 260.29,496.43 261.25,496.23C262.21,496.04 261.95,496.12 263.00,495.06C264.05,494.01 266.05,491.06 267.58,489.91C269.10,488.77 270.25,488.58 272.15,488.20C274.06,487.82 277.11,487.53 279.02,487.62C280.93,487.72 282.26,488.39 283.60,488.77C284.93,489.15 285.70,489.82 287.03,489.91C288.37,490.01 290.27,488.67 291.61,489.34C292.94,490.01 293.71,492.11 295.04,493.92C296.38,495.73 298.09,498.97 299.62,500.21C301.15,501.45 302.67,501.55 304.20,501.36C305.72,501.17 307.25,500.12 308.77,499.07C310.30,498.02 311.83,496.02 313.35,495.06C314.88,494.11 316.40,493.82 317.93,493.35C319.46,492.87 320.90,492.77 322.51,492.20C324.11,491.63 326.70,490.30 327.54,489.91" fill="none" stroke="#eb9a96" stroke-width="1.50"/>
<path d="M200.92,488.22C201.72,488.14 203.97,487.76 205.72,487.76C207.48,487.76 209.54,487.95 211.45,488.22C213.36,488.48 215.27,489.11 217.17,489.36C219.08,489.61 220.99,489.55 222.90,489.70C224.81,489.86 226.71,489.86 228.62,490.28C230.53,490.70 232.63,491.80 234.35,492.22C236.06,492.64 237.40,492.70 238.93,492.80C240.45,492.89 241.98,493.27 243.51,492.80C245.03,492.32 246.56,490.98 248.09,489.93C249.61,488.88 251.14,487.26 252.67,486.50C254.19,485.74 255.81,485.58 257.25,485.35C258.68,485.13 260.29,485.13 261.25,485.13C262.21,485.12 261.95,485.02 263.00,485.34C264.05,485.66 266.05,486.58 267.58,487.05C269.10,487.53 270.25,487.82 272.15,488.20C274.06,488.58 277.11,489.44 279.02,489.34C280.93,489.25 282.07,488.06 283.60,487.62C285.12,487.19 286.65,486.96 288.18,486.71C289.70,486.46 291.23,486.65 292.75,486.14C294.28,485.62 295.81,484.23 297.33,483.62C298.86,483.01 300.38,482.57 301.91,482.48C303.43,482.38 304.96,482.76 306.49,483.05C308.01,483.33 309.54,483.81 311.06,484.19C312.59,484.57 314.12,484.86 315.64,485.34C317.17,485.81 318.69,486.39 320.22,487.05C321.74,487.72 323.58,488.86 324.80,489.34C326.02,489.82 327.08,489.82 327.54,489.91" fill="none" stroke="#8c8fcc" stroke-width="1.50"/>
<path d="M200.92,490.51C201.72,490.51 203.97,490.32 205.72,490.51C207.48,490.70 209.54,491.08 211.45,491.65C213.36,492.22 215.27,493.43 217.17,493.94C219.08,494.46 220.99,494.51 222.90,494.74C224.81,494.97 226.71,494.78 228.62,495.31C230.53,495.85 232.63,497.22 234.35,497.95C236.06,498.67 237.40,499.38 238.93,499.67C240.45,499.95 241.98,500.14 243.51,499.67C245.03,499.19 246.56,497.85 248.09,496.80C249.61,495.75 251.14,494.13 252.67,493.37C254.19,492.61 255.81,492.38 257.25,492.22C258.68,492.07 260.29,492.27 261.25,492.45C262.21,492.64 261.95,492.91 263.00,493.35C264.05,493.78 266.05,494.78 267.58,495.06C269.10,495.35 270.25,494.87 272.15,495.06C274.06,495.25 277.11,496.30 279.02,496.21C280.93,496.11 282.07,495.01 283.60,494.49C285.12,493.98 286.65,493.44 288.18,493.12C289.70,492.79 291.23,492.98 292.75,492.55C294.28,492.11 295.81,491.02 297.33,490.49C298.86,489.95 300.38,489.44 301.91,489.34C303.43,489.25 304.96,489.63 306.49,489.91C308.01,490.20 309.54,490.68 311.06,491.06C312.59,491.44 314.12,491.73 315.64,492.20C317.17,492.68 318.69,493.25 320.22,493.92C321.74,494.59 323.58,495.73 324.80,496.21C326.02,496.68 327.08,496.68 327.54,496.78" fill="none" stroke="#8c8fcc" stroke-width="1.50"/>
<path d="M200.92,490.51C201.72,490.32 204.16,490.03 205.72,489.36C207.29,488.69 208.78,487.45 210.30,486.50C211.83,485.55 213.36,484.40 214.88,483.64C216.41,482.87 217.94,482.40 219.46,481.92C220.99,481.44 222.52,481.06 224.04,480.77C225.57,480.49 227.29,480.68 228.62,480.20C229.96,479.73 230.91,478.87 232.06,477.91C233.20,476.96 234.25,475.72 235.49,474.48C236.73,473.24 238.16,470.57 239.50,470.47C240.83,470.38 242.27,472.28 243.51,473.91C244.75,475.53 245.80,478.20 246.94,480.20C248.09,482.21 249.23,484.50 250.38,485.93C251.52,487.36 252.67,488.03 253.81,488.79C254.96,489.55 256.00,490.32 257.25,490.51C258.49,490.70 260.29,490.22 261.25,489.93C262.21,489.64 261.95,489.82 263.00,488.77C264.05,487.72 266.05,484.86 267.58,483.62C269.10,482.38 270.25,481.90 272.15,481.33C274.06,480.76 277.11,480.09 279.02,480.19C280.93,480.28 282.26,481.24 283.60,481.90C284.93,482.57 285.70,483.81 287.03,484.19C288.37,484.57 290.27,483.52 291.61,484.19C292.94,484.86 293.71,486.58 295.04,488.20C296.38,489.82 298.09,492.77 299.62,493.92C301.15,495.06 302.67,495.16 304.20,495.06C305.72,494.97 307.25,494.21 308.77,493.35C310.30,492.49 311.83,490.77 313.35,489.91C314.88,489.06 316.40,488.77 317.93,488.20C319.46,487.62 320.90,487.24 322.51,486.48C324.11,485.72 326.70,484.10 327.54,483.62" fill="none" stroke="#d03a2c" stroke-width="1.90" stroke-linejoin="round"/>
<path d="M200.92,489.36C201.72,489.32 203.97,489.04 205.72,489.13C207.48,489.23 209.54,489.51 211.45,489.93C213.36,490.35 215.27,491.27 217.17,491.65C219.08,492.03 220.99,492.03 222.90,492.22C224.81,492.41 226.71,492.32 228.62,492.80C230.53,493.27 232.63,494.51 234.35,495.09C236.06,495.66 237.40,496.04 238.93,496.23C240.45,496.42 241.98,496.71 243.51,496.23C245.03,495.75 246.56,494.42 248.09,493.37C249.61,492.32 251.14,490.70 252.67,489.93C254.19,489.17 255.81,488.98 257.25,488.79C258.68,488.60 260.29,488.70 261.25,488.79C262.21,488.88 261.95,488.96 263.00,489.34C264.05,489.72 266.05,490.68 267.58,491.06C269.10,491.44 270.25,491.34 272.15,491.63C274.06,491.92 277.11,492.87 279.02,492.77C280.93,492.68 282.07,491.53 283.60,491.06C285.12,490.58 286.65,490.20 288.18,489.91C289.70,489.63 291.23,489.82 292.75,489.34C294.28,488.86 295.81,487.62 297.33,487.05C298.86,486.48 300.38,486.00 301.91,485.91C303.43,485.81 304.96,486.19 306.49,486.48C308.01,486.77 309.54,487.24 311.06,487.62C312.59,488.01 314.12,488.29 315.64,488.77C317.17,489.25 318.69,489.82 320.22,490.49C321.74,491.15 323.58,492.30 324.80,492.77C326.02,493.25 327.08,493.25 327.54,493.35" fill="none" stroke="#4450a8" stroke-width="1.90" stroke-linejoin="round"/>
</g>
<path d="M211.83,530.30v-1.6M211.83,447.70v1.6M266.96,530.30v-1.6M266.96,447.70v1.6M322.09,530.30v-1.6M322.09,447.70v1.6M200.80,530.30h1.6M327.60,530.30h-1.6M200.80,509.65h1.6M327.60,509.65h-1.6M200.80,489.00h1.6M327.60,489.00h-1.6M200.80,468.35h1.6M327.60,468.35h-1.6M200.80,447.70h1.6M327.60,447.70h-1.6" stroke="#000" stroke-width="1" fill="none"/>
<rect x="200.80" y="447.70" width="126.80" height="82.60" fill="none" stroke="#000" stroke-width="1.35"/>
<text x="211.83" y="549.60" font-size="17.5" text-anchor="middle" fill="#111">0</text>
<text x="266.96" y="549.60" font-size="17.5" text-anchor="middle" fill="#111">10</text>
<text x="322.09" y="549.60" font-size="17.5" text-anchor="middle" fill="#111">20</text>
<text x="264.20" y="435.40" font-size="17.6" text-anchor="middle" fill="#111">channel 8-R</text>
<clipPath id="clip22"><rect x="400.80" y="447.70" width="126.80" height="82.60"/></clipPath>
<rect x="428.37" y="450.30" width="27.57" height="77.10" fill="#e5e5e5"/>
<g clip-path="url(#clip22)">
<path d="M400.92,485.13C401.53,485.89 403.21,488.75 404.58,489.70C405.95,490.66 407.82,491.77 409.16,490.85C410.49,489.93 411.45,486.27 412.59,484.21C413.74,482.15 414.69,480.01 416.03,478.48C417.36,476.96 419.08,475.15 420.61,475.05C422.13,474.95 423.66,477.05 425.19,477.91C426.71,478.77 428.24,479.73 429.77,480.20C431.29,480.68 433.01,480.58 434.35,480.77C435.68,480.97 436.64,480.39 437.78,481.35C438.93,482.30 439.88,484.78 441.22,486.50C442.55,488.22 444.27,489.93 445.80,491.65C447.32,493.37 448.85,495.09 450.38,496.80C451.90,498.52 453.62,500.81 454.96,501.96C456.29,503.10 457.25,504.15 458.39,503.67C459.53,503.20 460.67,502.91 461.82,499.09C462.97,495.27 464.14,485.82 465.29,480.76C466.44,475.70 467.39,472.56 468.72,468.74C470.06,464.93 471.77,460.83 473.30,457.87C474.83,454.92 476.35,452.44 477.88,451.01C479.40,449.57 481.12,448.81 482.45,449.29C483.79,449.77 484.74,451.39 485.89,453.87C487.03,456.35 488.18,460.45 489.32,464.17C490.46,467.88 491.61,472.75 492.75,476.18C493.90,479.61 494.85,483.05 496.19,484.76C497.52,486.48 499.24,486.19 500.76,486.48C502.29,486.77 503.82,486.48 505.34,486.48C506.87,486.48 508.58,487.34 509.92,486.48C511.25,485.62 512.21,483.52 513.35,481.33C514.50,479.14 515.83,474.85 516.79,473.32C517.74,471.79 518.12,471.22 519.07,472.18C520.03,473.13 521.36,477.33 522.51,479.04C523.65,480.76 525.10,482.09 525.94,482.48C526.78,482.86 527.28,481.52 527.54,481.33 L527.54,499.64C527.28,499.83 526.78,500.59 525.94,500.79C525.10,500.98 523.65,500.98 522.51,500.79C521.36,500.59 520.03,499.83 519.07,499.64C518.12,499.45 517.74,499.26 516.79,499.64C515.83,500.02 514.50,501.26 513.35,501.93C512.21,502.60 511.25,503.74 509.92,503.65C508.58,503.55 506.87,501.93 505.34,501.36C503.82,500.79 502.29,500.69 500.76,500.21C499.24,499.74 497.52,499.64 496.19,498.50C494.85,497.35 493.90,495.25 492.75,493.35C491.61,491.44 490.46,489.25 489.32,487.05C488.18,484.86 487.03,482.09 485.89,480.19C484.74,478.28 483.79,476.09 482.45,475.61C481.12,475.13 479.40,476.47 477.88,477.33C476.35,478.18 474.83,479.14 473.30,480.76C471.77,482.38 470.06,484.19 468.72,487.05C467.39,489.91 466.44,493.82 465.29,497.92C464.14,502.03 462.97,508.44 461.82,511.69C460.67,514.93 459.53,516.55 458.39,517.41C457.25,518.27 456.29,517.79 454.96,516.84C453.62,515.88 451.90,513.60 450.38,511.69C448.85,509.78 447.32,507.49 445.80,505.39C444.27,503.29 442.55,501.19 441.22,499.09C439.88,496.99 438.93,493.94 437.78,492.80C436.64,491.65 435.68,492.41 434.35,492.22C433.01,492.03 431.29,491.94 429.77,491.65C428.24,491.36 426.71,490.98 425.19,490.51C423.66,490.03 422.13,489.08 420.61,488.79C419.08,488.50 417.36,488.60 416.03,488.79C414.69,488.98 413.74,489.13 412.59,489.93C411.45,490.74 410.49,493.18 409.16,493.60C407.82,494.02 405.95,493.41 404.58,492.45C403.21,491.50 401.53,488.64 400.92,487.87 Z" fill="#fbcfbe" fill-opacity="0.60" stroke="none"/>
<path d="M400.92,488.22C401.72,487.89 403.97,486.27 405.72,486.27C407.48,486.27 409.54,487.64 411.45,488.22C413.36,488.79 415.27,489.42 417.17,489.70C419.08,489.99 420.99,490.09 422.90,489.93C424.81,489.78 426.71,489.08 428.62,488.79C430.53,488.50 432.63,488.50 434.35,488.22C436.06,487.93 437.40,487.74 438.93,487.07C440.45,486.40 441.98,485.26 443.51,484.21C445.03,483.16 446.56,481.82 448.09,480.77C449.61,479.73 451.33,478.58 452.67,477.91C454.00,477.24 454.96,476.77 456.10,476.77C457.25,476.77 458.38,477.53 459.53,477.91C460.68,478.29 461.85,477.61 463.00,479.04C464.15,480.47 465.10,484.29 466.43,486.48C467.77,488.67 469.48,490.49 471.01,492.20C472.54,493.92 474.06,495.73 475.59,496.78C477.11,497.83 478.64,498.59 480.17,498.50C481.69,498.40 483.22,497.83 484.74,496.21C486.27,494.59 487.99,491.06 489.32,488.77C490.66,486.48 491.61,483.81 492.75,482.48C493.90,481.14 494.85,480.95 496.19,480.76C497.52,480.57 499.24,481.14 500.76,481.33C502.29,481.52 503.82,481.90 505.34,481.90C506.87,481.90 508.39,480.85 509.92,481.33C511.44,481.81 512.97,484.10 514.50,484.76C516.02,485.43 517.55,485.62 519.07,485.34C520.60,485.05 522.24,483.24 523.65,483.05C525.06,482.86 526.89,484.00 527.54,484.19 L527.54,492.20C526.89,492.01 525.06,490.68 523.65,491.06C522.24,491.44 520.60,494.21 519.07,494.49C517.55,494.78 516.02,493.63 514.50,492.77C512.97,491.92 511.44,489.82 509.92,489.34C508.39,488.86 506.87,489.91 505.34,489.91C503.82,489.91 502.29,489.53 500.76,489.34C499.24,489.15 497.52,488.01 496.19,488.77C494.85,489.53 493.90,491.82 492.75,493.92C491.61,496.02 490.66,498.69 489.32,501.36C487.99,504.03 486.27,507.94 484.74,509.94C483.22,511.94 481.69,513.47 480.17,513.37C478.64,513.28 477.11,511.18 475.59,509.37C474.06,507.56 472.54,504.98 471.01,502.50C469.48,500.02 467.77,497.26 466.43,494.49C465.10,491.73 464.15,487.34 463.00,485.91C461.85,484.48 460.68,486.11 459.53,485.93C458.38,485.74 457.25,484.78 456.10,484.78C454.96,484.78 454.00,485.45 452.67,485.93C451.33,486.40 449.61,486.98 448.09,487.64C446.56,488.31 445.03,489.08 443.51,489.93C441.98,490.79 440.45,492.13 438.93,492.80C437.40,493.46 436.06,493.65 434.35,493.94C432.63,494.23 430.53,494.23 428.62,494.51C426.71,494.80 424.81,495.62 422.90,495.66C420.99,495.70 419.08,495.41 417.17,494.74C415.27,494.07 413.36,492.61 411.45,491.65C409.54,490.70 407.48,489.21 405.72,489.02C403.97,488.83 401.72,490.26 400.92,490.51 Z" fill="#c8cdfa" fill-opacity="0.60" stroke="none"/>
<path d="M400.92,485.13C401.53,485.89 403.21,488.75 404.58,489.70C405.95,490.66 407.82,491.77 409.16,490.85C410.49,489.93 411.45,486.27 412.59,484.21C413.74,482.15 414.69,480.01 416.03,478.48C417.36,476.96 419.08,475.15 420.61,475.05C422.13,474.95 423.66,477.05 425.19,477.91C426.71,478.77 428.24,479.73 429.77,480.20C431.29,480.68 433.01,480.58 434.35,480.77C435.68,480.97 436.64,480.39 437.78,481.35C438.93,482.30 439.88,484.78 441.22,486.50C442.55,488.22 444.27,489.93 445.80,491.65C447.32,493.37 448.85,495.09 450.38,496.80C451.90,498.52 453.62,500.81 454.96,501.96C456.29,503.10 457.25,504.15 458.39,503.67C459.53,503.20 460.67,502.91 461.82,499.09C462.97,495.27 464.14,485.82 465.29,480.76C466.44,475.70 467.39,472.56 468.72,468.74C470.06,464.93 471.77,460.83 473.30,457.87C474.83,454.92 476.35,452.44 477.88,451.01C479.40,449.57 481.12,448.81 482.45,449.29C483.79,449.77 484.74,451.39 485.89,453.87C487.03,456.35 488.18,460.45 489.32,464.17C490.46,467.88 491.61,472.75 492.75,476.18C493.90,479.61 494.85,483.05 496.19,484.76C497.52,486.48 499.24,486.19 500.76,486.48C502.29,486.77 503.82,486.48 505.34,486.48C506.87,486.48 508.58,487.34 509.92,486.48C511.25,485.62 512.21,483.52 513.35,481.33C514.50,479.14 515.83,474.85 516.79,473.32C517.74,471.79 518.12,471.22 519.07,472.18C520.03,473.13 521.36,477.33 522.51,479.04C523.65,480.76 525.10,482.09 525.94,482.48C526.78,482.86 527.28,481.52 527.54,481.33" fill="none" stroke="#eb9a96" stroke-width="1.50"/>
<path d="M400.92,487.87C401.53,488.64 403.21,491.50 404.58,492.45C405.95,493.41 407.82,494.02 409.16,493.60C410.49,493.18 411.45,490.74 412.59,489.93C413.74,489.13 414.69,488.98 416.03,488.79C417.36,488.60 419.08,488.50 420.61,488.79C422.13,489.08 423.66,490.03 425.19,490.51C426.71,490.98 428.24,491.36 429.77,491.65C431.29,491.94 433.01,492.03 434.35,492.22C435.68,492.41 436.64,491.65 437.78,492.80C438.93,493.94 439.88,496.99 441.22,499.09C442.55,501.19 444.27,503.29 445.80,505.39C447.32,507.49 448.85,509.78 450.38,511.69C451.90,513.60 453.62,515.88 454.96,516.84C456.29,517.79 457.25,518.27 458.39,517.41C459.53,516.55 460.67,514.93 461.82,511.69C462.97,508.44 464.14,502.03 465.29,497.92C466.44,493.82 467.39,489.91 468.72,487.05C470.06,484.19 471.77,482.38 473.30,480.76C474.83,479.14 476.35,478.18 477.88,477.33C479.40,476.47 481.12,475.13 482.45,475.61C483.79,476.09 484.74,478.28 485.89,480.19C487.03,482.09 488.18,484.86 489.32,487.05C490.46,489.25 491.61,491.44 492.75,493.35C493.90,495.25 494.85,497.35 496.19,498.50C497.52,499.64 499.24,499.74 500.76,500.21C502.29,500.69 503.82,500.79 505.34,501.36C506.87,501.93 508.58,503.55 509.92,503.65C511.25,503.74 512.21,502.60 513.35,501.93C514.50,501.26 515.83,500.02 516.79,499.64C517.74,499.26 518.12,499.45 519.07,499.64C520.03,499.83 521.36,500.59 522.51,500.79C523.65,500.98 525.10,500.98 525.94,500.79C526.78,500.59 527.28,499.83 527.54,499.64" fill="none" stroke="#eb9a96" stroke-width="1.50"/>
<path d="M400.92,488.22C401.72,487.89 403.97,486.27 405.72,486.27C407.48,486.27 409.54,487.64 411.45,488.22C413.36,488.79 415.27,489.42 417.17,489.70C419.08,489.99 420.99,490.09 422.90,489.93C424.81,489.78 426.71,489.08 428.62,488.79C430.53,488.50 432.63,488.50 434.35,488.22C436.06,487.93 437.40,487.74 438.93,487.07C440.45,486.40 441.98,485.26 443.51,484.21C445.03,483.16 446.56,481.82 448.09,480.77C449.61,479.73 451.33,478.58 452.67,477.91C454.00,477.24 454.96,476.77 456.10,476.77C457.25,476.77 458.38,477.53 459.53,477.91C460.68,478.29 461.85,477.61 463.00,479.04C464.15,480.47 465.10,484.29 466.43,486.48C467.77,488.67 469.48,490.49 471.01,492.20C472.54,493.92 474.06,495.73 475.59,496.78C477.11,497.83 478.64,498.59 480.17,498.50C481.69,498.40 483.22,497.83 484.74,496.21C486.27,494.59 487.99,491.06 489.32,488.77C490.66,486.48 491.61,483.81 492.75,482.48C493.90,481.14 494.85,480.95 496.19,480.76C497.52,480.57 499.24,481.14 500.76,481.33C502.29,481.52 503.82,481.90 505.34,481.90C506.87,481.90 508.39,480.85 509.92,481.33C511.44,481.81 512.97,484.10 514.50,484.76C516.02,485.43 517.55,485.62 519.07,485.34C520.60,485.05 522.24,483.24 523.65,483.05C525.06,482.86 526.89,484.00 527.54,484.19" fill="none" stroke="#8c8fcc" stroke-width="1.50"/>
<path d="M400.92,490.51C401.72,490.26 403.97,488.83 405.72,489.02C407.48,489.21 409.54,490.70 411.45,491.65C413.36,492.61 415.27,494.07 417.17,494.74C419.08,495.41 420.99,495.70 422.90,495.66C424.81,495.62 426.71,494.80 428.62,494.51C430.53,494.23 432.63,494.23 434.35,493.94C436.06,493.65 437.40,493.46 438.93,492.80C440.45,492.13 441.98,490.79 443.51,489.93C445.03,489.08 446.56,488.31 448.09,487.64C449.61,486.98 451.33,486.40 452.67,485.93C454.00,485.45 454.96,484.78 456.10,484.78C457.25,484.78 458.38,485.74 459.53,485.93C460.68,486.11 461.85,484.48 463.00,485.91C464.15,487.34 465.10,491.73 466.43,494.49C467.77,497.26 469.48,500.02 471.01,502.50C472.54,504.98 474.06,507.56 475.59,509.37C477.11,511.18 478.64,513.28 480.17,513.37C481.69,513.47 483.22,511.94 484.74,509.94C486.27,507.94 487.99,504.03 489.32,501.36C490.66,498.69 491.61,496.02 492.75,493.92C493.90,491.82 494.85,489.53 496.19,488.77C497.52,488.01 499.24,489.15 500.76,489.34C502.29,489.53 503.82,489.91 505.34,489.91C506.87,489.91 508.39,488.86 509.92,489.34C511.44,489.82 512.97,491.92 514.50,492.77C516.02,493.63 517.55,494.78 519.07,494.49C520.60,494.21 522.24,491.44 523.65,491.06C525.06,490.68 526.89,492.01 527.54,492.20" fill="none" stroke="#8c8fcc" stroke-width="1.50"/>
<path d="M400.92,486.50C401.53,487.26 403.21,490.12 404.58,491.08C405.95,492.03 407.82,492.89 409.16,492.22C410.49,491.56 411.45,488.50 412.59,487.07C413.74,485.64 414.69,484.50 416.03,483.64C417.36,482.78 419.08,481.82 420.61,481.92C422.13,482.01 423.66,483.54 425.19,484.21C426.71,484.88 428.24,485.55 429.77,485.93C431.29,486.31 433.01,486.31 434.35,486.50C435.68,486.69 436.64,486.02 437.78,487.07C438.93,488.12 439.88,490.89 441.22,492.80C442.55,494.70 444.27,496.61 445.80,498.52C447.32,500.43 448.85,502.43 450.38,504.25C451.90,506.06 453.62,508.35 454.96,509.40C456.29,510.45 457.25,511.21 458.39,510.54C459.53,509.87 460.67,508.92 461.82,505.39C462.97,501.86 464.14,493.92 465.29,489.34C466.44,484.76 467.39,481.24 468.72,477.90C470.06,474.56 471.77,471.60 473.30,469.32C474.83,467.03 476.35,465.31 477.88,464.17C479.40,463.02 481.12,461.97 482.45,462.45C483.79,462.93 484.74,464.83 485.89,467.03C487.03,469.22 488.18,472.65 489.32,475.61C490.46,478.57 491.61,482.09 492.75,484.76C493.90,487.43 494.85,490.20 496.19,491.63C497.52,493.06 499.24,492.97 500.76,493.35C502.29,493.73 503.82,493.63 505.34,493.92C506.87,494.21 508.58,495.44 509.92,495.06C511.25,494.68 512.21,493.06 513.35,491.63C514.50,490.20 515.83,487.43 516.79,486.48C517.74,485.53 518.12,485.34 519.07,485.91C520.03,486.48 521.36,488.96 522.51,489.91C523.65,490.87 525.10,491.53 525.94,491.63C526.78,491.73 527.28,490.68 527.54,490.49" fill="none" stroke="#d03a2c" stroke-width="1.90" stroke-linejoin="round"/>
<path d="M400.92,489.36C401.72,489.08 403.97,487.55 405.72,487.64C407.48,487.74 409.54,489.17 411.45,489.93C413.36,490.70 415.27,491.75 417.17,492.22C419.08,492.70 420.99,492.89 422.90,492.80C424.81,492.70 426.71,491.94 428.62,491.65C430.53,491.36 432.63,491.36 434.35,491.08C436.06,490.79 437.40,490.60 438.93,489.93C440.45,489.27 441.98,488.03 443.51,487.07C445.03,486.12 446.56,485.07 448.09,484.21C449.61,483.35 451.33,482.49 452.67,481.92C454.00,481.35 454.96,480.77 456.10,480.77C457.25,480.77 458.38,481.64 459.53,481.92C460.68,482.20 461.85,481.05 463.00,482.48C464.15,483.90 465.10,488.01 466.43,490.49C467.77,492.97 469.48,495.25 471.01,497.35C472.54,499.45 474.06,501.64 475.59,503.07C477.11,504.50 478.64,505.93 480.17,505.93C481.69,505.93 483.22,504.89 484.74,503.07C486.27,501.26 487.99,497.54 489.32,495.06C490.66,492.58 491.61,489.91 492.75,488.20C493.90,486.48 494.85,485.24 496.19,484.76C497.52,484.29 499.24,485.15 500.76,485.34C502.29,485.53 503.82,485.91 505.34,485.91C506.87,485.91 508.39,484.86 509.92,485.34C511.44,485.81 512.97,488.01 514.50,488.77C516.02,489.53 517.55,490.20 519.07,489.91C520.60,489.63 522.24,487.34 523.65,487.05C525.06,486.77 526.89,488.01 527.54,488.20" fill="none" stroke="#4450a8" stroke-width="1.90" stroke-linejoin="round"/>
</g>
<path d="M411.83,530.30v-1.6M411.83,447.70v1.6M466.96,530.30v-1.6M466.96,447.70v1.6M522.09,530.30v-1.6M522.09,447.70v1.6M400.80,530.30h1.6M527.60,530.30h-1.6M400.80,509.65h1.6M527.60,509.65h-1.6M400.80,489.00h1.6M527.60,489.00h-1.6M400.80,468.35h1.6M527.60,468.35h-1.6M400.80,447.70h1.6M527.60,447.70h-1.6" stroke="#000" stroke-width="1" fill="none"/>
<rect x="400.80" y="447.70" width="126.80" height="82.60" fill="none" stroke="#000" stroke-width="1.35"/>
<text x="411.83" y="549.60" font-size="17.5" text-anchor="middle" fill="#111">0</text>
<text x="466.96" y="549.60" font-size="17.5" text-anchor="middle" fill="#111">10</text>
<text x="522.09" y="549.60" font-size="17.5" text-anchor="middle" fill="#111">20</text>
<text x="393.20" y="453.70" font-size="17.5" text-anchor="end" fill="#111">0.4</text>
<text x="393.20" y="474.35" font-size="17.5" text-anchor="end" fill="#111">0.2</text>
<text x="393.20" y="495.00" font-size="17.5" text-anchor="end" fill="#111">0</text>
<text x="393.20" y="515.65" font-size="17.5" text-anchor="end" fill="#111">-0.2</text>
<text x="393.20" y="536.30" font-size="17.5" text-anchor="end" fill="#111">-0.4</text>
<text x="464.20" y="435.40" font-size="17.6" text-anchor="middle" fill="#111">channel 8-L</text>
<clipPath id="clip23"><rect x="539.60" y="447.70" width="126.80" height="82.60"/></clipPath>
<rect x="567.17" y="450.30" width="27.57" height="77.10" fill="#e5e5e5"/>
<g clip-path="url(#clip23)">
<path d="M539.69,488.79C540.34,489.17 542.17,491.84 543.58,491.08C544.99,490.32 546.63,486.50 548.16,484.21C549.69,481.92 551.21,479.44 552.74,477.34C554.27,475.24 555.79,473.14 557.32,471.62C558.84,470.09 560.37,468.94 561.90,468.18C563.42,467.42 564.95,467.23 566.48,467.04C568.00,466.84 569.53,466.46 571.06,467.04C572.58,467.61 574.30,469.04 575.64,470.47C576.97,471.90 577.93,473.05 579.07,475.62C580.22,478.20 581.36,482.78 582.51,485.93C583.65,489.08 584.80,491.84 585.94,494.51C587.09,497.18 588.23,499.86 589.38,501.96C590.52,504.05 591.67,505.77 592.81,507.11C593.96,508.44 595.10,510.06 596.25,509.97C597.39,509.87 598.72,508.45 599.68,506.53C600.64,504.62 601.04,501.17 602.00,498.50C602.96,495.82 604.10,492.87 605.43,490.49C606.77,488.10 608.48,486.48 610.01,484.19C611.54,481.90 613.25,479.52 614.59,476.75C615.92,473.99 616.88,469.98 618.02,467.60C619.17,465.21 620.31,462.54 621.45,462.45C622.60,462.35 623.74,464.36 624.89,467.03C626.03,469.70 627.18,475.32 628.32,478.47C629.46,481.62 630.61,484.00 631.75,485.91C632.90,487.82 633.85,488.86 635.19,489.91C636.52,490.96 638.24,491.82 639.76,492.20C641.29,492.58 642.82,492.49 644.34,492.20C645.87,491.92 647.58,491.15 648.92,490.49C650.25,489.82 651.21,489.34 652.35,488.20C653.50,487.05 654.64,485.34 655.79,483.62C656.93,481.90 658.07,479.33 659.22,477.90C660.36,476.47 661.43,475.23 662.65,475.04C663.87,474.85 665.89,476.47 666.54,476.75 L666.54,492.77C665.89,492.49 663.87,491.25 662.65,491.06C661.43,490.87 660.36,490.96 659.22,491.63C658.07,492.30 656.93,493.54 655.79,495.06C654.64,496.59 653.50,499.07 652.35,500.79C651.21,502.50 650.25,504.12 648.92,505.36C647.58,506.60 645.87,507.75 644.34,508.22C642.82,508.70 641.29,508.80 639.76,508.22C638.24,507.65 636.52,506.22 635.19,504.79C633.85,503.36 632.90,501.55 631.75,499.64C630.61,497.73 629.46,495.54 628.32,493.35C627.18,491.15 626.03,488.01 624.89,486.48C623.74,484.95 622.60,484.29 621.45,484.19C620.31,484.10 619.17,484.86 618.02,485.91C616.88,486.96 615.92,488.67 614.59,490.49C613.25,492.30 611.54,494.49 610.01,496.78C608.48,499.07 606.77,501.26 605.43,504.22C604.10,507.17 602.96,511.84 602.00,514.52C601.04,517.19 600.64,518.74 599.68,520.27C598.72,521.81 597.39,523.80 596.25,523.71C595.10,523.61 593.96,521.42 592.81,519.70C591.67,517.98 590.52,515.88 589.38,513.40C588.23,510.92 587.09,507.49 585.94,504.82C584.80,502.15 583.65,499.57 582.51,497.38C581.36,495.18 580.22,492.89 579.07,491.65C577.93,490.41 576.97,490.41 575.64,489.93C574.30,489.46 572.58,488.98 571.06,488.79C569.53,488.60 568.00,488.60 566.48,488.79C564.95,488.98 563.42,489.74 561.90,489.93C560.37,490.12 558.84,489.93 557.32,489.93C555.79,489.93 554.27,489.93 552.74,489.93C551.21,489.93 549.69,489.17 548.16,489.93C546.63,490.70 544.99,494.13 543.58,494.51C542.17,494.90 540.34,492.61 539.69,492.22 Z" fill="#fbcfbe" fill-opacity="0.60" stroke="none"/>
<path d="M539.69,484.21C540.34,484.44 542.17,484.82 543.58,485.58C544.99,486.35 546.63,488.16 548.16,488.79C549.69,489.42 551.21,489.17 552.74,489.36C554.27,489.55 555.79,489.84 557.32,489.93C558.84,490.03 560.37,489.88 561.90,489.93C563.42,489.99 564.95,490.32 566.48,490.28C568.00,490.24 569.53,489.99 571.06,489.70C572.58,489.42 574.11,489.19 575.64,488.56C577.16,487.93 578.88,487.32 580.22,485.93C581.55,484.53 582.32,481.82 583.65,480.20C584.99,478.58 586.90,477.34 588.23,476.19C589.57,475.05 590.52,474.19 591.67,473.33C592.81,472.47 593.96,471.04 595.10,471.04C596.25,471.04 597.38,472.19 598.53,473.33C599.68,474.48 600.85,476.37 602.00,477.90C603.15,479.42 604.10,480.95 605.43,482.48C606.77,484.00 608.48,486.10 610.01,487.05C611.54,488.01 613.06,487.62 614.59,488.20C616.11,488.77 617.83,489.91 619.17,490.49C620.50,491.06 621.26,492.30 622.60,491.63C623.93,490.96 625.65,488.48 627.18,486.48C628.70,484.48 630.23,481.43 631.75,479.61C633.28,477.80 634.81,476.28 636.33,475.61C637.86,474.94 639.38,475.42 640.91,475.61C642.43,475.80 643.96,475.99 645.49,476.75C647.01,477.52 648.54,478.76 650.06,480.19C651.59,481.62 653.12,483.81 654.64,485.34C656.17,486.86 657.69,488.58 659.22,489.34C660.74,490.10 662.58,489.82 663.80,489.91C665.02,490.01 666.08,489.91 666.54,489.91 L666.54,497.92C666.08,497.92 665.02,498.02 663.80,497.92C662.58,497.83 660.74,498.12 659.22,497.35C657.69,496.59 656.17,494.87 654.64,493.35C653.12,491.82 651.59,489.44 650.06,488.20C648.54,486.96 647.01,486.48 645.49,485.91C643.96,485.34 642.43,484.95 640.91,484.76C639.38,484.57 637.86,484.10 636.33,484.76C634.81,485.43 633.28,486.96 631.75,488.77C630.23,490.58 628.70,493.63 627.18,495.64C625.65,497.64 623.93,500.12 622.60,500.79C621.26,501.45 620.50,500.40 619.17,499.64C617.83,498.88 616.11,497.16 614.59,496.21C613.06,495.25 611.54,495.06 610.01,493.92C608.48,492.77 606.77,490.87 605.43,489.34C604.10,487.82 603.15,486.29 602.00,484.76C600.85,483.24 599.68,481.34 598.53,480.20C597.38,479.06 596.25,477.91 595.10,477.91C593.96,477.91 592.81,479.34 591.67,480.20C590.52,481.06 589.57,481.92 588.23,483.06C586.90,484.21 584.99,485.64 583.65,487.07C582.32,488.50 581.55,490.56 580.22,491.65C578.88,492.74 577.16,493.08 575.64,493.60C574.11,494.11 572.58,494.46 571.06,494.74C569.53,495.03 568.00,495.16 566.48,495.31C564.95,495.47 563.42,495.60 561.90,495.66C560.37,495.72 558.84,495.75 557.32,495.66C555.79,495.56 554.27,495.47 552.74,495.09C551.21,494.70 549.69,494.27 548.16,493.37C546.63,492.47 544.99,490.66 543.58,489.70C542.17,488.75 540.34,487.99 539.69,487.64 Z" fill="#c8cdfa" fill-opacity="0.60" stroke="none"/>
<path d="M539.69,488.79C540.34,489.17 542.17,491.84 543.58,491.08C544.99,490.32 546.63,486.50 548.16,484.21C549.69,481.92 551.21,479.44 552.74,477.34C554.27,475.24 555.79,473.14 557.32,471.62C558.84,470.09 560.37,468.94 561.90,468.18C563.42,467.42 564.95,467.23 566.48,467.04C568.00,466.84 569.53,466.46 571.06,467.04C572.58,467.61 574.30,469.04 575.64,470.47C576.97,471.90 577.93,473.05 579.07,475.62C580.22,478.20 581.36,482.78 582.51,485.93C583.65,489.08 584.80,491.84 585.94,494.51C587.09,497.18 588.23,499.86 589.38,501.96C590.52,504.05 591.67,505.77 592.81,507.11C593.96,508.44 595.10,510.06 596.25,509.97C597.39,509.87 598.72,508.45 599.68,506.53C600.64,504.62 601.04,501.17 602.00,498.50C602.96,495.82 604.10,492.87 605.43,490.49C606.77,488.10 608.48,486.48 610.01,484.19C611.54,481.90 613.25,479.52 614.59,476.75C615.92,473.99 616.88,469.98 618.02,467.60C619.17,465.21 620.31,462.54 621.45,462.45C622.60,462.35 623.74,464.36 624.89,467.03C626.03,469.70 627.18,475.32 628.32,478.47C629.46,481.62 630.61,484.00 631.75,485.91C632.90,487.82 633.85,488.86 635.19,489.91C636.52,490.96 638.24,491.82 639.76,492.20C641.29,492.58 642.82,492.49 644.34,492.20C645.87,491.92 647.58,491.15 648.92,490.49C650.25,489.82 651.21,489.34 652.35,488.20C653.50,487.05 654.64,485.34 655.79,483.62C656.93,481.90 658.07,479.33 659.22,477.90C660.36,476.47 661.43,475.23 662.65,475.04C663.87,474.85 665.89,476.47 666.54,476.75" fill="none" stroke="#eb9a96" stroke-width="1.50"/>
<path d="M539.69,492.22C540.34,492.61 542.17,494.90 543.58,494.51C544.99,494.13 546.63,490.70 548.16,489.93C549.69,489.17 551.21,489.93 552.74,489.93C554.27,489.93 555.79,489.93 557.32,489.93C558.84,489.93 560.37,490.12 561.90,489.93C563.42,489.74 564.95,488.98 566.48,488.79C568.00,488.60 569.53,488.60 571.06,488.79C572.58,488.98 574.30,489.46 575.64,489.93C576.97,490.41 577.93,490.41 579.07,491.65C580.22,492.89 581.36,495.18 582.51,497.38C583.65,499.57 584.80,502.15 585.94,504.82C587.09,507.49 588.23,510.92 589.38,513.40C590.52,515.88 591.67,517.98 592.81,519.70C593.96,521.42 595.10,523.61 596.25,523.71C597.39,523.80 598.72,521.81 599.68,520.27C600.64,518.74 601.04,517.19 602.00,514.52C602.96,511.84 604.10,507.17 605.43,504.22C606.77,501.26 608.48,499.07 610.01,496.78C611.54,494.49 613.25,492.30 614.59,490.49C615.92,488.67 616.88,486.96 618.02,485.91C619.17,484.86 620.31,484.10 621.45,484.19C622.60,484.29 623.74,484.95 624.89,486.48C626.03,488.01 627.18,491.15 628.32,493.35C629.46,495.54 630.61,497.73 631.75,499.64C632.90,501.55 633.85,503.36 635.19,504.79C636.52,506.22 638.24,507.65 639.76,508.22C641.29,508.80 642.82,508.70 644.34,508.22C645.87,507.75 647.58,506.60 648.92,505.36C650.25,504.12 651.21,502.50 652.35,500.79C653.50,499.07 654.64,496.59 655.79,495.06C656.93,493.54 658.07,492.30 659.22,491.63C660.36,490.96 661.43,490.87 662.65,491.06C663.87,491.25 665.89,492.49 666.54,492.77" fill="none" stroke="#eb9a96" stroke-width="1.50"/>
<path d="M539.69,484.21C540.34,484.44 542.17,484.82 543.58,485.58C544.99,486.35 546.63,488.16 548.16,488.79C549.69,489.42 551.21,489.17 552.74,489.36C554.27,489.55 555.79,489.84 557.32,489.93C558.84,490.03 560.37,489.88 561.90,489.93C563.42,489.99 564.95,490.32 566.48,490.28C568.00,490.24 569.53,489.99 571.06,489.70C572.58,489.42 574.11,489.19 575.64,488.56C577.16,487.93 578.88,487.32 580.22,485.93C581.55,484.53 582.32,481.82 583.65,480.20C584.99,478.58 586.90,477.34 588.23,476.19C589.57,475.05 590.52,474.19 591.67,473.33C592.81,472.47 593.96,471.04 595.10,471.04C596.25,471.04 597.38,472.19 598.53,473.33C599.68,474.48 600.85,476.37 602.00,477.90C603.15,479.42 604.10,480.95 605.43,482.48C606.77,484.00 608.48,486.10 610.01,487.05C611.54,488.01 613.06,487.62 614.59,488.20C616.11,488.77 617.83,489.91 619.17,490.49C620.50,491.06 621.26,492.30 622.60,491.63C623.93,490.96 625.65,488.48 627.18,486.48C628.70,484.48 630.23,481.43 631.75,479.61C633.28,477.80 634.81,476.28 636.33,475.61C637.86,474.94 639.38,475.42 640.91,475.61C642.43,475.80 643.96,475.99 645.49,476.75C647.01,477.52 648.54,478.76 650.06,480.19C651.59,481.62 653.12,483.81 654.64,485.34C656.17,486.86 657.69,488.58 659.22,489.34C660.74,490.10 662.58,489.82 663.80,489.91C665.02,490.01 666.08,489.91 666.54,489.91" fill="none" stroke="#8c8fcc" stroke-width="1.50"/>
<path d="M539.69,487.64C540.34,487.99 542.17,488.75 543.58,489.70C544.99,490.66 546.63,492.47 548.16,493.37C549.69,494.27 551.21,494.70 552.74,495.09C554.27,495.47 555.79,495.56 557.32,495.66C558.84,495.75 560.37,495.72 561.90,495.66C563.42,495.60 564.95,495.47 566.48,495.31C568.00,495.16 569.53,495.03 571.06,494.74C572.58,494.46 574.11,494.11 575.64,493.60C577.16,493.08 578.88,492.74 580.22,491.65C581.55,490.56 582.32,488.50 583.65,487.07C584.99,485.64 586.90,484.21 588.23,483.06C589.57,481.92 590.52,481.06 591.67,480.20C592.81,479.34 593.96,477.91 595.10,477.91C596.25,477.91 597.38,479.06 598.53,480.20C599.68,481.34 600.85,483.24 602.00,484.76C603.15,486.29 604.10,487.82 605.43,489.34C606.77,490.87 608.48,492.77 610.01,493.92C611.54,495.06 613.06,495.25 614.59,496.21C616.11,497.16 617.83,498.88 619.17,499.64C620.50,500.40 621.26,501.45 622.60,500.79C623.93,500.12 625.65,497.64 627.18,495.64C628.70,493.63 630.23,490.58 631.75,488.77C633.28,486.96 634.81,485.43 636.33,484.76C637.86,484.10 639.38,484.57 640.91,484.76C642.43,484.95 643.96,485.34 645.49,485.91C647.01,486.48 648.54,486.96 650.06,488.20C651.59,489.44 653.12,491.82 654.64,493.35C656.17,494.87 657.69,496.59 659.22,497.35C660.74,498.12 662.58,497.83 663.80,497.92C665.02,498.02 666.08,497.92 666.54,497.92" fill="none" stroke="#8c8fcc" stroke-width="1.50"/>
<path d="M539.69,490.51C540.34,490.89 542.17,493.37 543.58,492.80C544.99,492.22 546.63,488.60 548.16,487.07C549.69,485.55 551.21,484.69 552.74,483.64C554.27,482.59 555.79,481.54 557.32,480.77C558.84,480.01 560.37,479.53 561.90,479.06C563.42,478.58 564.95,478.10 566.48,477.91C568.00,477.72 569.53,477.53 571.06,477.91C572.58,478.29 574.30,479.25 575.64,480.20C576.97,481.16 577.93,481.73 579.07,483.64C580.22,485.55 581.36,488.98 582.51,491.65C583.65,494.32 584.80,496.99 585.94,499.67C587.09,502.34 588.23,505.39 589.38,507.68C590.52,509.97 591.67,511.88 592.81,513.40C593.96,514.93 595.10,516.84 596.25,516.84C597.39,516.84 598.72,515.13 599.68,513.40C600.64,511.68 601.04,509.18 602.00,506.51C602.96,503.83 604.10,500.02 605.43,497.35C606.77,494.68 608.48,492.77 610.01,490.49C611.54,488.20 613.25,485.91 614.59,483.62C615.92,481.33 616.88,478.47 618.02,476.75C619.17,475.04 620.31,473.32 621.45,473.32C622.60,473.32 623.74,474.66 624.89,476.75C626.03,478.85 627.18,483.24 628.32,485.91C629.46,488.58 630.61,490.87 631.75,492.77C632.90,494.68 633.85,496.11 635.19,497.35C636.52,498.59 638.24,499.74 639.76,500.21C641.29,500.69 642.82,500.59 644.34,500.21C645.87,499.83 647.58,498.88 648.92,497.92C650.25,496.97 651.21,495.92 652.35,494.49C653.50,493.06 654.64,490.96 655.79,489.34C656.93,487.72 658.07,485.81 659.22,484.76C660.36,483.72 661.43,483.05 662.65,483.05C663.87,483.05 665.89,484.48 666.54,484.76" fill="none" stroke="#d03a2c" stroke-width="1.90" stroke-linejoin="round"/>
<path d="M539.69,485.93C540.34,486.21 542.17,486.79 543.58,487.64C544.99,488.50 546.63,490.32 548.16,491.08C549.69,491.84 551.21,491.94 552.74,492.22C554.27,492.51 555.79,492.70 557.32,492.80C558.84,492.89 560.37,492.80 561.90,492.80C563.42,492.80 564.95,492.89 566.48,492.80C568.00,492.70 569.53,492.51 571.06,492.22C572.58,491.94 574.11,491.65 575.64,491.08C577.16,490.51 578.88,490.03 580.22,488.79C581.55,487.55 582.32,485.16 583.65,483.64C584.99,482.11 586.90,480.77 588.23,479.63C589.57,478.48 590.52,477.63 591.67,476.77C592.81,475.91 593.96,474.48 595.10,474.48C596.25,474.48 597.38,475.63 598.53,476.77C599.68,477.91 600.85,479.81 602.00,481.33C603.15,482.85 604.10,484.38 605.43,485.91C606.77,487.43 608.48,489.44 610.01,490.49C611.54,491.53 613.06,491.44 614.59,492.20C616.11,492.97 617.83,494.40 619.17,495.06C620.50,495.73 621.26,496.88 622.60,496.21C623.93,495.54 625.65,493.06 627.18,491.06C628.70,489.06 630.23,486.00 631.75,484.19C633.28,482.38 634.81,480.85 636.33,480.19C637.86,479.52 639.38,480.00 640.91,480.19C642.43,480.38 643.96,480.66 645.49,481.33C647.01,482.00 648.54,482.86 650.06,484.19C651.59,485.53 653.12,487.82 654.64,489.34C656.17,490.87 657.69,492.58 659.22,493.35C660.74,494.11 662.58,493.82 663.80,493.92C665.02,494.01 666.08,493.92 666.54,493.92" fill="none" stroke="#4450a8" stroke-width="1.90" stroke-linejoin="round"/>
</g>
<path d="M550.63,530.30v-1.6M550.63,447.70v1.6M605.76,530.30v-1.6M605.76,447.70v1.6M660.89,530.30v-1.6M660.89,447.70v1.6M539.60,530.30h1.6M666.40,530.30h-1.6M539.60,509.65h1.6M666.40,509.65h-1.6M539.60,489.00h1.6M666.40,489.00h-1.6M539.60,468.35h1.6M666.40,468.35h-1.6M539.60,447.70h1.6M666.40,447.70h-1.6" stroke="#000" stroke-width="1" fill="none"/>
<rect x="539.60" y="447.70" width="126.80" height="82.60" fill="none" stroke="#000" stroke-width="1.35"/>
<text x="550.63" y="549.60" font-size="17.5" text-anchor="middle" fill="#111">0</text>
<text x="605.76" y="549.60" font-size="17.5" text-anchor="middle" fill="#111">10</text>
<text x="660.89" y="549.60" font-size="17.5" text-anchor="middle" fill="#111">20</text>
<text x="603.00" y="435.40" font-size="17.6" text-anchor="middle" fill="#111">channel 8-R</text>
<clipPath id="clip30"><rect x="62.20" y="594.70" width="126.80" height="82.60"/></clipPath>
<rect x="89.77" y="597.30" width="27.57" height="77.10" fill="#e5e5e5"/>
<g clip-path="url(#clip30)">
<path d="M62.69,632.13C63.34,632.70 65.17,634.66 66.58,635.56C67.99,636.46 69.82,637.28 71.16,637.51C72.49,637.74 73.45,637.98 74.59,636.93C75.74,635.88 76.69,632.93 78.03,631.21C79.36,629.49 81.08,628.16 82.61,626.63C84.13,625.10 85.66,623.67 87.19,622.05C88.71,620.43 90.43,618.62 91.77,616.90C93.10,615.18 94.25,613.08 95.20,611.75C96.16,610.41 96.54,608.79 97.49,608.88C98.45,608.98 99.59,610.79 100.93,612.32C102.26,613.84 104.17,616.99 105.51,618.04C106.84,619.09 107.80,618.52 108.94,618.62C110.09,618.71 111.23,618.14 112.38,618.62C113.52,619.09 114.67,620.52 115.81,621.48C116.96,622.43 118.10,624.53 119.25,624.34C120.39,624.15 121.72,621.57 122.68,620.33C123.64,619.09 123.85,617.75 125.00,616.89C126.15,616.03 128.05,615.46 129.58,615.17C131.10,614.88 132.44,615.08 134.15,615.17C135.87,615.27 138.16,614.88 139.88,615.74C141.59,616.60 142.93,618.41 144.45,620.32C145.98,622.23 147.51,625.66 149.03,627.19C150.56,628.71 152.08,629.28 153.61,629.48C155.13,629.67 156.85,628.43 158.19,628.33C159.52,628.24 160.28,628.52 161.62,628.90C162.95,629.28 164.67,630.72 166.20,630.62C167.72,630.52 169.25,629.19 170.77,628.33C172.30,627.47 173.83,626.33 175.35,625.47C176.88,624.61 178.40,624.04 179.93,623.18C181.46,622.32 183.00,621.37 184.51,620.32C186.01,619.27 188.23,617.46 188.97,616.89 L188.97,629.48C188.23,629.86 186.01,631.10 184.51,631.76C183.00,632.43 181.46,633.00 179.93,633.48C178.40,633.96 176.88,634.15 175.35,634.62C173.83,635.10 172.30,635.86 170.77,636.34C169.25,636.82 167.72,637.58 166.20,637.49C164.67,637.39 162.95,636.15 161.62,635.77C160.28,635.39 159.52,635.10 158.19,635.20C156.85,635.29 155.13,636.34 153.61,636.34C152.08,636.34 150.56,636.15 149.03,635.20C147.51,634.24 145.98,631.95 144.45,630.62C142.93,629.28 141.59,627.66 139.88,627.19C138.16,626.71 135.87,627.66 134.15,627.76C132.44,627.85 131.10,627.47 129.58,627.76C128.05,628.04 126.15,628.61 125.00,629.48C123.85,630.34 123.64,631.87 122.68,632.93C121.72,633.98 120.39,635.79 119.25,635.79C118.10,635.79 116.96,633.88 115.81,632.93C114.67,631.97 113.52,630.54 112.38,630.06C111.23,629.59 110.09,630.16 108.94,630.06C107.80,629.97 106.84,630.54 105.51,629.49C104.17,628.44 102.26,625.29 100.93,623.77C99.59,622.24 98.45,620.62 97.49,620.33C96.54,620.05 96.16,621.10 95.20,622.05C94.25,623.00 93.10,624.72 91.77,626.06C90.43,627.39 88.71,628.82 87.19,630.06C85.66,631.30 84.13,632.55 82.61,633.50C81.08,634.45 79.36,634.64 78.03,635.79C76.69,636.93 75.74,639.51 74.59,640.37C73.45,641.23 72.49,641.28 71.16,640.94C69.82,640.60 67.99,639.32 66.58,638.31C65.17,637.30 63.34,635.45 62.69,634.87 Z" fill="#fbcfbe" fill-opacity="0.60" stroke="none"/>
<path d="M62.69,634.99C63.53,634.70 65.93,633.46 67.72,633.27C69.52,633.08 71.54,633.33 73.45,633.84C75.36,634.36 77.27,635.33 79.17,636.36C81.08,637.39 82.99,638.88 84.90,640.03C86.81,641.17 88.52,642.22 90.62,643.23C92.72,644.24 95.58,646.00 97.49,646.09C99.40,646.19 100.35,644.60 102.07,643.80C103.79,643.00 105.89,641.99 107.80,641.28C109.70,640.58 111.61,640.23 113.52,639.57C115.43,638.90 117.62,637.33 119.25,637.28C120.87,637.22 122.29,638.81 123.25,639.22C124.21,639.64 123.95,639.49 125.00,639.77C126.05,640.06 128.05,640.82 129.58,640.92C131.10,641.01 132.63,640.59 134.15,640.35C135.68,640.10 137.21,639.91 138.73,639.43C140.26,638.95 141.78,638.13 143.31,637.49C144.84,636.84 146.36,635.96 147.89,635.54C149.41,635.12 150.94,634.78 152.46,634.97C153.99,635.16 155.52,636.36 157.04,636.68C158.57,637.01 160.09,637.26 161.62,636.91C163.15,636.57 164.67,635.01 166.20,634.62C167.72,634.24 169.25,634.43 170.77,634.62C172.30,634.82 173.83,635.29 175.35,635.77C176.88,636.25 178.40,636.91 179.93,637.49C181.46,638.06 183.00,638.88 184.51,639.20C186.01,639.53 188.23,639.39 188.97,639.43 L188.97,645.84C188.23,645.69 186.01,645.36 184.51,644.92C183.00,644.49 181.46,643.78 179.93,643.21C178.40,642.64 176.88,641.97 175.35,641.49C173.83,641.01 172.30,640.54 170.77,640.35C169.25,640.16 167.72,639.97 166.20,640.35C164.67,640.73 163.15,642.41 161.62,642.64C160.09,642.86 158.57,642.16 157.04,641.72C155.52,641.28 153.99,640.19 152.46,640.00C150.94,639.81 149.41,640.04 147.89,640.58C146.36,641.11 144.84,642.33 143.31,643.21C141.78,644.09 140.26,645.17 138.73,645.84C137.21,646.51 135.68,646.89 134.15,647.21C132.63,647.54 131.10,647.88 129.58,647.79C128.05,647.69 126.05,647.11 125.00,646.64C123.95,646.17 124.21,645.67 123.25,644.95C122.29,644.23 120.87,642.37 119.25,642.31C117.62,642.26 115.43,643.94 113.52,644.60C111.61,645.27 109.70,645.50 107.80,646.32C105.89,647.14 103.79,648.61 102.07,649.53C100.35,650.44 99.40,652.10 97.49,651.82C95.58,651.53 92.72,649.09 90.62,647.81C88.52,646.53 86.81,645.48 84.90,644.15C82.99,642.81 81.08,641.06 79.17,639.80C77.27,638.54 75.36,637.22 73.45,636.59C71.54,635.96 69.52,635.90 67.72,636.02C65.93,636.13 63.53,637.07 62.69,637.28 Z" fill="#c8cdfa" fill-opacity="0.60" stroke="none"/>
<path d="M62.69,632.13C63.34,632.70 65.17,634.66 66.58,635.56C67.99,636.46 69.82,637.28 71.16,637.51C72.49,637.74 73.45,637.98 74.59,636.93C75.74,635.88 76.69,632.93 78.03,631.21C79.36,629.49 81.08,628.16 82.61,626.63C84.13,625.10 85.66,623.67 87.19,622.05C88.71,620.43 90.43,618.62 91.77,616.90C93.10,615.18 94.25,613.08 95.20,611.75C96.16,610.41 96.54,608.79 97.49,608.88C98.45,608.98 99.59,610.79 100.93,612.32C102.26,613.84 104.17,616.99 105.51,618.04C106.84,619.09 107.80,618.52 108.94,618.62C110.09,618.71 111.23,618.14 112.38,618.62C113.52,619.09 114.67,620.52 115.81,621.48C116.96,622.43 118.10,624.53 119.25,624.34C120.39,624.15 121.72,621.57 122.68,620.33C123.64,619.09 123.85,617.75 125.00,616.89C126.15,616.03 128.05,615.46 129.58,615.17C131.10,614.88 132.44,615.08 134.15,615.17C135.87,615.27 138.16,614.88 139.88,615.74C141.59,616.60 142.93,618.41 144.45,620.32C145.98,622.23 147.51,625.66 149.03,627.19C150.56,628.71 152.08,629.28 153.61,629.48C155.13,629.67 156.85,628.43 158.19,628.33C159.52,628.24 160.28,628.52 161.62,628.90C162.95,629.28 164.67,630.72 166.20,630.62C167.72,630.52 169.25,629.19 170.77,628.33C172.30,627.47 173.83,626.33 175.35,625.47C176.88,624.61 178.40,624.04 179.93,623.18C181.46,622.32 183.00,621.37 184.51,620.32C186.01,619.27 188.23,617.46 188.97,616.89" fill="none" stroke="#eb9a96" stroke-width="1.50"/>
<path d="M62.69,634.87C63.34,635.45 65.17,637.30 66.58,638.31C67.99,639.32 69.82,640.60 71.16,640.94C72.49,641.28 73.45,641.23 74.59,640.37C75.74,639.51 76.69,636.93 78.03,635.79C79.36,634.64 81.08,634.45 82.61,633.50C84.13,632.55 85.66,631.30 87.19,630.06C88.71,628.82 90.43,627.39 91.77,626.06C93.10,624.72 94.25,623.00 95.20,622.05C96.16,621.10 96.54,620.05 97.49,620.33C98.45,620.62 99.59,622.24 100.93,623.77C102.26,625.29 104.17,628.44 105.51,629.49C106.84,630.54 107.80,629.97 108.94,630.06C110.09,630.16 111.23,629.59 112.38,630.06C113.52,630.54 114.67,631.97 115.81,632.93C116.96,633.88 118.10,635.79 119.25,635.79C120.39,635.79 121.72,633.98 122.68,632.93C123.64,631.87 123.85,630.34 125.00,629.48C126.15,628.61 128.05,628.04 129.58,627.76C131.10,627.47 132.44,627.85 134.15,627.76C135.87,627.66 138.16,626.71 139.88,627.19C141.59,627.66 142.93,629.28 144.45,630.62C145.98,631.95 147.51,634.24 149.03,635.20C150.56,636.15 152.08,636.34 153.61,636.34C155.13,636.34 156.85,635.29 158.19,635.20C159.52,635.10 160.28,635.39 161.62,635.77C162.95,636.15 164.67,637.39 166.20,637.49C167.72,637.58 169.25,636.82 170.77,636.34C172.30,635.86 173.83,635.10 175.35,634.62C176.88,634.15 178.40,633.96 179.93,633.48C181.46,633.00 183.00,632.43 184.51,631.76C186.01,631.10 188.23,629.86 188.97,629.48" fill="none" stroke="#eb9a96" stroke-width="1.50"/>
<path d="M62.69,634.99C63.53,634.70 65.93,633.46 67.72,633.27C69.52,633.08 71.54,633.33 73.45,633.84C75.36,634.36 77.27,635.33 79.17,636.36C81.08,637.39 82.99,638.88 84.90,640.03C86.81,641.17 88.52,642.22 90.62,643.23C92.72,644.24 95.58,646.00 97.49,646.09C99.40,646.19 100.35,644.60 102.07,643.80C103.79,643.00 105.89,641.99 107.80,641.28C109.70,640.58 111.61,640.23 113.52,639.57C115.43,638.90 117.62,637.33 119.25,637.28C120.87,637.22 122.29,638.81 123.25,639.22C124.21,639.64 123.95,639.49 125.00,639.77C126.05,640.06 128.05,640.82 129.58,640.92C131.10,641.01 132.63,640.59 134.15,640.35C135.68,640.10 137.21,639.91 138.73,639.43C140.26,638.95 141.78,638.13 143.31,637.49C144.84,636.84 146.36,635.96 147.89,635.54C149.41,635.12 150.94,634.78 152.46,634.97C153.99,635.16 155.52,636.36 157.04,636.68C158.57,637.01 160.09,637.26 161.62,636.91C163.15,636.57 164.67,635.01 166.20,634.62C167.72,634.24 169.25,634.43 170.77,634.62C172.30,634.82 173.83,635.29 175.35,635.77C176.88,636.25 178.40,636.91 179.93,637.49C181.46,638.06 183.00,638.88 184.51,639.20C186.01,639.53 188.23,639.39 188.97,639.43" fill="none" stroke="#8c8fcc" stroke-width="1.50"/>
<path d="M62.69,637.28C63.53,637.07 65.93,636.13 67.72,636.02C69.52,635.90 71.54,635.96 73.45,636.59C75.36,637.22 77.27,638.54 79.17,639.80C81.08,641.06 82.99,642.81 84.90,644.15C86.81,645.48 88.52,646.53 90.62,647.81C92.72,649.09 95.58,651.53 97.49,651.82C99.40,652.10 100.35,650.44 102.07,649.53C103.79,648.61 105.89,647.14 107.80,646.32C109.70,645.50 111.61,645.27 113.52,644.60C115.43,643.94 117.62,642.26 119.25,642.31C120.87,642.37 122.29,644.23 123.25,644.95C124.21,645.67 123.95,646.17 125.00,646.64C126.05,647.11 128.05,647.69 129.58,647.79C131.10,647.88 132.63,647.54 134.15,647.21C135.68,646.89 137.21,646.51 138.73,645.84C140.26,645.17 141.78,644.09 143.31,643.21C144.84,642.33 146.36,641.11 147.89,640.58C149.41,640.04 150.94,639.81 152.46,640.00C153.99,640.19 155.52,641.28 157.04,641.72C158.57,642.16 160.09,642.86 161.62,642.64C163.15,642.41 164.67,640.73 166.20,640.35C167.72,639.97 169.25,640.16 170.77,640.35C172.30,640.54 173.83,641.01 175.35,641.49C176.88,641.97 178.40,642.64 179.93,643.21C181.46,643.78 183.00,644.49 184.51,644.92C186.01,645.36 188.23,645.69 188.97,645.84" fill="none" stroke="#8c8fcc" stroke-width="1.50"/>
<path d="M62.69,633.50C63.34,634.07 65.17,635.98 66.58,636.93C67.99,637.89 69.82,638.94 71.16,639.22C72.49,639.51 73.45,639.61 74.59,638.65C75.74,637.70 76.69,634.93 78.03,633.50C79.36,632.07 81.08,631.30 82.61,630.06C84.13,628.82 85.66,627.49 87.19,626.06C88.71,624.63 90.43,623.00 91.77,621.48C93.10,619.95 94.25,618.04 95.20,616.90C96.16,615.75 96.54,614.42 97.49,614.61C98.45,614.80 99.59,616.52 100.93,618.04C102.26,619.57 104.17,622.72 105.51,623.77C106.84,624.82 107.80,624.24 108.94,624.34C110.09,624.44 111.23,623.86 112.38,624.34C113.52,624.82 114.67,626.25 115.81,627.20C116.96,628.16 118.10,630.16 119.25,630.06C120.39,629.97 121.72,627.78 122.68,626.63C123.64,625.48 123.85,624.04 125.00,623.18C126.15,622.32 128.05,621.75 129.58,621.46C131.10,621.18 132.44,621.46 134.15,621.46C135.87,621.46 138.16,620.80 139.88,621.46C141.59,622.13 142.93,623.85 144.45,625.47C145.98,627.09 147.51,629.95 149.03,631.19C150.56,632.43 152.08,632.81 153.61,632.91C155.13,633.00 156.85,631.86 158.19,631.76C159.52,631.67 160.28,631.95 161.62,632.34C162.95,632.72 164.67,634.05 166.20,634.05C167.72,634.05 169.25,633.00 170.77,632.34C172.30,631.67 173.83,630.72 175.35,630.05C176.88,629.38 178.40,629.00 179.93,628.33C181.46,627.66 183.00,626.90 184.51,626.04C186.01,625.18 188.23,623.66 188.97,623.18" fill="none" stroke="#d03a2c" stroke-width="1.90" stroke-linejoin="round"/>
<path d="M62.69,636.13C63.53,635.88 65.93,634.80 67.72,634.64C69.52,634.49 71.54,634.64 73.45,635.22C75.36,635.79 77.27,636.93 79.17,638.08C81.08,639.22 82.99,640.85 84.90,642.09C86.81,643.33 88.52,644.38 90.62,645.52C92.72,646.67 95.58,648.76 97.49,648.96C99.40,649.15 100.35,647.52 102.07,646.67C103.79,645.81 105.89,644.57 107.80,643.80C109.70,643.04 111.61,642.75 113.52,642.09C115.43,641.42 117.62,639.80 119.25,639.80C120.87,639.80 122.29,641.52 123.25,642.09C124.21,642.65 123.95,642.83 125.00,643.21C126.05,643.59 128.05,644.26 129.58,644.35C131.10,644.45 132.63,644.07 134.15,643.78C135.68,643.49 137.21,643.21 138.73,642.64C140.26,642.06 141.78,641.11 143.31,640.35C144.84,639.58 146.36,638.53 147.89,638.06C149.41,637.58 150.94,637.30 152.46,637.49C153.99,637.68 155.52,638.82 157.04,639.20C158.57,639.58 160.09,640.06 161.62,639.77C163.15,639.49 164.67,637.87 166.20,637.49C167.72,637.10 169.25,637.30 170.77,637.49C172.30,637.68 173.83,638.15 175.35,638.63C176.88,639.11 178.40,639.77 179.93,640.35C181.46,640.92 183.00,641.68 184.51,642.06C186.01,642.44 188.23,642.54 188.97,642.64" fill="none" stroke="#4450a8" stroke-width="1.90" stroke-linejoin="round"/>
</g>
<path d="M73.23,677.30v-1.6M73.23,594.70v1.6M128.36,677.30v-1.6M128.36,594.70v1.6M183.49,677.30v-1.6M183.49,594.70v1.6M62.20,677.30h1.6M189.00,677.30h-1.6M62.20,656.65h1.6M189.00,656.65h-1.6M62.20,636.00h1.6M189.00,636.00h-1.6M62.20,615.35h1.6M189.00,615.35h-1.6M62.20,594.70h1.6M189.00,594.70h-1.6" stroke="#000" stroke-width="1" fill="none"/>
<rect x="62.20" y="594.70" width="126.80" height="82.60" fill="none" stroke="#000" stroke-width="1.35"/>
<text x="73.23" y="696.60" font-size="17.5" text-anchor="middle" fill="#111">0</text>
<text x="128.36" y="696.60" font-size="17.5" text-anchor="middle" fill="#111">10</text>
<text x="183.49" y="696.60" font-size="17.5" text-anchor="middle" fill="#111">20</text>
<text x="54.60" y="600.70" font-size="17.5" text-anchor="end" fill="#111">0.4</text>
<text x="54.60" y="621.35" font-size="17.5" text-anchor="end" fill="#111">0.2</text>
<text x="54.60" y="642.00" font-size="17.5" text-anchor="end" fill="#111">0</text>
<text x="54.60" y="662.65" font-size="17.5" text-anchor="end" fill="#111">-0.2</text>
<text x="54.60" y="683.30" font-size="17.5" text-anchor="end" fill="#111">-0.4</text>
<text x="125.60" y="582.40" font-size="17.6" text-anchor="middle" fill="#111">channel 9-L</text>
<text x="125.60" y="718.10" font-size="17.5" text-anchor="middle" fill="#111">time (s)</text>
<text transform="translate(17.3,636.00) rotate(-90)" font-size="17.6" text-anchor="middle" fill="#111">dConc (<tspan font-style="italic">&#956;</tspan>M)</text>
<clipPath id="clip31"><rect x="200.80" y="594.70" width="126.80" height="82.60"/></clipPath>
<rect x="228.37" y="597.30" width="27.57" height="77.10" fill="#e5e5e5"/>
<g clip-path="url(#clip31)">
<path d="M200.92,635.45C201.91,635.37 205.11,635.50 206.87,634.99C208.62,634.47 209.73,633.46 211.45,632.35C213.17,631.25 215.27,629.49 217.17,628.35C219.08,627.20 221.18,625.77 222.90,625.48C224.62,625.20 225.95,626.82 227.48,626.63C229.00,626.44 230.53,625.29 232.06,624.34C233.58,623.39 235.11,621.82 236.64,620.91C238.16,619.99 239.69,618.94 241.22,618.84C242.74,618.75 244.27,619.51 245.80,620.33C247.32,621.15 248.85,622.43 250.38,623.77C251.90,625.10 253.43,627.30 254.96,628.35C256.48,629.40 258.19,629.69 259.53,630.06C260.88,630.44 261.66,630.81 263.00,630.62C264.34,630.43 266.05,629.53 267.58,628.90C269.10,628.27 270.25,627.61 272.15,626.84C274.06,626.08 277.11,624.27 279.02,624.33C280.93,624.38 282.26,625.91 283.60,627.19C284.93,628.46 285.70,630.91 287.03,631.99C288.37,633.08 290.08,633.18 291.61,633.71C293.13,634.24 294.66,634.76 296.19,635.20C297.71,635.64 299.24,636.25 300.76,636.34C302.29,636.44 303.82,635.96 305.34,635.77C306.87,635.58 308.39,635.35 309.92,635.20C311.44,635.04 312.97,635.20 314.50,634.85C316.02,634.51 317.74,634.13 319.07,633.14C320.41,632.15 321.10,629.99 322.51,628.90C323.92,627.82 326.70,627.00 327.54,626.61 L327.54,634.62C326.70,634.82 323.92,634.95 322.51,635.77C321.10,636.59 320.41,638.63 319.07,639.55C317.74,640.46 316.02,640.84 314.50,641.26C312.97,641.68 311.44,641.83 309.92,642.06C308.39,642.29 306.87,642.44 305.34,642.64C303.82,642.83 302.29,643.30 300.76,643.21C299.24,643.11 297.71,642.58 296.19,642.06C294.66,641.55 293.13,640.73 291.61,640.12C290.08,639.51 288.37,639.41 287.03,638.40C285.70,637.39 284.93,635.25 283.60,634.05C282.26,632.85 280.93,631.33 279.02,631.19C277.11,631.06 274.06,632.68 272.15,633.25C270.25,633.82 269.10,634.11 267.58,634.62C266.05,635.14 264.34,636.15 263.00,636.34C261.66,636.54 260.88,635.98 259.53,635.79C258.19,635.60 256.48,635.69 254.96,635.22C253.43,634.74 251.90,633.69 250.38,632.93C248.85,632.16 247.32,631.27 245.80,630.64C244.27,630.01 242.74,629.24 241.22,629.15C239.69,629.05 238.16,629.53 236.64,630.06C235.11,630.60 233.58,631.78 232.06,632.35C230.53,632.93 229.00,633.50 227.48,633.50C225.95,633.50 224.62,632.26 222.90,632.35C221.18,632.45 219.08,633.50 217.17,634.07C215.27,634.64 213.17,635.25 211.45,635.79C209.73,636.32 208.62,637.03 206.87,637.28C205.11,637.53 201.91,637.28 200.92,637.28 Z" fill="#fbcfbe" fill-opacity="0.60" stroke="none"/>
<path d="M200.92,635.45C201.91,635.41 205.11,635.20 206.87,635.22C208.62,635.24 209.73,635.24 211.45,635.56C213.17,635.88 215.27,636.78 217.17,637.16C219.08,637.54 221.18,637.93 222.90,637.85C224.62,637.77 225.95,636.90 227.48,636.70C229.00,636.51 230.53,636.34 232.06,636.70C233.58,637.07 235.11,638.36 236.64,638.88C238.16,639.40 239.69,639.64 241.22,639.80C242.74,639.95 244.27,639.99 245.80,639.80C247.32,639.61 248.85,639.13 250.38,638.65C251.90,638.17 253.43,637.45 254.96,636.93C256.48,636.42 258.19,635.89 259.53,635.56C260.88,635.23 261.66,634.93 263.00,634.97C264.34,635.00 266.05,635.45 267.58,635.77C269.10,636.09 270.63,636.53 272.15,636.91C273.68,637.30 275.21,638.02 276.73,638.06C278.26,638.10 279.78,637.87 281.31,637.14C282.84,636.42 284.36,634.66 285.89,633.71C287.41,632.76 288.94,632.03 290.46,631.42C291.99,630.81 293.52,630.47 295.04,630.05C296.57,629.63 298.09,629.00 299.62,628.90C301.15,628.81 302.67,629.28 304.20,629.48C305.72,629.67 307.25,629.86 308.77,630.05C310.30,630.24 311.83,630.43 313.35,630.62C314.88,630.81 316.40,630.52 317.93,631.19C319.46,631.86 320.90,633.77 322.51,634.62C324.11,635.48 326.70,636.06 327.54,636.34 L327.54,644.35C326.70,643.88 324.11,642.54 322.51,641.49C320.90,640.44 319.46,638.73 317.93,638.06C316.40,637.39 314.88,637.68 313.35,637.49C311.83,637.30 310.30,637.10 308.77,636.91C307.25,636.72 305.72,636.53 304.20,636.34C302.67,636.15 301.15,635.67 299.62,635.77C298.09,635.86 296.57,636.57 295.04,636.91C293.52,637.26 291.99,637.30 290.46,637.83C288.94,638.36 287.41,639.16 285.89,640.12C284.36,641.07 282.84,642.94 281.31,643.55C279.78,644.16 278.26,643.93 276.73,643.78C275.21,643.63 273.68,643.02 272.15,642.64C270.63,642.25 269.10,641.93 267.58,641.49C266.05,641.05 264.34,640.15 263.00,640.00C261.66,639.85 260.88,640.16 259.53,640.60C258.19,641.04 256.48,641.84 254.96,642.66C253.43,643.48 251.90,644.66 250.38,645.52C248.85,646.38 247.32,647.43 245.80,647.81C244.27,648.19 242.74,648.23 241.22,647.81C239.69,647.39 238.16,646.30 236.64,645.29C235.11,644.28 233.58,642.33 232.06,641.74C230.53,641.15 229.00,641.55 227.48,641.74C225.95,641.93 224.62,642.96 222.90,642.89C221.18,642.81 219.08,642.05 217.17,641.28C215.27,640.52 213.17,638.94 211.45,638.31C209.73,637.68 208.62,637.68 206.87,637.51C205.11,637.33 201.91,637.32 200.92,637.28 Z" fill="#c8cdfa" fill-opacity="0.60" stroke="none"/>
<path d="M200.92,635.45C201.91,635.37 205.11,635.50 206.87,634.99C208.62,634.47 209.73,633.46 211.45,632.35C213.17,631.25 215.27,629.49 217.17,628.35C219.08,627.20 221.18,625.77 222.90,625.48C224.62,625.20 225.95,626.82 227.48,626.63C229.00,626.44 230.53,625.29 232.06,624.34C233.58,623.39 235.11,621.82 236.64,620.91C238.16,619.99 239.69,618.94 241.22,618.84C242.74,618.75 244.27,619.51 245.80,620.33C247.32,621.15 248.85,622.43 250.38,623.77C251.90,625.10 253.43,627.30 254.96,628.35C256.48,629.40 258.19,629.69 259.53,630.06C260.88,630.44 261.66,630.81 263.00,630.62C264.34,630.43 266.05,629.53 267.58,628.90C269.10,628.27 270.25,627.61 272.15,626.84C274.06,626.08 277.11,624.27 279.02,624.33C280.93,624.38 282.26,625.91 283.60,627.19C284.93,628.46 285.70,630.91 287.03,631.99C288.37,633.08 290.08,633.18 291.61,633.71C293.13,634.24 294.66,634.76 296.19,635.20C297.71,635.64 299.24,636.25 300.76,636.34C302.29,636.44 303.82,635.96 305.34,635.77C306.87,635.58 308.39,635.35 309.92,635.20C311.44,635.04 312.97,635.20 314.50,634.85C316.02,634.51 317.74,634.13 319.07,633.14C320.41,632.15 321.10,629.99 322.51,628.90C323.92,627.82 326.70,627.00 327.54,626.61" fill="none" stroke="#eb9a96" stroke-width="1.50"/>
<path d="M200.92,637.28C201.91,637.28 205.11,637.53 206.87,637.28C208.62,637.03 209.73,636.32 211.45,635.79C213.17,635.25 215.27,634.64 217.17,634.07C219.08,633.50 221.18,632.45 222.90,632.35C224.62,632.26 225.95,633.50 227.48,633.50C229.00,633.50 230.53,632.93 232.06,632.35C233.58,631.78 235.11,630.60 236.64,630.06C238.16,629.53 239.69,629.05 241.22,629.15C242.74,629.24 244.27,630.01 245.80,630.64C247.32,631.27 248.85,632.16 250.38,632.93C251.90,633.69 253.43,634.74 254.96,635.22C256.48,635.69 258.19,635.60 259.53,635.79C260.88,635.98 261.66,636.54 263.00,636.34C264.34,636.15 266.05,635.14 267.58,634.62C269.10,634.11 270.25,633.82 272.15,633.25C274.06,632.68 277.11,631.06 279.02,631.19C280.93,631.33 282.26,632.85 283.60,634.05C284.93,635.25 285.70,637.39 287.03,638.40C288.37,639.41 290.08,639.51 291.61,640.12C293.13,640.73 294.66,641.55 296.19,642.06C297.71,642.58 299.24,643.11 300.76,643.21C302.29,643.30 303.82,642.83 305.34,642.64C306.87,642.44 308.39,642.29 309.92,642.06C311.44,641.83 312.97,641.68 314.50,641.26C316.02,640.84 317.74,640.46 319.07,639.55C320.41,638.63 321.10,636.59 322.51,635.77C323.92,634.95 326.70,634.82 327.54,634.62" fill="none" stroke="#eb9a96" stroke-width="1.50"/>
<path d="M200.92,635.45C201.91,635.41 205.11,635.20 206.87,635.22C208.62,635.24 209.73,635.24 211.45,635.56C213.17,635.88 215.27,636.78 217.17,637.16C219.08,637.54 221.18,637.93 222.90,637.85C224.62,637.77 225.95,636.90 227.48,636.70C229.00,636.51 230.53,636.34 232.06,636.70C233.58,637.07 235.11,638.36 236.64,638.88C238.16,639.40 239.69,639.64 241.22,639.80C242.74,639.95 244.27,639.99 245.80,639.80C247.32,639.61 248.85,639.13 250.38,638.65C251.90,638.17 253.43,637.45 254.96,636.93C256.48,636.42 258.19,635.89 259.53,635.56C260.88,635.23 261.66,634.93 263.00,634.97C264.34,635.00 266.05,635.45 267.58,635.77C269.10,636.09 270.63,636.53 272.15,636.91C273.68,637.30 275.21,638.02 276.73,638.06C278.26,638.10 279.78,637.87 281.31,637.14C282.84,636.42 284.36,634.66 285.89,633.71C287.41,632.76 288.94,632.03 290.46,631.42C291.99,630.81 293.52,630.47 295.04,630.05C296.57,629.63 298.09,629.00 299.62,628.90C301.15,628.81 302.67,629.28 304.20,629.48C305.72,629.67 307.25,629.86 308.77,630.05C310.30,630.24 311.83,630.43 313.35,630.62C314.88,630.81 316.40,630.52 317.93,631.19C319.46,631.86 320.90,633.77 322.51,634.62C324.11,635.48 326.70,636.06 327.54,636.34" fill="none" stroke="#8c8fcc" stroke-width="1.50"/>
<path d="M200.92,637.28C201.91,637.32 205.11,637.33 206.87,637.51C208.62,637.68 209.73,637.68 211.45,638.31C213.17,638.94 215.27,640.52 217.17,641.28C219.08,642.05 221.18,642.81 222.90,642.89C224.62,642.96 225.95,641.93 227.48,641.74C229.00,641.55 230.53,641.15 232.06,641.74C233.58,642.33 235.11,644.28 236.64,645.29C238.16,646.30 239.69,647.39 241.22,647.81C242.74,648.23 244.27,648.19 245.80,647.81C247.32,647.43 248.85,646.38 250.38,645.52C251.90,644.66 253.43,643.48 254.96,642.66C256.48,641.84 258.19,641.04 259.53,640.60C260.88,640.16 261.66,639.85 263.00,640.00C264.34,640.15 266.05,641.05 267.58,641.49C269.10,641.93 270.63,642.25 272.15,642.64C273.68,643.02 275.21,643.63 276.73,643.78C278.26,643.93 279.78,644.16 281.31,643.55C282.84,642.94 284.36,641.07 285.89,640.12C287.41,639.16 288.94,638.36 290.46,637.83C291.99,637.30 293.52,637.26 295.04,636.91C296.57,636.57 298.09,635.86 299.62,635.77C301.15,635.67 302.67,636.15 304.20,636.34C305.72,636.53 307.25,636.72 308.77,636.91C310.30,637.10 311.83,637.30 313.35,637.49C314.88,637.68 316.40,637.39 317.93,638.06C319.46,638.73 320.90,640.44 322.51,641.49C324.11,642.54 326.70,643.88 327.54,644.35" fill="none" stroke="#8c8fcc" stroke-width="1.50"/>
<path d="M200.92,636.36C201.91,636.32 205.11,636.51 206.87,636.13C208.62,635.75 209.73,634.89 211.45,634.07C213.17,633.25 215.27,632.07 217.17,631.21C219.08,630.35 221.18,629.11 222.90,628.92C224.62,628.73 225.95,630.16 227.48,630.06C229.00,629.97 230.53,629.11 232.06,628.35C233.58,627.58 235.11,626.21 236.64,625.48C238.16,624.76 239.69,624.00 241.22,624.00C242.74,624.00 244.27,624.76 245.80,625.48C247.32,626.21 248.85,627.30 250.38,628.35C251.90,629.40 253.43,631.02 254.96,631.78C256.48,632.55 258.19,632.64 259.53,632.93C260.88,633.21 261.66,633.67 263.00,633.48C264.34,633.29 266.05,632.34 267.58,631.76C269.10,631.19 270.25,630.72 272.15,630.05C274.06,629.38 277.11,627.66 279.02,627.76C280.93,627.85 282.26,629.38 283.60,630.62C284.93,631.86 285.70,634.15 287.03,635.20C288.37,636.25 290.08,636.34 291.61,636.91C293.13,637.49 294.66,638.15 296.19,638.63C297.71,639.11 299.24,639.68 300.76,639.77C302.29,639.87 303.82,639.39 305.34,639.20C306.87,639.01 308.39,638.82 309.92,638.63C311.44,638.44 312.97,638.44 314.50,638.06C316.02,637.68 317.74,637.30 319.07,636.34C320.41,635.39 321.10,633.29 322.51,632.34C323.92,631.38 326.70,630.91 327.54,630.62" fill="none" stroke="#d03a2c" stroke-width="1.90" stroke-linejoin="round"/>
<path d="M200.92,636.36C201.91,636.36 205.11,636.27 206.87,636.36C208.62,636.46 209.73,636.46 211.45,636.93C213.17,637.41 215.27,638.65 217.17,639.22C219.08,639.80 221.18,640.37 222.90,640.37C224.62,640.37 225.95,639.41 227.48,639.22C229.00,639.03 230.53,638.75 232.06,639.22C233.58,639.70 235.11,641.32 236.64,642.09C238.16,642.85 239.69,643.52 241.22,643.80C242.74,644.09 244.27,644.09 245.80,643.80C247.32,643.52 248.85,642.75 250.38,642.09C251.90,641.42 253.43,640.46 254.96,639.80C256.48,639.13 258.19,638.46 259.53,638.08C260.88,637.69 261.66,637.39 263.00,637.49C264.34,637.58 266.05,638.25 267.58,638.63C269.10,639.01 270.63,639.39 272.15,639.77C273.68,640.16 275.21,640.82 276.73,640.92C278.26,641.01 279.78,641.01 281.31,640.35C282.84,639.68 284.36,637.87 285.89,636.91C287.41,635.96 288.94,635.20 290.46,634.62C291.99,634.05 293.52,633.86 295.04,633.48C296.57,633.10 298.09,632.43 299.62,632.34C301.15,632.24 302.67,632.72 304.20,632.91C305.72,633.10 307.25,633.29 308.77,633.48C310.30,633.67 311.83,633.86 313.35,634.05C314.88,634.24 316.40,633.96 317.93,634.62C319.46,635.29 320.90,637.10 322.51,638.06C324.11,639.01 326.70,639.97 327.54,640.35" fill="none" stroke="#4450a8" stroke-width="1.90" stroke-linejoin="round"/>
</g>
<path d="M211.83,677.30v-1.6M211.83,594.70v1.6M266.96,677.30v-1.6M266.96,594.70v1.6M322.09,677.30v-1.6M322.09,594.70v1.6M200.80,677.30h1.6M327.60,677.30h-1.6M200.80,656.65h1.6M327.60,656.65h-1.6M200.80,636.00h1.6M327.60,636.00h-1.6M200.80,615.35h1.6M327.60,615.35h-1.6M200.80,594.70h1.6M327.60,594.70h-1.6" stroke="#000" stroke-width="1" fill="none"/>
<rect x="200.80" y="594.70" width="126.80" height="82.60" fill="none" stroke="#000" stroke-width="1.35"/>
<text x="211.83" y="696.60" font-size="17.5" text-anchor="middle" fill="#111">0</text>
<text x="266.96" y="696.60" font-size="17.5" text-anchor="middle" fill="#111">10</text>
<text x="322.09" y="696.60" font-size="17.5" text-anchor="middle" fill="#111">20</text>
<text x="264.20" y="582.40" font-size="17.6" text-anchor="middle" fill="#111">channel 9-R</text>
<text x="264.20" y="718.10" font-size="17.5" text-anchor="middle" fill="#111">time (s)</text>
<clipPath id="clip32"><rect x="400.80" y="594.70" width="126.80" height="82.60"/></clipPath>
<rect x="428.37" y="597.30" width="27.57" height="77.10" fill="#e5e5e5"/>
<g clip-path="url(#clip32)">
<path d="M400.92,631.55C401.53,632.45 403.40,635.94 404.58,636.93C405.76,637.93 406.87,638.17 408.01,637.51C409.16,636.84 410.30,635.22 411.45,632.93C412.59,630.64 413.74,625.68 414.88,623.77C416.03,621.86 416.98,621.57 418.32,621.48C419.65,621.38 421.37,622.81 422.90,623.19C424.42,623.58 425.95,624.05 427.48,623.77C429.00,623.48 430.72,622.24 432.06,621.48C433.39,620.71 434.35,618.62 435.49,619.19C436.64,619.76 437.78,622.91 438.93,624.91C440.07,626.92 441.22,629.49 442.36,631.21C443.51,632.93 444.65,633.50 445.80,635.22C446.94,636.93 448.09,639.61 449.23,641.51C450.38,643.42 451.52,645.04 452.67,646.67C453.81,648.29 454.96,650.77 456.10,651.25C457.25,651.72 458.38,651.15 459.53,649.53C460.68,647.90 461.95,644.55 463.00,641.49C464.05,638.44 464.72,635.10 465.86,631.19C467.01,627.28 468.44,622.13 469.87,618.03C471.30,613.93 472.92,609.74 474.44,606.59C475.97,603.44 477.69,600.58 479.02,599.15C480.36,597.72 481.31,597.34 482.45,598.01C483.60,598.67 484.74,600.58 485.89,603.15C487.03,605.73 488.18,609.83 489.32,613.45C490.46,617.08 491.61,621.94 492.75,624.90C493.90,627.85 494.85,629.95 496.19,631.19C497.52,632.43 499.24,632.43 500.76,632.34C502.29,632.24 503.82,631.00 505.34,630.62C506.87,630.24 508.39,630.62 509.92,630.05C511.44,629.48 512.97,628.33 514.50,627.19C516.02,626.04 517.74,623.18 519.07,623.18C520.41,623.18 521.10,625.95 522.51,627.19C523.92,628.43 526.70,630.05 527.54,630.62 L527.54,647.79C526.70,647.79 523.92,647.88 522.51,647.79C521.10,647.69 520.41,647.40 519.07,647.21C517.74,647.02 516.02,646.83 514.50,646.64C512.97,646.45 511.44,646.26 509.92,646.07C508.39,645.88 506.87,645.50 505.34,645.50C503.82,645.50 502.29,646.16 500.76,646.07C499.24,645.97 497.52,645.97 496.19,644.92C494.85,643.88 493.90,641.59 492.75,639.77C491.61,637.96 490.46,635.96 489.32,634.05C488.18,632.15 487.03,629.95 485.89,628.33C484.74,626.71 483.60,624.80 482.45,624.33C481.31,623.85 480.36,624.61 479.02,625.47C477.69,626.33 475.97,627.66 474.44,629.48C472.92,631.29 471.30,633.19 469.87,636.34C468.44,639.49 467.01,644.64 465.86,648.36C464.72,652.08 464.05,655.60 463.00,658.66C461.95,661.71 460.68,665.27 459.53,666.70C458.38,668.14 457.25,667.94 456.10,667.27C454.96,666.61 453.81,664.89 452.67,662.69C451.52,660.50 450.38,657.16 449.23,654.11C448.09,651.05 446.94,646.67 445.80,644.38C444.65,642.09 443.51,641.51 442.36,640.37C441.22,639.22 440.07,638.75 438.93,637.51C437.78,636.27 436.64,633.50 435.49,632.93C434.35,632.35 433.39,633.69 432.06,634.07C430.72,634.45 429.00,634.93 427.48,635.22C425.95,635.50 424.42,635.79 422.90,635.79C421.37,635.79 419.65,635.31 418.32,635.22C416.98,635.12 416.03,634.83 414.88,635.22C413.74,635.60 412.59,636.55 411.45,637.51C410.30,638.46 409.16,640.46 408.01,640.94C406.87,641.42 405.76,641.48 404.58,640.37C403.40,639.26 401.53,635.31 400.92,634.30 Z" fill="#fbcfbe" fill-opacity="0.60" stroke="none"/>
<path d="M400.92,634.64C401.34,634.32 402.44,633.37 403.43,632.70C404.43,632.03 405.72,630.60 406.87,630.64C408.01,630.68 408.97,631.88 410.30,632.93C411.64,633.98 413.55,636.17 414.88,636.93C416.22,637.70 416.98,637.70 418.32,637.51C419.65,637.32 421.37,635.98 422.90,635.79C424.42,635.60 425.95,636.08 427.48,636.36C429.00,636.65 430.72,637.22 432.06,637.51C433.39,637.79 434.35,638.27 435.49,638.08C436.64,637.89 437.78,636.93 438.93,636.36C440.07,635.79 441.22,634.93 442.36,634.64C443.51,634.36 444.65,635.98 445.80,634.64C446.94,633.31 448.09,628.73 449.23,626.63C450.38,624.53 451.52,623.00 452.67,622.05C453.81,621.10 454.96,620.71 456.10,620.91C457.25,621.10 458.38,622.15 459.53,623.19C460.68,624.24 461.66,625.38 463.00,627.19C464.34,629.00 466.05,631.95 467.58,634.05C469.10,636.15 470.63,638.15 472.15,639.77C473.68,641.40 475.40,642.92 476.73,643.78C478.07,644.64 478.83,645.12 480.17,644.92C481.50,644.73 483.22,644.07 484.74,642.64C486.27,641.21 487.79,638.34 489.32,636.34C490.85,634.34 492.56,632.05 493.90,630.62C495.23,629.19 496.00,627.95 497.33,627.76C498.67,627.57 500.38,628.71 501.91,629.48C503.43,630.24 504.96,632.05 506.49,632.34C508.01,632.62 509.54,631.57 511.06,631.19C512.59,630.81 514.12,630.05 515.64,630.05C517.17,630.05 518.69,630.91 520.22,631.19C521.74,631.48 523.58,631.67 524.80,631.76C526.02,631.86 527.08,631.76 527.54,631.76 L527.54,639.77C527.08,639.77 526.02,639.87 524.80,639.77C523.58,639.68 521.74,639.30 520.22,639.20C518.69,639.11 517.17,639.01 515.64,639.20C514.12,639.39 512.59,639.97 511.06,640.35C509.54,640.73 508.01,641.97 506.49,641.49C504.96,641.01 503.43,638.44 501.91,637.49C500.38,636.53 498.67,635.39 497.33,635.77C496.00,636.15 495.23,637.77 493.90,639.77C492.56,641.78 490.85,645.21 489.32,647.79C487.79,650.36 486.27,653.22 484.74,655.22C483.22,657.23 481.50,659.42 480.17,659.80C478.83,660.18 478.07,658.94 476.73,657.51C475.40,656.08 473.68,653.60 472.15,651.22C470.63,648.83 469.10,646.07 467.58,643.21C466.05,640.35 464.34,635.86 463.00,634.05C461.66,632.24 460.68,633.02 459.53,632.35C458.38,631.69 457.25,630.26 456.10,630.06C454.96,629.87 453.81,630.45 452.67,631.21C451.52,631.97 450.38,632.93 449.23,634.64C448.09,636.36 446.94,640.37 445.80,641.51C444.65,642.66 443.51,641.23 442.36,641.51C441.22,641.80 440.07,642.47 438.93,643.23C437.78,643.99 436.64,645.90 435.49,646.09C434.35,646.28 433.39,644.85 432.06,644.38C430.72,643.90 429.00,643.52 427.48,643.23C425.95,642.94 424.42,642.09 422.90,642.66C421.37,643.23 419.65,646.28 418.32,646.67C416.98,647.05 416.22,646.47 414.88,644.95C413.55,643.42 411.64,639.32 410.30,637.51C408.97,635.69 408.01,634.42 406.87,634.07C405.72,633.73 404.43,634.97 403.43,635.45C402.44,635.92 401.34,636.69 400.92,636.93 Z" fill="#c8cdfa" fill-opacity="0.60" stroke="none"/>
<path d="M400.92,631.55C401.53,632.45 403.40,635.94 404.58,636.93C405.76,637.93 406.87,638.17 408.01,637.51C409.16,636.84 410.30,635.22 411.45,632.93C412.59,630.64 413.74,625.68 414.88,623.77C416.03,621.86 416.98,621.57 418.32,621.48C419.65,621.38 421.37,622.81 422.90,623.19C424.42,623.58 425.95,624.05 427.48,623.77C429.00,623.48 430.72,622.24 432.06,621.48C433.39,620.71 434.35,618.62 435.49,619.19C436.64,619.76 437.78,622.91 438.93,624.91C440.07,626.92 441.22,629.49 442.36,631.21C443.51,632.93 444.65,633.50 445.80,635.22C446.94,636.93 448.09,639.61 449.23,641.51C450.38,643.42 451.52,645.04 452.67,646.67C453.81,648.29 454.96,650.77 456.10,651.25C457.25,651.72 458.38,651.15 459.53,649.53C460.68,647.90 461.95,644.55 463.00,641.49C464.05,638.44 464.72,635.10 465.86,631.19C467.01,627.28 468.44,622.13 469.87,618.03C471.30,613.93 472.92,609.74 474.44,606.59C475.97,603.44 477.69,600.58 479.02,599.15C480.36,597.72 481.31,597.34 482.45,598.01C483.60,598.67 484.74,600.58 485.89,603.15C487.03,605.73 488.18,609.83 489.32,613.45C490.46,617.08 491.61,621.94 492.75,624.90C493.90,627.85 494.85,629.95 496.19,631.19C497.52,632.43 499.24,632.43 500.76,632.34C502.29,632.24 503.82,631.00 505.34,630.62C506.87,630.24 508.39,630.62 509.92,630.05C511.44,629.48 512.97,628.33 514.50,627.19C516.02,626.04 517.74,623.18 519.07,623.18C520.41,623.18 521.10,625.95 522.51,627.19C523.92,628.43 526.70,630.05 527.54,630.62" fill="none" stroke="#eb9a96" stroke-width="1.50"/>
<path d="M400.92,634.30C401.53,635.31 403.40,639.26 404.58,640.37C405.76,641.48 406.87,641.42 408.01,640.94C409.16,640.46 410.30,638.46 411.45,637.51C412.59,636.55 413.74,635.60 414.88,635.22C416.03,634.83 416.98,635.12 418.32,635.22C419.65,635.31 421.37,635.79 422.90,635.79C424.42,635.79 425.95,635.50 427.48,635.22C429.00,634.93 430.72,634.45 432.06,634.07C433.39,633.69 434.35,632.35 435.49,632.93C436.64,633.50 437.78,636.27 438.93,637.51C440.07,638.75 441.22,639.22 442.36,640.37C443.51,641.51 444.65,642.09 445.80,644.38C446.94,646.67 448.09,651.05 449.23,654.11C450.38,657.16 451.52,660.50 452.67,662.69C453.81,664.89 454.96,666.61 456.10,667.27C457.25,667.94 458.38,668.14 459.53,666.70C460.68,665.27 461.95,661.71 463.00,658.66C464.05,655.60 464.72,652.08 465.86,648.36C467.01,644.64 468.44,639.49 469.87,636.34C471.30,633.19 472.92,631.29 474.44,629.48C475.97,627.66 477.69,626.33 479.02,625.47C480.36,624.61 481.31,623.85 482.45,624.33C483.60,624.80 484.74,626.71 485.89,628.33C487.03,629.95 488.18,632.15 489.32,634.05C490.46,635.96 491.61,637.96 492.75,639.77C493.90,641.59 494.85,643.88 496.19,644.92C497.52,645.97 499.24,645.97 500.76,646.07C502.29,646.16 503.82,645.50 505.34,645.50C506.87,645.50 508.39,645.88 509.92,646.07C511.44,646.26 512.97,646.45 514.50,646.64C516.02,646.83 517.74,647.02 519.07,647.21C520.41,647.40 521.10,647.69 522.51,647.79C523.92,647.88 526.70,647.79 527.54,647.79" fill="none" stroke="#eb9a96" stroke-width="1.50"/>
<path d="M400.92,634.64C401.34,634.32 402.44,633.37 403.43,632.70C404.43,632.03 405.72,630.60 406.87,630.64C408.01,630.68 408.97,631.88 410.30,632.93C411.64,633.98 413.55,636.17 414.88,636.93C416.22,637.70 416.98,637.70 418.32,637.51C419.65,637.32 421.37,635.98 422.90,635.79C424.42,635.60 425.95,636.08 427.48,636.36C429.00,636.65 430.72,637.22 432.06,637.51C433.39,637.79 434.35,638.27 435.49,638.08C436.64,637.89 437.78,636.93 438.93,636.36C440.07,635.79 441.22,634.93 442.36,634.64C443.51,634.36 444.65,635.98 445.80,634.64C446.94,633.31 448.09,628.73 449.23,626.63C450.38,624.53 451.52,623.00 452.67,622.05C453.81,621.10 454.96,620.71 456.10,620.91C457.25,621.10 458.38,622.15 459.53,623.19C460.68,624.24 461.66,625.38 463.00,627.19C464.34,629.00 466.05,631.95 467.58,634.05C469.10,636.15 470.63,638.15 472.15,639.77C473.68,641.40 475.40,642.92 476.73,643.78C478.07,644.64 478.83,645.12 480.17,644.92C481.50,644.73 483.22,644.07 484.74,642.64C486.27,641.21 487.79,638.34 489.32,636.34C490.85,634.34 492.56,632.05 493.90,630.62C495.23,629.19 496.00,627.95 497.33,627.76C498.67,627.57 500.38,628.71 501.91,629.48C503.43,630.24 504.96,632.05 506.49,632.34C508.01,632.62 509.54,631.57 511.06,631.19C512.59,630.81 514.12,630.05 515.64,630.05C517.17,630.05 518.69,630.91 520.22,631.19C521.74,631.48 523.58,631.67 524.80,631.76C526.02,631.86 527.08,631.76 527.54,631.76" fill="none" stroke="#8c8fcc" stroke-width="1.50"/>
<path d="M400.92,636.93C401.34,636.69 402.44,635.92 403.43,635.45C404.43,634.97 405.72,633.73 406.87,634.07C408.01,634.42 408.97,635.69 410.30,637.51C411.64,639.32 413.55,643.42 414.88,644.95C416.22,646.47 416.98,647.05 418.32,646.67C419.65,646.28 421.37,643.23 422.90,642.66C424.42,642.09 425.95,642.94 427.48,643.23C429.00,643.52 430.72,643.90 432.06,644.38C433.39,644.85 434.35,646.28 435.49,646.09C436.64,645.90 437.78,643.99 438.93,643.23C440.07,642.47 441.22,641.80 442.36,641.51C443.51,641.23 444.65,642.66 445.80,641.51C446.94,640.37 448.09,636.36 449.23,634.64C450.38,632.93 451.52,631.97 452.67,631.21C453.81,630.45 454.96,629.87 456.10,630.06C457.25,630.26 458.38,631.69 459.53,632.35C460.68,633.02 461.66,632.24 463.00,634.05C464.34,635.86 466.05,640.35 467.58,643.21C469.10,646.07 470.63,648.83 472.15,651.22C473.68,653.60 475.40,656.08 476.73,657.51C478.07,658.94 478.83,660.18 480.17,659.80C481.50,659.42 483.22,657.23 484.74,655.22C486.27,653.22 487.79,650.36 489.32,647.79C490.85,645.21 492.56,641.78 493.90,639.77C495.23,637.77 496.00,636.15 497.33,635.77C498.67,635.39 500.38,636.53 501.91,637.49C503.43,638.44 504.96,641.01 506.49,641.49C508.01,641.97 509.54,640.73 511.06,640.35C512.59,639.97 514.12,639.39 515.64,639.20C517.17,639.01 518.69,639.11 520.22,639.20C521.74,639.30 523.58,639.68 524.80,639.77C526.02,639.87 527.08,639.77 527.54,639.77" fill="none" stroke="#8c8fcc" stroke-width="1.50"/>
<path d="M400.92,632.93C401.53,633.88 403.40,637.60 404.58,638.65C405.76,639.70 406.87,639.80 408.01,639.22C409.16,638.65 410.30,636.84 411.45,635.22C412.59,633.59 413.74,630.64 414.88,629.49C416.03,628.35 416.98,628.35 418.32,628.35C419.65,628.35 421.37,629.30 422.90,629.49C424.42,629.68 425.95,629.78 427.48,629.49C429.00,629.21 430.72,628.35 432.06,627.77C433.39,627.20 434.35,625.48 435.49,626.06C436.64,626.63 437.78,629.59 438.93,631.21C440.07,632.83 441.22,634.36 442.36,635.79C443.51,637.22 444.65,637.79 445.80,639.80C446.94,641.80 448.09,645.33 449.23,647.81C450.38,650.29 451.52,652.77 452.67,654.68C453.81,656.59 454.96,658.69 456.10,659.26C457.25,659.83 458.38,659.65 459.53,658.11C460.68,656.58 461.95,653.13 463.00,650.07C464.05,647.02 464.72,643.59 465.86,639.77C467.01,635.96 468.44,630.81 469.87,627.19C471.30,623.56 472.92,620.51 474.44,618.03C475.97,615.55 477.69,613.45 479.02,612.31C480.36,611.17 481.31,610.59 482.45,611.17C483.60,611.74 484.74,613.64 485.89,615.74C487.03,617.84 488.18,620.99 489.32,623.75C490.46,626.52 491.61,629.95 492.75,632.34C493.90,634.72 494.85,636.91 496.19,638.06C497.52,639.20 499.24,639.20 500.76,639.20C502.29,639.20 503.82,638.25 505.34,638.06C506.87,637.87 508.39,638.25 509.92,638.06C511.44,637.87 512.97,637.39 514.50,636.91C516.02,636.44 517.74,635.10 519.07,635.20C520.41,635.29 521.10,636.82 522.51,637.49C523.92,638.15 526.70,638.92 527.54,639.20" fill="none" stroke="#d03a2c" stroke-width="1.90" stroke-linejoin="round"/>
<path d="M400.92,635.79C401.34,635.50 402.44,634.64 403.43,634.07C404.43,633.50 405.72,632.16 406.87,632.35C408.01,632.55 408.97,633.79 410.30,635.22C411.64,636.65 413.55,639.80 414.88,640.94C416.22,642.09 416.98,642.37 418.32,642.09C419.65,641.80 421.37,639.61 422.90,639.22C424.42,638.84 425.95,639.51 427.48,639.80C429.00,640.08 430.72,640.56 432.06,640.94C433.39,641.32 434.35,642.28 435.49,642.09C436.64,641.90 437.78,640.46 438.93,639.80C440.07,639.13 441.22,638.36 442.36,638.08C443.51,637.79 444.65,639.32 445.80,638.08C446.94,636.84 448.09,632.55 449.23,630.64C450.38,628.73 451.52,627.49 452.67,626.63C453.81,625.77 454.96,625.29 456.10,625.48C457.25,625.68 458.38,626.92 459.53,627.77C460.68,628.63 461.66,628.81 463.00,630.62C464.34,632.43 466.05,636.15 467.58,638.63C469.10,641.11 470.63,643.49 472.15,645.50C473.68,647.50 475.40,649.50 476.73,650.65C478.07,651.79 478.83,652.65 480.17,652.36C481.50,652.08 483.22,650.65 484.74,648.93C486.27,647.21 487.79,644.35 489.32,642.06C490.85,639.77 492.56,636.91 493.90,635.20C495.23,633.48 496.00,632.05 497.33,631.76C498.67,631.48 500.38,632.62 501.91,633.48C503.43,634.34 504.96,636.53 506.49,636.91C508.01,637.30 509.54,636.15 511.06,635.77C512.59,635.39 514.12,634.72 515.64,634.62C517.17,634.53 518.69,635.01 520.22,635.20C521.74,635.39 523.58,635.67 524.80,635.77C526.02,635.86 527.08,635.77 527.54,635.77" fill="none" stroke="#4450a8" stroke-width="1.90" stroke-linejoin="round"/>
</g>
<path d="M411.83,677.30v-1.6M411.83,594.70v1.6M466.96,677.30v-1.6M466.96,594.70v1.6M522.09,677.30v-1.6M522.09,594.70v1.6M400.80,677.30h1.6M527.60,677.30h-1.6M400.80,656.65h1.6M527.60,656.65h-1.6M400.80,636.00h1.6M527.60,636.00h-1.6M400.80,615.35h1.6M527.60,615.35h-1.6M400.80,594.70h1.6M527.60,594.70h-1.6" stroke="#000" stroke-width="1" fill="none"/>
<rect x="400.80" y="594.70" width="126.80" height="82.60" fill="none" stroke="#000" stroke-width="1.35"/>
<text x="411.83" y="696.60" font-size="17.5" text-anchor="middle" fill="#111">0</text>
<text x="466.96" y="696.60" font-size="17.5" text-anchor="middle" fill="#111">10</text>
<text x="522.09" y="696.60" font-size="17.5" text-anchor="middle" fill="#111">20</text>
<text x="393.20" y="600.70" font-size="17.5" text-anchor="end" fill="#111">0.4</text>
<text x="393.20" y="621.35" font-size="17.5" text-anchor="end" fill="#111">0.2</text>
<text x="393.20" y="642.00" font-size="17.5" text-anchor="end" fill="#111">0</text>
<text x="393.20" y="662.65" font-size="17.5" text-anchor="end" fill="#111">-0.2</text>
<text x="393.20" y="683.30" font-size="17.5" text-anchor="end" fill="#111">-0.4</text>
<text x="464.20" y="582.40" font-size="17.6" text-anchor="middle" fill="#111">channel 9-L</text>
<text x="464.20" y="718.10" font-size="17.5" text-anchor="middle" fill="#111">time (s)</text>
<clipPath id="clip33"><rect x="539.60" y="594.70" width="126.80" height="82.60"/></clipPath>
<rect x="567.17" y="597.30" width="27.57" height="77.10" fill="#e5e5e5"/>
<g clip-path="url(#clip33)">
<path d="M539.69,636.70C540.34,636.70 542.17,637.53 543.58,636.70C544.99,635.88 546.63,632.89 548.16,631.78C549.69,630.68 551.21,630.26 552.74,630.06C554.27,629.87 555.79,630.83 557.32,630.64C558.84,630.45 560.37,629.49 561.90,628.92C563.42,628.35 564.95,627.87 566.48,627.20C568.00,626.53 569.53,625.48 571.06,624.91C572.58,624.34 574.11,623.19 575.64,623.77C577.16,624.34 578.88,626.63 580.22,628.35C581.55,630.06 582.51,632.26 583.65,634.07C584.80,635.88 585.94,637.70 587.09,639.22C588.23,640.75 589.38,641.99 590.52,643.23C591.67,644.47 592.81,645.81 593.96,646.67C595.10,647.52 596.25,648.48 597.39,648.38C598.53,648.29 599.48,647.91 600.82,646.09C602.17,644.28 603.90,639.49 605.43,637.49C606.96,635.48 608.48,635.48 610.01,634.05C611.54,632.62 613.06,630.72 614.59,628.90C616.11,627.09 617.83,624.52 619.17,623.18C620.50,621.85 621.45,620.42 622.60,620.89C623.74,621.37 624.89,624.13 626.03,626.04C627.18,627.95 628.13,630.91 629.46,632.34C630.80,633.77 632.52,634.15 634.04,634.62C635.57,635.10 637.09,635.10 638.62,635.20C640.15,635.29 641.67,635.10 643.20,635.20C644.72,635.29 646.25,635.96 647.77,635.77C649.30,635.58 650.83,635.29 652.35,634.05C653.88,632.81 655.40,629.67 656.93,628.33C658.46,627.00 659.90,626.04 661.51,626.04C663.11,626.04 665.70,627.95 666.54,628.33 L666.54,638.63C665.70,638.25 663.11,636.34 661.51,636.34C659.90,636.34 658.46,637.49 656.93,638.63C655.40,639.77 653.88,641.97 652.35,643.21C650.83,644.45 649.30,645.69 647.77,646.07C646.25,646.45 644.72,645.59 643.20,645.50C641.67,645.40 640.15,645.59 638.62,645.50C637.09,645.40 635.57,645.40 634.04,644.92C632.52,644.45 630.80,643.88 629.46,642.64C628.13,641.40 627.18,638.82 626.03,637.49C624.89,636.15 623.74,634.91 622.60,634.62C621.45,634.34 620.50,635.20 619.17,635.77C617.83,636.34 616.11,637.01 614.59,638.06C613.06,639.11 611.54,640.63 610.01,642.06C608.48,643.49 606.96,644.25 605.43,646.64C603.90,649.03 602.17,654.39 600.82,656.40C599.48,658.40 598.53,658.59 597.39,658.69C596.25,658.78 595.10,658.02 593.96,656.97C592.81,655.92 591.67,654.01 590.52,652.39C589.38,650.77 588.23,649.15 587.09,647.24C585.94,645.33 584.80,642.56 583.65,640.94C582.51,639.32 581.55,638.27 580.22,637.51C578.88,636.74 577.16,636.55 575.64,636.36C574.11,636.17 572.58,636.36 571.06,636.36C569.53,636.36 568.00,636.27 566.48,636.36C564.95,636.46 563.42,636.74 561.90,636.93C560.37,637.12 558.84,637.51 557.32,637.51C555.79,637.51 554.27,636.93 552.74,636.93C551.21,636.93 549.69,637.09 548.16,637.51C546.63,637.93 544.99,639.13 543.58,639.45C542.17,639.78 540.34,639.45 539.69,639.45 Z" fill="#fbcfbe" fill-opacity="0.60" stroke="none"/>
<path d="M539.69,631.78C540.34,631.92 542.17,632.01 543.58,632.58C544.99,633.16 547.01,634.64 548.16,635.22C549.30,635.79 549.30,636.21 550.45,636.02C551.59,635.83 553.50,634.49 555.03,634.07C556.56,633.65 558.08,633.50 559.61,633.50C561.13,633.50 562.66,633.79 564.19,634.07C565.71,634.36 567.24,634.83 568.77,635.22C570.29,635.60 571.82,636.27 573.35,636.36C574.87,636.46 576.40,636.46 577.93,635.79C579.45,635.12 581.17,633.69 582.51,632.35C583.84,631.02 584.61,629.30 585.94,627.77C587.28,626.25 589.18,624.34 590.52,623.19C591.86,622.05 592.81,621.00 593.96,620.91C595.10,620.81 596.25,621.76 597.39,622.62C598.53,623.48 599.29,624.53 600.82,626.06C602.36,627.58 604.86,630.53 606.58,631.76C608.30,633.00 609.63,632.91 611.15,633.48C612.68,634.05 614.02,634.53 615.73,635.20C617.45,635.86 619.74,637.68 621.45,637.49C623.17,637.30 624.51,635.67 626.03,634.05C627.56,632.43 629.08,629.19 630.61,627.76C632.13,626.33 633.66,625.76 635.19,625.47C636.71,625.18 638.24,625.85 639.76,626.04C641.29,626.23 642.82,626.33 644.34,626.61C645.87,626.90 647.39,627.09 648.92,627.76C650.44,628.43 651.97,629.57 653.50,630.62C655.02,631.67 656.55,633.10 658.07,634.05C659.60,635.01 661.24,636.06 662.65,636.34C664.06,636.63 665.89,635.86 666.54,635.77 L666.54,644.92C665.89,645.02 664.06,645.78 662.65,645.50C661.24,645.21 659.60,644.16 658.07,643.21C656.55,642.25 655.02,640.82 653.50,639.77C651.97,638.73 650.44,637.58 648.92,636.91C647.39,636.25 645.87,636.06 644.34,635.77C642.82,635.48 641.29,635.39 639.76,635.20C638.24,635.01 636.71,634.34 635.19,634.62C633.66,634.91 632.13,635.48 630.61,636.91C629.08,638.34 627.56,641.40 626.03,643.21C624.51,645.02 623.17,647.79 621.45,647.79C619.74,647.79 617.45,644.45 615.73,643.21C614.02,641.97 612.68,641.11 611.15,640.35C609.63,639.58 608.30,639.68 606.58,638.63C604.86,637.58 602.36,635.21 600.82,634.07C599.29,632.93 598.53,632.26 597.39,631.78C596.25,631.30 595.10,631.11 593.96,631.21C592.81,631.30 591.86,631.59 590.52,632.35C589.18,633.12 587.28,634.64 585.94,635.79C584.61,636.93 583.84,638.08 582.51,639.22C581.17,640.37 579.45,641.99 577.93,642.66C576.40,643.33 574.87,643.52 573.35,643.23C571.82,642.94 570.29,641.51 568.77,640.94C567.24,640.37 565.71,640.08 564.19,639.80C562.66,639.51 561.13,639.22 559.61,639.22C558.08,639.22 556.56,639.26 555.03,639.80C553.50,640.33 551.59,642.24 550.45,642.43C549.30,642.62 549.30,641.90 548.16,640.94C547.01,639.99 544.99,637.66 543.58,636.70C542.17,635.75 540.34,635.46 539.69,635.22 Z" fill="#c8cdfa" fill-opacity="0.60" stroke="none"/>
<path d="M539.69,636.70C540.34,636.70 542.17,637.53 543.58,636.70C544.99,635.88 546.63,632.89 548.16,631.78C549.69,630.68 551.21,630.26 552.74,630.06C554.27,629.87 555.79,630.83 557.32,630.64C558.84,630.45 560.37,629.49 561.90,628.92C563.42,628.35 564.95,627.87 566.48,627.20C568.00,626.53 569.53,625.48 571.06,624.91C572.58,624.34 574.11,623.19 575.64,623.77C577.16,624.34 578.88,626.63 580.22,628.35C581.55,630.06 582.51,632.26 583.65,634.07C584.80,635.88 585.94,637.70 587.09,639.22C588.23,640.75 589.38,641.99 590.52,643.23C591.67,644.47 592.81,645.81 593.96,646.67C595.10,647.52 596.25,648.48 597.39,648.38C598.53,648.29 599.48,647.91 600.82,646.09C602.17,644.28 603.90,639.49 605.43,637.49C606.96,635.48 608.48,635.48 610.01,634.05C611.54,632.62 613.06,630.72 614.59,628.90C616.11,627.09 617.83,624.52 619.17,623.18C620.50,621.85 621.45,620.42 622.60,620.89C623.74,621.37 624.89,624.13 626.03,626.04C627.18,627.95 628.13,630.91 629.46,632.34C630.80,633.77 632.52,634.15 634.04,634.62C635.57,635.10 637.09,635.10 638.62,635.20C640.15,635.29 641.67,635.10 643.20,635.20C644.72,635.29 646.25,635.96 647.77,635.77C649.30,635.58 650.83,635.29 652.35,634.05C653.88,632.81 655.40,629.67 656.93,628.33C658.46,627.00 659.90,626.04 661.51,626.04C663.11,626.04 665.70,627.95 666.54,628.33" fill="none" stroke="#eb9a96" stroke-width="1.50"/>
<path d="M539.69,639.45C540.34,639.45 542.17,639.78 543.58,639.45C544.99,639.13 546.63,637.93 548.16,637.51C549.69,637.09 551.21,636.93 552.74,636.93C554.27,636.93 555.79,637.51 557.32,637.51C558.84,637.51 560.37,637.12 561.90,636.93C563.42,636.74 564.95,636.46 566.48,636.36C568.00,636.27 569.53,636.36 571.06,636.36C572.58,636.36 574.11,636.17 575.64,636.36C577.16,636.55 578.88,636.74 580.22,637.51C581.55,638.27 582.51,639.32 583.65,640.94C584.80,642.56 585.94,645.33 587.09,647.24C588.23,649.15 589.38,650.77 590.52,652.39C591.67,654.01 592.81,655.92 593.96,656.97C595.10,658.02 596.25,658.78 597.39,658.69C598.53,658.59 599.48,658.40 600.82,656.40C602.17,654.39 603.90,649.03 605.43,646.64C606.96,644.25 608.48,643.49 610.01,642.06C611.54,640.63 613.06,639.11 614.59,638.06C616.11,637.01 617.83,636.34 619.17,635.77C620.50,635.20 621.45,634.34 622.60,634.62C623.74,634.91 624.89,636.15 626.03,637.49C627.18,638.82 628.13,641.40 629.46,642.64C630.80,643.88 632.52,644.45 634.04,644.92C635.57,645.40 637.09,645.40 638.62,645.50C640.15,645.59 641.67,645.40 643.20,645.50C644.72,645.59 646.25,646.45 647.77,646.07C649.30,645.69 650.83,644.45 652.35,643.21C653.88,641.97 655.40,639.77 656.93,638.63C658.46,637.49 659.90,636.34 661.51,636.34C663.11,636.34 665.70,638.25 666.54,638.63" fill="none" stroke="#eb9a96" stroke-width="1.50"/>
<path d="M539.69,631.78C540.34,631.92 542.17,632.01 543.58,632.58C544.99,633.16 547.01,634.64 548.16,635.22C549.30,635.79 549.30,636.21 550.45,636.02C551.59,635.83 553.50,634.49 555.03,634.07C556.56,633.65 558.08,633.50 559.61,633.50C561.13,633.50 562.66,633.79 564.19,634.07C565.71,634.36 567.24,634.83 568.77,635.22C570.29,635.60 571.82,636.27 573.35,636.36C574.87,636.46 576.40,636.46 577.93,635.79C579.45,635.12 581.17,633.69 582.51,632.35C583.84,631.02 584.61,629.30 585.94,627.77C587.28,626.25 589.18,624.34 590.52,623.19C591.86,622.05 592.81,621.00 593.96,620.91C595.10,620.81 596.25,621.76 597.39,622.62C598.53,623.48 599.29,624.53 600.82,626.06C602.36,627.58 604.86,630.53 606.58,631.76C608.30,633.00 609.63,632.91 611.15,633.48C612.68,634.05 614.02,634.53 615.73,635.20C617.45,635.86 619.74,637.68 621.45,637.49C623.17,637.30 624.51,635.67 626.03,634.05C627.56,632.43 629.08,629.19 630.61,627.76C632.13,626.33 633.66,625.76 635.19,625.47C636.71,625.18 638.24,625.85 639.76,626.04C641.29,626.23 642.82,626.33 644.34,626.61C645.87,626.90 647.39,627.09 648.92,627.76C650.44,628.43 651.97,629.57 653.50,630.62C655.02,631.67 656.55,633.10 658.07,634.05C659.60,635.01 661.24,636.06 662.65,636.34C664.06,636.63 665.89,635.86 666.54,635.77" fill="none" stroke="#8c8fcc" stroke-width="1.50"/>
<path d="M539.69,635.22C540.34,635.46 542.17,635.75 543.58,636.70C544.99,637.66 547.01,639.99 548.16,640.94C549.30,641.90 549.30,642.62 550.45,642.43C551.59,642.24 553.50,640.33 555.03,639.80C556.56,639.26 558.08,639.22 559.61,639.22C561.13,639.22 562.66,639.51 564.19,639.80C565.71,640.08 567.24,640.37 568.77,640.94C570.29,641.51 571.82,642.94 573.35,643.23C574.87,643.52 576.40,643.33 577.93,642.66C579.45,641.99 581.17,640.37 582.51,639.22C583.84,638.08 584.61,636.93 585.94,635.79C587.28,634.64 589.18,633.12 590.52,632.35C591.86,631.59 592.81,631.30 593.96,631.21C595.10,631.11 596.25,631.30 597.39,631.78C598.53,632.26 599.29,632.93 600.82,634.07C602.36,635.21 604.86,637.58 606.58,638.63C608.30,639.68 609.63,639.58 611.15,640.35C612.68,641.11 614.02,641.97 615.73,643.21C617.45,644.45 619.74,647.79 621.45,647.79C623.17,647.79 624.51,645.02 626.03,643.21C627.56,641.40 629.08,638.34 630.61,636.91C632.13,635.48 633.66,634.91 635.19,634.62C636.71,634.34 638.24,635.01 639.76,635.20C641.29,635.39 642.82,635.48 644.34,635.77C645.87,636.06 647.39,636.25 648.92,636.91C650.44,637.58 651.97,638.73 653.50,639.77C655.02,640.82 656.55,642.25 658.07,643.21C659.60,644.16 661.24,645.21 662.65,645.50C664.06,645.78 665.89,645.02 666.54,644.92" fill="none" stroke="#8c8fcc" stroke-width="1.50"/>
<path d="M539.69,638.08C540.34,638.08 542.17,638.65 543.58,638.08C544.99,637.51 546.63,635.41 548.16,634.64C549.69,633.88 551.21,633.59 552.74,633.50C554.27,633.40 555.79,634.17 557.32,634.07C558.84,633.98 560.37,633.31 561.90,632.93C563.42,632.55 564.95,632.16 566.48,631.78C568.00,631.40 569.53,630.92 571.06,630.64C572.58,630.35 574.11,629.68 575.64,630.06C577.16,630.45 578.88,631.69 580.22,632.93C581.55,634.17 582.51,635.79 583.65,637.51C584.80,639.22 585.94,641.51 587.09,643.23C588.23,644.95 589.38,646.38 590.52,647.81C591.67,649.24 592.81,650.86 593.96,651.82C595.10,652.77 596.25,653.63 597.39,653.53C598.53,653.44 599.48,653.16 600.82,651.25C602.17,649.33 603.90,644.26 605.43,642.06C606.96,639.87 608.48,639.49 610.01,638.06C611.54,636.63 613.06,634.91 614.59,633.48C616.11,632.05 617.83,630.43 619.17,629.48C620.50,628.52 621.45,627.38 622.60,627.76C623.74,628.14 624.89,630.14 626.03,631.76C627.18,633.39 628.13,636.15 629.46,637.49C630.80,638.82 632.52,639.30 634.04,639.77C635.57,640.25 637.09,640.25 638.62,640.35C640.15,640.44 641.67,640.25 643.20,640.35C644.72,640.44 646.25,641.21 647.77,640.92C649.30,640.63 650.83,639.87 652.35,638.63C653.88,637.39 655.40,634.72 656.93,633.48C658.46,632.24 659.90,631.19 661.51,631.19C663.11,631.19 665.70,633.10 666.54,633.48" fill="none" stroke="#d03a2c" stroke-width="1.90" stroke-linejoin="round"/>
<path d="M539.69,633.50C540.34,633.69 542.17,633.88 543.58,634.64C544.99,635.41 547.01,637.32 548.16,638.08C549.30,638.84 549.30,639.41 550.45,639.22C551.59,639.03 553.50,637.41 555.03,636.93C556.56,636.46 558.08,636.36 559.61,636.36C561.13,636.36 562.66,636.65 564.19,636.93C565.71,637.22 567.24,637.60 568.77,638.08C570.29,638.56 571.82,639.61 573.35,639.80C574.87,639.99 576.40,639.89 577.93,639.22C579.45,638.56 581.17,637.03 582.51,635.79C583.84,634.55 584.61,633.12 585.94,631.78C587.28,630.45 589.18,628.73 590.52,627.77C591.86,626.82 592.81,626.15 593.96,626.06C595.10,625.96 596.25,626.53 597.39,627.20C598.53,627.87 599.29,628.73 600.82,630.06C602.36,631.40 604.86,634.06 606.58,635.20C608.30,636.34 609.63,636.25 611.15,636.91C612.68,637.58 614.02,638.25 615.73,639.20C617.45,640.16 619.74,642.73 621.45,642.64C623.17,642.54 624.51,640.35 626.03,638.63C627.56,636.91 629.08,633.77 630.61,632.34C632.13,630.91 633.66,630.33 635.19,630.05C636.71,629.76 638.24,630.43 639.76,630.62C641.29,630.81 642.82,630.91 644.34,631.19C645.87,631.48 647.39,631.67 648.92,632.34C650.44,633.00 651.97,634.15 653.50,635.20C655.02,636.25 656.55,637.68 658.07,638.63C659.60,639.58 661.24,640.63 662.65,640.92C664.06,641.21 665.89,640.44 666.54,640.35" fill="none" stroke="#4450a8" stroke-width="1.90" stroke-linejoin="round"/>
</g>
<path d="M550.63,677.30v-1.6M550.63,594.70v1.6M605.76,677.30v-1.6M605.76,594.70v1.6M660.89,677.30v-1.6M660.89,594.70v1.6M539.60,677.30h1.6M666.40,677.30h-1.6M539.60,656.65h1.6M666.40,656.65h-1.6M539.60,636.00h1.6M666.40,636.00h-1.6M539.60,615.35h1.6M666.40,615.35h-1.6M539.60,594.70h1.6M666.40,594.70h-1.6" stroke="#000" stroke-width="1" fill="none"/>
<rect x="539.60" y="594.70" width="126.80" height="82.60" fill="none" stroke="#000" stroke-width="1.35"/>
<text x="550.63" y="696.60" font-size="17.5" text-anchor="middle" fill="#111">0</text>
<text x="605.76" y="696.60" font-size="17.5" text-anchor="middle" fill="#111">10</text>
<text x="660.89" y="696.60" font-size="17.5" text-anchor="middle" fill="#111">20</text>
<text x="603.00" y="582.40" font-size="17.6" text-anchor="middle" fill="#111">channel 9-R</text>
<text x="603.00" y="718.10" font-size="17.5" text-anchor="middle" fill="#111">time (s)</text>
<rect x="60.30" y="445.80" width="130.60" height="86.40" fill="none" stroke="#000" stroke-width="5.2"/>
<rect x="60.30" y="592.80" width="130.60" height="86.40" fill="none" stroke="#000" stroke-width="5.2"/>
<rect x="398.90" y="445.80" width="130.60" height="86.40" fill="none" stroke="#000" stroke-width="5.2"/>
<rect x="398.90" y="592.80" width="130.60" height="86.40" fill="none" stroke="#000" stroke-width="5.2"/>
<text x="195.20" y="15.40" font-size="17.2" font-weight="bold" text-anchor="middle" fill="#111" style="stroke:none" letter-spacing="0.25">CONTROL-STG</text>
<text x="533.90" y="15.40" font-size="17.2" font-weight="bold" text-anchor="middle" fill="#111" style="stroke:none" letter-spacing="0.25">STUTT-STG</text>
<text x="195.20" y="399.50" font-size="17.2" font-weight="bold" text-anchor="middle" fill="#111" style="stroke:none" letter-spacing="0.25">CONTROL-PMC</text>
<text x="533.90" y="399.50" font-size="17.2" font-weight="bold" text-anchor="middle" fill="#111" style="stroke:none" letter-spacing="0.25">STUTT-PMC</text>
</svg></body></html>
